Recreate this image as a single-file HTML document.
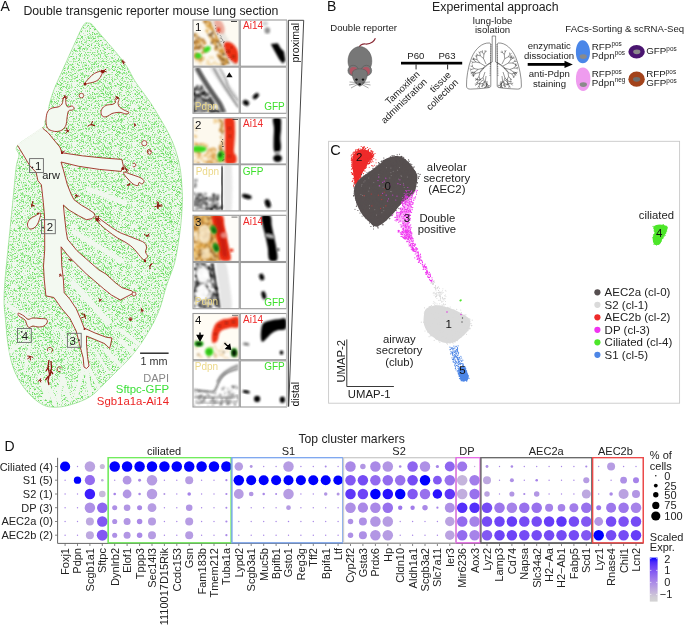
<!DOCTYPE html>
<html><head><meta charset="utf-8"><style>
html,body{margin:0;padding:0;background:#fff;}
body{width:685px;height:628px;overflow:hidden;position:relative;}
svg{position:absolute;left:0;top:0;font-family:"Liberation Sans",sans-serif;will-change:transform;}
</style></head><body>
<svg width="685" height="628" viewBox="0 0 685 628">
<text x="0.6" y="10.9" font-size="14" fill="#111" text-anchor="start" >A</text><text x="23.4" y="15.2" font-size="12.3" fill="#222" text-anchor="start" >Double transgenic reporter mouse lung section</text><defs><clipPath id="lungclip"><path d="M88.5,23.0 C89.9,22.9 90.7,23.4 92.0,24.5 C93.3,25.6 94.1,26.9 96.4,29.6 C98.7,32.3 102.7,37.0 105.9,40.7 C109.1,44.4 112.0,47.5 115.5,51.8 C119.0,56.0 123.4,61.4 126.6,66.2 C129.8,71.0 131.9,76.2 134.6,80.5 C137.2,84.8 139.8,88.0 142.5,91.7 C145.2,95.4 147.7,98.6 150.5,102.8 C153.3,107.0 156.1,111.6 159.3,117.1 C162.5,122.5 166.8,129.8 169.6,135.5 C172.4,141.2 174.3,146.1 176.0,151.4 C177.7,156.7 179.1,162.2 180.0,167.3 C180.9,172.4 181.2,176.4 181.6,181.7 C182.0,187.0 182.4,193.5 182.4,199.2 C182.4,204.9 182.0,210.5 181.6,215.9 C181.2,221.3 180.7,226.5 180.0,231.8 C179.3,237.1 178.5,242.5 177.6,247.8 C176.7,253.1 175.9,258.3 174.4,263.7 C172.9,269.1 170.2,275.2 168.5,280.0 C166.8,284.8 165.8,287.9 164.5,292.4 C163.2,296.9 162.1,302.1 160.4,306.9 C158.7,311.7 156.6,316.6 154.2,321.4 C151.8,326.2 148.7,331.4 145.9,335.9 C143.1,340.4 140.7,344.2 137.6,348.3 C134.5,352.4 130.8,356.9 127.3,360.7 C123.8,364.5 120.4,367.7 116.9,371.1 C113.5,374.6 110.0,377.9 106.6,381.4 C103.1,384.8 99.4,389.0 96.2,391.8 C93.0,394.6 91.1,396.2 87.6,398.1 C84.1,400.0 79.7,401.9 75.3,403.3 C70.9,404.8 65.7,406.2 61.3,406.8 C56.9,407.4 52.5,407.4 49.0,406.8 C45.5,406.2 43.5,405.3 40.3,403.3 C37.1,401.3 33.3,398.4 29.8,394.6 C26.3,390.8 22.2,385.6 19.3,380.6 C16.4,375.6 14.2,370.9 12.3,364.8 C10.4,358.7 9.1,351.7 7.9,343.8 C6.7,335.9 6.0,324.8 5.3,317.5 C4.6,310.2 4.0,307.0 4.0,300.0 C4.0,293.0 4.7,284.0 5.4,275.4 C6.1,266.8 7.2,257.3 8.1,248.3 C9.0,239.3 9.9,230.2 10.8,221.2 C11.7,212.2 12.6,203.1 13.5,194.1 C14.4,185.1 15.3,173.5 16.2,167.0 C17.1,160.5 18.8,158.6 19.0,155.0 C19.2,151.4 13.7,149.9 17.6,145.4 C21.5,140.9 37.8,132.1 42.4,128.0 C47.0,123.9 44.2,122.8 45.0,121.0 C45.8,119.2 46.5,120.0 47.2,117.3 C47.9,114.6 48.1,109.7 49.3,104.9 C50.5,100.1 52.2,94.2 54.5,88.3 C56.8,82.4 59.7,76.6 62.8,69.7 C65.9,62.8 69.6,54.3 73.1,46.9 C76.5,39.5 80.9,29.2 83.5,25.2 C86.1,21.2 87.1,23.1 88.5,23.0 Z"/></clipPath><pattern id="speck" x="0" y="0" width="60" height="60" patternUnits="userSpaceOnUse"><path d="M8 7h1M47 29h1M35 36h1M42 1h1M29 8h1M24 55h1M32 4h1M32 7h1M45 56h1M58 37h1M52 22h1M8 30h1M26 39h1M59 16h1M51 8h1M20 47h1M14 40h1M27 30h1M56 49h1M50 32h1M58 58h1M8 12h1M18 33h1M49 29h1M59 21h1M55 35h1M43 14h1M35 48h1M53 52h1M58 7h1M46 28h1M41 16h1M0 4h1M58 53h1M18 25h1M14 8h1M51 40h1M4 12h1M33 54h1M59 13h1M36 1h1M10 12h1M26 20h1M43 28h1M20 54h1M37 41h1M44 20h1M53 1h1M18 9h1M0 59h1M5 27h1M49 41h1M51 3h1M29 2h1M11 50h1M4 35h1M1 18h1M55 19h1M18 5h1M46 10h1M29 1h1M1 50h1M0 27h1M25 7h1M38 44h1M59 11h1M55 3h1M8 35h1M52 53h1M44 1h1M25 48h1M31 11h1M40 5h1M41 1h1M21 17h1M56 43h1M39 29h1M17 51h1M56 13h1M14 18h1M28 15h1M24 58h1M22 56h1M30 20h1M56 26h1M46 18h1M59 44h1M52 2h1M6 4h1M31 24h1M58 14h1M10 50h1M18 44h1M17 32h1M4 39h1M54 41h1M52 46h1M34 55h1M28 8h1M33 37h1M10 8h1M39 26h1M28 47h1M41 53h1M10 45h1M32 2h1M4 21h1M38 9h1M32 59h1M8 8h1M57 14h1M52 21h1M45 3h1M37 52h1M20 38h1M12 9h1M0 29h1M31 4h1M13 36h1M21 13h1M0 2h1M38 6h1M50 33h1M15 38h1M9 19h1M29 38h1M8 21h1M5 7h1M13 18h1M54 23h1M6 54h1M34 6h1M4 5h1M54 33h1M40 57h1M24 54h1M24 42h1M49 4h1M44 48h1M58 41h1M29 8h1M46 27h1M48 2h1M20 48h1M36 43h1M35 48h1M49 45h1M39 16h1M4 47h1M21 14h1M0 8h1M2 23h1M17 29h1M34 17h1M32 36h1M40 36h1M2 14h1M47 37h1M17 21h1M55 44h1M22 17h1M7 47h1M37 24h1M41 33h1M31 40h1M45 31h1M24 15h1M18 58h1M11 5h1M37 19h1M5 32h1M44 1h1M29 9h1M34 47h1M48 47h1M17 38h1M38 54h1M41 45h1M5 17h1M22 38h1M52 20h1M29 44h1M11 23h1M11 9h1M41 52h1M8 41h1M41 44h1M42 33h1M6 46h1M11 26h1M57 33h1M17 3h1M15 33h1M51 48h1M12 42h1M38 48h1M29 29h1M25 52h1M31 6h1M30 52h1M50 22h1M52 5h1M44 37h1M0 27h1M22 25h1M15 51h1M49 8h1M45 37h1M11 24h1M16 31h1M7 29h1M7 8h1M51 30h1M17 51h1M20 10h1M53 0h1M56 4h1M48 27h1M7 58h1M25 2h1M43 59h1M9 32h1M55 7h1M47 25h1M3 12h1M51 42h1M53 32h1M7 17h1M17 15h1M4 52h1M5 45h1M42 26h1M37 24h1M31 44h1M27 58h1M50 4h1M54 9h1M12 21h1M48 30h1M45 4h1M44 3h1M14 13h1M50 23h1M46 44h1M41 36h1M51 1h1M39 2h1M37 27h1M58 52h1M3 54h1M10 21h1M32 53h1M20 55h1M17 24h1M55 44h1M40 21h1M0 9h1M18 34h1M52 5h1M3 39h1M14 48h1M34 54h1M27 26h1M46 7h1M12 54h1M8 52h1M41 58h1M16 35h1M2 40h1M3 22h1M19 10h1M32 17h1M5 43h1M11 19h1M19 41h1M43 30h1M4 26h1M42 58h1M57 9h1M14 29h1M15 9h1M13 56h1M42 29h1M33 19h1M32 10h1M3 35h1M33 23h1M27 7h1M50 1h1M28 23h1M46 34h1M11 31h1M35 54h1M31 54h1M20 56h1M56 47h1M51 28h1M56 31h1M35 23h1M34 23h1M34 2h1M3 47h1M51 14h1M1 1h1M46 27h1M16 43h1M31 26h1M5 21h1M46 39h1M28 9h1M38 0h1M59 35h1M42 31h1M20 51h1M1 24h1M43 47h1M14 1h1M58 1h1M48 35h1M0 13h1M10 4h1M35 7h1M20 22h1M2 20h1M36 33h1M32 53h1M12 21h1M40 11h1M18 34h1M42 0h1M23 23h1M19 19h1M50 23h1M36 3h1M45 33h1M22 37h1M45 44h1M51 57h1M45 21h1M45 39h1M19 26h1M0 12h1M8 53h1M55 44h1M16 56h1M14 49h1M45 55h1M44 7h1M0 0h1M58 11h1M50 24h1M51 41h1M3 26h1M40 30h1M8 45h1M41 4h1M11 40h1M7 2h1M22 14h1M21 43h1M13 40h1M35 24h1M6 17h1M22 49h1M0 16h1M44 1h1M34 14h1M28 1h1M14 48h1M57 7h1M53 58h1M38 12h1M39 18h1M20 35h1M8 18h1M56 22h1M37 6h1M43 23h1M36 1h1M11 13h1M7 54h1M30 16h1M14 16h1M14 40h1M32 52h1M49 17h1M19 22h1M49 42h1M26 47h1M37 36h1M43 10h1M39 10h1M5 45h1M2 42h1M12 53h1M2 46h1M54 25h1M58 7h1M51 53h1M13 41h1M44 34h1M2 40h1M5 23h1M16 20h1M59 34h1M20 28h1M42 42h1M47 56h1M53 50h1M36 23h1M23 22h1M27 55h1M39 23h1M47 48h1M8 5h1M26 27h1M2 30h1M35 48h1M35 52h1M26 9h1M43 37h1M28 37h1M13 9h1M19 50h1M49 33h1M16 57h1M58 11h1M41 31h1M51 19h1M29 38h1M38 36h1M15 30h1M54 19h1M13 30h1M27 22h1M59 53h1M6 27h1M38 28h1M58 15h1M55 15h1M52 57h1M15 18h1M5 52h1M9 35h1M19 58h1M38 9h1M46 56h1M34 46h1M43 34h1M48 42h1M10 43h1M33 26h1M35 38h1M7 13h1M46 1h1M6 40h1M11 28h1M47 54h1M49 15h1M19 49h1M46 59h1M44 53h1M24 57h1M19 9h1M32 9h1M2 13h1M22 21h1M1 6h1M7 9h1M45 1h1M19 55h1M21 21h1M44 37h1M14 27h1M29 44h1M24 48h1M25 22h1M19 32h1M28 5h1M24 17h1M29 13h1M52 18h1M30 19h1M34 34h1M22 19h1M41 19h1M27 49h1M1 0h1M28 0h1M33 3h1M12 51h1M31 38h1M12 43h1M9 57h1M4 13h1M54 55h1M12 14h1M58 31h1M41 40h1M35 47h1M9 14h1M9 28h1M1 2h1M17 17h1M49 58h1M18 54h1M50 34h1M31 47h1M6 54h1M11 19h1M51 58h1M6 26h1M54 9h1M29 31h1M1 35h1M26 41h1M50 40h1M55 2h1M50 38h1M57 55h1M35 40h1M33 58h1M10 30h1M51 48h1M23 8h1M19 53h1M17 26h1M10 52h1M28 19h1M5 37h1M26 50h1M57 42h1M7 37h1M52 58h1M19 5h1M12 6h1M37 33h1M27 57h1M10 41h1M57 18h1M32 6h1M21 26h1M43 28h1M47 28h1M11 37h1M9 16h1M53 52h1M49 17h1M40 6h1M45 20h1M10 56h1M29 9h1M40 16h1M40 55h1M21 20h1M11 50h1M21 2h1M25 53h1M6 14h1M56 10h1M6 44h1M4 59h1M51 57h1M42 45h1M7 54h1M55 59h1M37 33h1M10 8h1M37 50h1M42 23h1M38 18h1M1 30h1M56 2h1M15 1h1M23 15h1M9 35h1M51 44h1M52 57h1M49 49h1M4 56h1M4 38h1M59 44h1M43 35h1M17 4h1M38 3h1M31 45h1M10 12h1M54 47h1M43 27h1M56 0h1M15 33h1M2 26h1M31 4h1M10 15h1M57 18h1M38 20h1M17 42h1M49 10h1M9 26h1M28 36h1M40 56h1M53 6h1M12 4h1M56 11h1M38 13h1M12 9h1M57 4h1M52 12h1M1 13h1M21 28h1M35 38h1M33 21h1M18 10h1M24 5h1M27 15h1M37 10h1M34 28h1M27 52h1M24 42h1M6 12h1M35 2h1M57 4h1M40 26h1M47 21h1M58 40h1M3 5h1M17 15h1M52 41h1M47 34h1M8 31h1M40 54h1M22 6h1M16 11h1M19 33h1M38 33h1M1 58h1M16 58h1M1 35h1M42 45h1M49 41h1M12 7h1M39 36h1M28 18h1M7 21h1M20 9h1M2 0h1M37 51h1M38 43h1M17 45h1M45 17h1M0 25h1M53 10h1M15 36h1M15 50h1M25 46h1M11 56h1M20 15h1M25 42h1M18 7h1M47 32h1M55 6h1M45 32h1M45 32h1M4 20h1M27 20h1M19 42h1M6 28h1M57 24h1M2 6h1M57 16h1M16 50h1M14 58h1M7 22h1M28 52h1M34 52h1M56 13h1M44 16h1M56 41h1M30 18h1M38 57h1M7 21h1M50 43h1M34 42h1M22 12h1M20 51h1M12 19h1M4 6h1M34 3h1M47 27h1M37 37h1M59 16h1M16 50h1M34 16h1M1 50h1M11 1h1M57 15h1M2 9h1M22 26h1M29 21h1M38 23h1M23 51h1M30 34h1M17 36h1M39 23h1M27 48h1M18 30h1M4 44h1M9 54h1M21 36h1M42 26h1M11 15h1M39 54h1M52 45h1M49 47h1M21 13h1M53 26h1M38 53h1M49 14h1M56 48h1M0 32h1M0 13h1M38 22h1M36 4h1M7 40h1M12 43h1M13 1h1M2 18h1M2 46h1M3 12h1M38 32h1M35 48h1M39 34h1M16 7h1M58 54h1M39 44h1M29 33h1M41 19h1M27 34h1M51 23h1M2 7h1M5 7h1M49 2h1M42 10h1M13 14h1M30 38h1M35 34h1M7 35h1M5 49h1M3 5h1M11 23h1M50 4h1M11 25h1M13 4h1M33 3h1M42 6h1M26 23h1M45 45h1M28 16h1M51 44h1M15 13h1M52 17h1M8 28h1M33 4h1M55 26h1M38 35h1M55 49h1M23 3h1M37 47h1M51 34h1M32 34h1M8 3h1M27 52h1M17 16h1M59 32h1M5 32h1M2 54h1M47 36h1M58 59h1M22 13h1M16 39h1" stroke="#90e68a" stroke-width="1" transform="translate(0,0.5)"/><path d="M14 34h1M29 30h1M47 37h1M32 33h1M23 20h1M49 38h1M22 5h1M48 28h1M47 27h1M39 12h1M10 34h1M44 40h1M41 7h1M45 17h1M33 3h1M8 35h1M57 4h1M11 13h1M42 26h1M47 27h1M54 1h1M34 56h1M44 13h1M10 36h1M6 13h1M31 35h1M53 21h1M14 19h1M34 28h1M1 35h1M45 35h1M31 41h1M30 16h1M8 5h1M23 15h1M40 19h1M33 36h1M44 24h1M21 18h1M40 5h1M38 35h1M13 6h1M20 31h1M15 41h1M37 37h1M23 9h1M29 21h1M48 56h1M1 5h1M27 40h1M7 26h1M27 36h1M47 23h1M5 7h1M40 33h1M56 0h1M56 51h1M46 47h1M8 22h1M8 32h1M25 31h1M47 58h1M51 2h1M27 17h1M37 24h1M26 47h1M46 43h1M16 25h1M26 0h1M33 38h1M0 24h1M13 7h1M57 37h1M56 26h1M3 18h1M3 16h1M39 31h1M36 14h1M19 23h1M11 56h1M45 28h1M37 15h1M42 31h1M3 55h1M44 51h1M57 40h1M51 53h1M18 45h1M24 40h1M55 25h1M59 8h1M53 43h1M1 38h1M51 58h1M6 19h1M35 52h1M17 13h1M48 56h1M2 59h1M39 2h1M27 19h1M25 59h1M45 58h1M49 40h1M43 8h1M8 0h1M43 14h1M25 56h1M58 48h1M1 25h1M57 45h1M3 54h1M15 17h1M5 52h1M31 16h1M10 19h1M24 2h1M3 9h1M40 33h1M59 1h1M1 32h1M5 10h1M55 44h1M31 7h1M37 12h1M54 16h1M1 34h1M19 48h1M23 45h1M42 44h1M36 40h1M45 32h1M39 20h1M48 10h1M1 51h1M49 24h1M33 39h1M7 4h1M31 21h1M24 6h1M11 21h1M54 43h1M59 20h1M32 40h1M30 7h1M39 23h1M37 24h1M41 30h1M7 13h1M30 41h1M13 52h1M17 48h1M57 1h1M59 29h1M23 20h1M59 34h1M22 4h1M31 43h1M51 25h1M22 56h1M11 1h1M24 25h1M1 29h1M26 49h1M1 45h1M2 10h1M54 18h1M38 44h1M25 25h1M25 15h1M29 55h1M14 50h1M25 21h1M48 32h1M37 55h1M59 12h1M37 54h1M5 53h1M16 43h1M12 41h1M39 41h1M5 32h1M18 34h1M57 11h1M34 33h1M9 40h1M38 29h1M46 40h1M14 27h1M11 48h1M37 43h1M31 5h1M7 46h1M36 17h1M36 4h1M22 7h1M28 19h1M50 31h1M58 19h1M51 12h1M41 46h1M56 22h1M45 52h1M25 14h1M34 41h1M7 21h1M35 50h1M19 38h1M44 40h1M10 5h1M9 45h1M31 21h1M1 44h1M26 50h1M29 7h1M48 0h1M23 45h1M27 58h1M34 54h1M50 26h1M51 50h1M17 1h1M46 3h1M55 34h1M37 31h1M58 49h1M40 14h1M34 27h1M43 59h1M12 18h1M59 24h1M52 36h1M14 59h1M48 10h1M35 41h1M35 24h1M19 24h1M45 15h1M51 27h1M10 34h1M11 23h1M8 30h1M5 38h1M51 51h1M9 33h1M26 22h1M28 57h1M17 10h1M47 2h1M28 54h1M29 15h1M18 9h1M48 23h1M20 20h1M43 21h1M43 51h1M51 17h1M43 7h1M16 12h1M35 56h1M42 25h1M14 21h1M57 46h1M19 56h1M22 30h1M25 48h1M57 15h1M30 21h1M8 34h1M52 14h1M0 16h1M24 11h1M49 15h1M30 50h1M48 47h1M58 6h1M39 20h1M28 43h1M7 51h1M14 33h1M32 43h1M47 14h1M21 46h1M50 49h1M43 24h1M47 14h1M45 1h1M42 37h1M31 37h1M36 0h1M40 31h1M1 56h1M2 1h1M10 8h1M15 3h1M36 26h1M42 23h1M44 52h1M21 3h1M44 12h1M6 56h1M56 1h1M58 15h1M50 23h1M54 0h1M38 17h1M59 36h1M47 36h1M1 36h1M23 39h1M10 36h1M49 2h1M24 39h1M9 35h1M6 13h1M6 25h1M40 14h1M53 52h1M41 16h1M50 9h1M9 47h1M43 45h1M24 51h1M17 40h1M23 25h1M29 28h1M38 33h1M51 35h1M59 56h1M55 15h1M51 46h1M40 1h1M37 11h1M12 56h1M32 15h1M34 30h1M16 54h1M49 39h1M50 29h1M52 42h1M38 58h1M1 56h1M25 10h1M4 8h1M15 17h1M42 8h1M9 45h1M13 50h1M31 8h1M18 4h1M32 19h1M17 41h1M18 46h1M12 27h1M16 38h1M52 55h1M51 52h1M35 7h1M38 42h1M34 46h1M26 54h1M56 25h1M43 9h1M33 28h1M40 22h1M6 23h1M52 48h1M52 39h1M29 40h1M47 39h1M5 8h1M26 3h1M21 23h1M43 50h1M30 38h1M42 47h1M25 37h1M9 47h1M40 59h1M54 42h1M1 51h1M34 58h1M18 44h1M8 48h1M26 4h1M31 2h1M28 55h1M18 14h1M36 18h1M10 8h1M12 38h1M16 1h1M56 47h1M12 17h1M6 44h1M37 54h1M1 41h1M9 25h1M48 37h1M59 51h1M26 42h1M56 15h1M58 0h1M29 52h1M33 37h1M30 3h1M12 33h1M24 35h1M43 17h1M12 53h1M36 14h1M33 8h1M43 18h1M59 20h1M50 53h1M8 39h1M20 7h1M31 23h1M23 6h1M21 42h1M19 51h1M22 5h1M49 29h1M9 14h1M52 17h1M25 44h1M39 58h1M49 16h1M53 32h1M13 18h1M23 3h1M2 36h1M49 9h1M7 41h1M41 44h1M54 8h1M30 35h1M33 12h1M17 45h1M56 17h1M30 41h1M44 38h1M52 34h1M0 13h1M51 50h1M16 21h1M19 46h1M2 28h1M32 26h1M33 42h1M46 20h1M43 45h1M51 26h1M6 44h1M36 41h1M43 56h1M58 24h1M1 20h1M3 59h1M45 30h1M41 25h1M50 42h1M45 15h1M7 57h1M47 45h1M7 38h1M37 17h1M39 48h1M44 55h1M28 47h1M39 54h1M56 5h1M55 44h1M23 51h1M54 28h1M24 4h1M16 32h1M50 14h1M46 1h1M0 56h1M0 49h1M38 38h1M49 44h1M50 40h1M59 27h1M25 7h1M57 17h1M53 30h1M15 34h1M6 18h1M34 7h1M4 20h1M46 11h1M57 55h1M5 13h1M30 23h1M21 32h1M37 15h1M29 29h1M14 33h1M39 2h1M47 56h1M42 32h1M48 8h1M23 58h1M46 10h1M14 43h1M34 28h1M8 15h1M33 22h1M49 28h1M52 22h1M51 14h1M25 24h1M45 26h1M17 41h1M14 11h1M41 2h1M22 50h1M53 4h1M53 37h1M33 32h1M2 58h1M37 11h1M57 53h1M34 7h1M11 10h1M53 39h1M18 9h1M25 35h1M28 40h1M32 7h1M48 47h1M42 25h1M2 58h1M59 0h1M13 4h1M35 37h1M45 15h1M11 24h1M46 54h1M40 20h1M35 3h1M59 8h1M23 33h1M29 46h1M19 45h1M30 28h1M23 14h1M27 7h1M1 13h1M51 12h1M5 54h1M8 24h1M52 7h1M26 38h1M49 27h1M7 1h1M49 58h1M12 56h1M37 15h1M20 49h1M8 27h1M26 40h1M56 39h1M53 43h1M20 26h1M11 8h1M23 48h1M31 26h1M45 26h1M19 45h1M25 41h1M3 59h1M23 23h1M53 38h1M25 5h1M36 6h1M34 15h1M44 16h1M58 26h1M20 13h1M29 56h1M7 25h1M28 22h1M5 54h1M54 47h1M47 46h1M3 54h1M53 44h1M27 18h1M54 57h1M9 1h1M6 53h1M31 25h1M18 20h1M58 28h1M6 23h1M3 51h1M32 48h1M44 44h1M1 13h1M53 26h1M24 4h1M10 44h1M3 2h1M28 23h1M50 9h1M59 51h1M22 55h1M30 17h1M33 52h1M13 10h1M52 42h1M22 15h1M12 26h1M53 36h1M31 21h1M28 11h1M50 35h1M25 47h1M34 59h1M2 19h1M34 15h1M36 4h1M11 12h1M30 1h1M10 14h1M51 43h1M28 6h1M56 38h1M43 17h1M17 13h1M41 29h1M53 26h1M58 26h1M37 7h1M6 33h1M39 54h1M48 0h1M6 4h1M29 35h1M12 19h1M27 15h1M13 59h1M13 18h1M6 55h1M38 37h1M21 1h1M5 15h1M25 4h1M10 32h1M45 54h1M36 3h1M38 1h1M14 1h1M9 16h1M39 9h1M36 58h1M20 46h1M37 56h1M19 34h1M19 49h1M2 42h1M2 17h1M43 39h1M24 17h1M29 27h1M13 49h1M23 13h1M14 10h1M53 51h1M11 27h1M34 10h1M0 19h1M52 16h1M42 53h1M11 28h1M25 55h1M35 28h1M19 56h1M7 54h1M36 34h1M31 47h1M11 17h1M14 6h1M1 36h1M37 3h1M37 28h1M30 37h1M34 46h1M57 53h1M20 12h1M16 51h1M21 29h1M6 37h1M26 27h1M40 50h1M32 17h1M19 0h1M56 49h1M9 39h1M34 42h1M7 7h1M41 12h1M32 37h1M57 44h1M54 39h1M39 35h1M46 39h1M49 8h1M3 27h1M48 19h1M42 44h1M46 31h1M53 43h1M34 41h1M34 54h1M38 51h1M51 3h1M17 40h1M39 22h1M49 6h1M23 28h1M8 50h1M2 47h1M54 6h1M26 12h1M50 41h1M18 58h1M11 4h1M24 5h1M34 41h1M52 36h1M2 48h1M30 11h1M38 29h1M22 48h1M37 22h1M49 23h1M55 1h1M26 47h1M32 26h1M30 22h1M51 39h1M57 51h1M58 51h1M27 20h1M15 36h1M23 23h1M42 50h1M47 47h1M48 39h1M6 49h1M48 30h1M19 34h1M48 9h1M16 42h1M39 17h1M47 33h1M20 0h1M51 23h1M30 36h1M54 37h1M41 33h1M35 15h1M32 39h1M20 39h1M40 35h1M45 22h1M22 9h1M42 33h1M30 3h1M35 54h1M3 21h1M27 16h1M9 27h1M59 6h1M10 53h1M53 58h1M5 49h1M37 34h1M50 56h1M49 19h1M38 27h1M28 10h1M27 25h1M1 55h1M26 39h1M6 32h1M38 32h1M30 38h1M50 36h1M0 27h1M25 30h1M42 6h1M48 26h1M31 40h1M29 13h1M25 16h1M7 48h1M34 8h1M16 11h1M30 49h1M38 7h1M43 18h1M44 54h1M30 24h1M59 49h1M45 45h1M34 1h1M35 13h1M56 54h1M52 19h1M51 24h1M32 56h1M31 6h1M44 58h1M15 38h1M32 37h1M47 0h1M53 37h1M19 49h1M37 23h1M50 4h1M25 7h1M46 4h1M9 24h1M53 49h1M55 3h1M49 24h1M42 24h1M51 23h1M17 31h1M1 32h1M33 12h1M8 47h1M50 31h1M8 21h1M54 57h1M10 42h1M55 9h1M41 58h1M6 34h1M17 20h1M18 14h1M9 4h1M35 14h1M37 17h1M26 20h1M8 59h1M38 35h1M18 11h1M3 22h1M47 25h1M5 4h1M41 28h1M19 30h1M1 54h1M25 25h1M5 41h1M38 40h1M20 10h1M44 34h1M29 26h1M54 9h1M39 1h1M15 59h1M9 5h1M25 53h1M37 21h1M44 4h1M59 57h1M5 39h1M38 24h1M31 50h1M38 42h1M7 24h1M46 43h1M15 44h1M49 10h1M57 42h1M37 54h1M11 41h1M36 47h1M15 59h1M53 47h1M25 28h1M46 33h1M25 46h1M27 37h1M5 4h1M12 3h1M12 16h1M38 49h1M17 13h1M23 19h1M1 49h1M44 7h1M52 16h1M12 15h1M3 2h1M22 44h1M56 19h1M3 24h1M19 19h1M1 3h1M13 50h1M2 8h1M47 17h1M2 43h1M11 20h1M5 30h1M45 19h1M42 33h1M21 19h1M36 27h1M43 0h1M23 0h1M19 30h1M38 49h1M12 59h1M26 48h1M6 31h1M58 38h1M22 40h1M50 43h1M30 59h1M54 20h1M29 26h1M6 46h1M9 12h1M41 5h1M43 53h1M38 0h1M39 53h1M55 54h1M1 9h1M35 45h1M33 17h1M11 16h1M49 59h1M49 53h1M34 45h1M52 26h1M43 59h1M0 34h1M3 58h1M26 43h1M55 2h1M34 47h1M52 50h1M58 52h1M29 37h1M13 2h1M5 52h1M59 25h1M12 11h1M58 12h1M20 12h1M43 48h1M48 4h1M59 55h1M35 1h1M42 43h1M3 13h1M10 30h1M17 10h1M13 53h1M55 9h1M58 28h1M10 36h1M10 27h1M20 12h1M16 17h1M11 56h1M48 7h1M10 1h1M39 54h1M50 53h1M34 41h1M24 28h1M4 57h1M49 24h1M13 0h1M11 26h1M49 31h1M49 32h1M15 53h1M22 4h1M40 51h1M37 31h1M22 43h1M7 24h1M32 17h1M44 20h1M15 16h1M41 27h1M45 35h1M8 49h1" stroke="#bcf1b5" stroke-width="1" transform="translate(0,0.5)"/><path d="M54 10h1M23 27h1M7 31h1M45 49h1M16 42h1M49 37h1M29 40h1M44 26h1M9 48h1M40 50h1M43 33h1M47 7h1M55 25h1M8 15h1M45 11h1M30 17h1M24 49h1M52 20h1M44 25h1M49 22h1M8 11h1M32 34h1M0 25h1M59 56h1M50 37h1M13 58h1M5 51h1M34 29h1M57 0h1M43 12h1M55 7h1M23 44h1M26 8h1M18 38h1M30 19h1M30 28h1M31 45h1M2 17h1M4 10h1M44 17h1M5 56h1M34 33h1M24 17h1M4 8h1M36 4h1M17 20h1M46 36h1M15 27h1M18 48h1M58 59h1M10 34h1M29 20h1M5 47h1M47 5h1M38 45h1M45 52h1M29 46h1M26 5h1M52 34h1M19 48h1M58 24h1M14 50h1M52 9h1M21 31h1M42 33h1M0 47h1M7 24h1M26 15h1M47 42h1M8 6h1M41 22h1M0 28h1M19 47h1M28 25h1M41 33h1M40 40h1M45 40h1M46 57h1M51 27h1M15 34h1M43 1h1M39 11h1M32 14h1M41 12h1M27 31h1M58 11h1M48 34h1M44 49h1M34 4h1M55 14h1M35 29h1M19 2h1M25 8h1M17 34h1M49 23h1M26 54h1M57 34h1M28 45h1M36 20h1M0 22h1M58 51h1M41 36h1M20 54h1M56 15h1M53 6h1M38 40h1M52 7h1M17 4h1M1 23h1M54 41h1M39 21h1M35 45h1M51 27h1M16 17h1M32 32h1M57 36h1M31 8h1M4 35h1M53 10h1M38 58h1M50 31h1M59 12h1M23 2h1M33 12h1M19 19h1M48 34h1M4 39h1M55 42h1M50 26h1M21 37h1M59 33h1M29 17h1M15 13h1M57 23h1M51 41h1M59 8h1M28 38h1M54 1h1M26 11h1M46 40h1M23 48h1M39 46h1M35 41h1M46 15h1M19 59h1M22 36h1M3 54h1M11 56h1M48 14h1M27 58h1M12 4h1M33 38h1M20 15h1M25 5h1M8 34h1M57 12h1M1 47h1M1 27h1M24 16h1M18 0h1M21 41h1M59 38h1M33 48h1M33 22h1M31 54h1M36 1h1M36 55h1M27 45h1M43 6h1M1 59h1M47 5h1M7 45h1M40 14h1M50 41h1M52 50h1M13 7h1M43 19h1M48 53h1M21 28h1M21 9h1M38 5h1M3 7h1M52 6h1M10 21h1M6 46h1M45 27h1M1 5h1M23 21h1M43 29h1M3 26h1M34 38h1M2 40h1M8 44h1M45 32h1M46 1h1M21 46h1M53 46h1M57 43h1M32 26h1M21 53h1" stroke="#6cdc64" stroke-width="1" transform="translate(0,0.5)"/></pattern></defs><filter id="pblur" x="0" y="0" width="1" height="1"><feGaussianBlur stdDeviation="0.4"/></filter><path d="M88.5,23.0 C89.9,22.9 90.7,23.4 92.0,24.5 C93.3,25.6 94.1,26.9 96.4,29.6 C98.7,32.3 102.7,37.0 105.9,40.7 C109.1,44.4 112.0,47.5 115.5,51.8 C119.0,56.0 123.4,61.4 126.6,66.2 C129.8,71.0 131.9,76.2 134.6,80.5 C137.2,84.8 139.8,88.0 142.5,91.7 C145.2,95.4 147.7,98.6 150.5,102.8 C153.3,107.0 156.1,111.6 159.3,117.1 C162.5,122.5 166.8,129.8 169.6,135.5 C172.4,141.2 174.3,146.1 176.0,151.4 C177.7,156.7 179.1,162.2 180.0,167.3 C180.9,172.4 181.2,176.4 181.6,181.7 C182.0,187.0 182.4,193.5 182.4,199.2 C182.4,204.9 182.0,210.5 181.6,215.9 C181.2,221.3 180.7,226.5 180.0,231.8 C179.3,237.1 178.5,242.5 177.6,247.8 C176.7,253.1 175.9,258.3 174.4,263.7 C172.9,269.1 170.2,275.2 168.5,280.0 C166.8,284.8 165.8,287.9 164.5,292.4 C163.2,296.9 162.1,302.1 160.4,306.9 C158.7,311.7 156.6,316.6 154.2,321.4 C151.8,326.2 148.7,331.4 145.9,335.9 C143.1,340.4 140.7,344.2 137.6,348.3 C134.5,352.4 130.8,356.9 127.3,360.7 C123.8,364.5 120.4,367.7 116.9,371.1 C113.5,374.6 110.0,377.9 106.6,381.4 C103.1,384.8 99.4,389.0 96.2,391.8 C93.0,394.6 91.1,396.2 87.6,398.1 C84.1,400.0 79.7,401.9 75.3,403.3 C70.9,404.8 65.7,406.2 61.3,406.8 C56.9,407.4 52.5,407.4 49.0,406.8 C45.5,406.2 43.5,405.3 40.3,403.3 C37.1,401.3 33.3,398.4 29.8,394.6 C26.3,390.8 22.2,385.6 19.3,380.6 C16.4,375.6 14.2,370.9 12.3,364.8 C10.4,358.7 9.1,351.7 7.9,343.8 C6.7,335.9 6.0,324.8 5.3,317.5 C4.6,310.2 4.0,307.0 4.0,300.0 C4.0,293.0 4.7,284.0 5.4,275.4 C6.1,266.8 7.2,257.3 8.1,248.3 C9.0,239.3 9.9,230.2 10.8,221.2 C11.7,212.2 12.6,203.1 13.5,194.1 C14.4,185.1 15.3,173.5 16.2,167.0 C17.1,160.5 18.8,158.6 19.0,155.0 C19.2,151.4 13.7,149.9 17.6,145.4 C21.5,140.9 37.8,132.1 42.4,128.0 C47.0,123.9 44.2,122.8 45.0,121.0 C45.8,119.2 46.5,120.0 47.2,117.3 C47.9,114.6 48.1,109.7 49.3,104.9 C50.5,100.1 52.2,94.2 54.5,88.3 C56.8,82.4 59.7,76.6 62.8,69.7 C65.9,62.8 69.6,54.3 73.1,46.9 C76.5,39.5 80.9,29.2 83.5,25.2 C86.1,21.2 87.1,23.1 88.5,23.0 Z" fill="#f0f8ee"/><path d="M88.5,23.0 C89.9,22.9 90.7,23.4 92.0,24.5 C93.3,25.6 94.1,26.9 96.4,29.6 C98.7,32.3 102.7,37.0 105.9,40.7 C109.1,44.4 112.0,47.5 115.5,51.8 C119.0,56.0 123.4,61.4 126.6,66.2 C129.8,71.0 131.9,76.2 134.6,80.5 C137.2,84.8 139.8,88.0 142.5,91.7 C145.2,95.4 147.7,98.6 150.5,102.8 C153.3,107.0 156.1,111.6 159.3,117.1 C162.5,122.5 166.8,129.8 169.6,135.5 C172.4,141.2 174.3,146.1 176.0,151.4 C177.7,156.7 179.1,162.2 180.0,167.3 C180.9,172.4 181.2,176.4 181.6,181.7 C182.0,187.0 182.4,193.5 182.4,199.2 C182.4,204.9 182.0,210.5 181.6,215.9 C181.2,221.3 180.7,226.5 180.0,231.8 C179.3,237.1 178.5,242.5 177.6,247.8 C176.7,253.1 175.9,258.3 174.4,263.7 C172.9,269.1 170.2,275.2 168.5,280.0 C166.8,284.8 165.8,287.9 164.5,292.4 C163.2,296.9 162.1,302.1 160.4,306.9 C158.7,311.7 156.6,316.6 154.2,321.4 C151.8,326.2 148.7,331.4 145.9,335.9 C143.1,340.4 140.7,344.2 137.6,348.3 C134.5,352.4 130.8,356.9 127.3,360.7 C123.8,364.5 120.4,367.7 116.9,371.1 C113.5,374.6 110.0,377.9 106.6,381.4 C103.1,384.8 99.4,389.0 96.2,391.8 C93.0,394.6 91.1,396.2 87.6,398.1 C84.1,400.0 79.7,401.9 75.3,403.3 C70.9,404.8 65.7,406.2 61.3,406.8 C56.9,407.4 52.5,407.4 49.0,406.8 C45.5,406.2 43.5,405.3 40.3,403.3 C37.1,401.3 33.3,398.4 29.8,394.6 C26.3,390.8 22.2,385.6 19.3,380.6 C16.4,375.6 14.2,370.9 12.3,364.8 C10.4,358.7 9.1,351.7 7.9,343.8 C6.7,335.9 6.0,324.8 5.3,317.5 C4.6,310.2 4.0,307.0 4.0,300.0 C4.0,293.0 4.7,284.0 5.4,275.4 C6.1,266.8 7.2,257.3 8.1,248.3 C9.0,239.3 9.9,230.2 10.8,221.2 C11.7,212.2 12.6,203.1 13.5,194.1 C14.4,185.1 15.3,173.5 16.2,167.0 C17.1,160.5 18.8,158.6 19.0,155.0 C19.2,151.4 13.7,149.9 17.6,145.4 C21.5,140.9 37.8,132.1 42.4,128.0 C47.0,123.9 44.2,122.8 45.0,121.0 C45.8,119.2 46.5,120.0 47.2,117.3 C47.9,114.6 48.1,109.7 49.3,104.9 C50.5,100.1 52.2,94.2 54.5,88.3 C56.8,82.4 59.7,76.6 62.8,69.7 C65.9,62.8 69.6,54.3 73.1,46.9 C76.5,39.5 80.9,29.2 83.5,25.2 C86.1,21.2 87.1,23.1 88.5,23.0 Z" fill="url(#speck)" filter="url(#pblur)"/><path d="M88.5,23.0 C89.9,22.9 90.7,23.4 92.0,24.5 C93.3,25.6 94.1,26.9 96.4,29.6 C98.7,32.3 102.7,37.0 105.9,40.7 C109.1,44.4 112.0,47.5 115.5,51.8 C119.0,56.0 123.4,61.4 126.6,66.2 C129.8,71.0 131.9,76.2 134.6,80.5 C137.2,84.8 139.8,88.0 142.5,91.7 C145.2,95.4 147.7,98.6 150.5,102.8 C153.3,107.0 156.1,111.6 159.3,117.1 C162.5,122.5 166.8,129.8 169.6,135.5 C172.4,141.2 174.3,146.1 176.0,151.4 C177.7,156.7 179.1,162.2 180.0,167.3 C180.9,172.4 181.2,176.4 181.6,181.7 C182.0,187.0 182.4,193.5 182.4,199.2 C182.4,204.9 182.0,210.5 181.6,215.9 C181.2,221.3 180.7,226.5 180.0,231.8 C179.3,237.1 178.5,242.5 177.6,247.8 C176.7,253.1 175.9,258.3 174.4,263.7 C172.9,269.1 170.2,275.2 168.5,280.0 C166.8,284.8 165.8,287.9 164.5,292.4 C163.2,296.9 162.1,302.1 160.4,306.9 C158.7,311.7 156.6,316.6 154.2,321.4 C151.8,326.2 148.7,331.4 145.9,335.9 C143.1,340.4 140.7,344.2 137.6,348.3 C134.5,352.4 130.8,356.9 127.3,360.7 C123.8,364.5 120.4,367.7 116.9,371.1 C113.5,374.6 110.0,377.9 106.6,381.4 C103.1,384.8 99.4,389.0 96.2,391.8 C93.0,394.6 91.1,396.2 87.6,398.1 C84.1,400.0 79.7,401.9 75.3,403.3 C70.9,404.8 65.7,406.2 61.3,406.8 C56.9,407.4 52.5,407.4 49.0,406.8 C45.5,406.2 43.5,405.3 40.3,403.3 C37.1,401.3 33.3,398.4 29.8,394.6 C26.3,390.8 22.2,385.6 19.3,380.6 C16.4,375.6 14.2,370.9 12.3,364.8 C10.4,358.7 9.1,351.7 7.9,343.8 C6.7,335.9 6.0,324.8 5.3,317.5 C4.6,310.2 4.0,307.0 4.0,300.0 C4.0,293.0 4.7,284.0 5.4,275.4 C6.1,266.8 7.2,257.3 8.1,248.3 C9.0,239.3 9.9,230.2 10.8,221.2 C11.7,212.2 12.6,203.1 13.5,194.1 C14.4,185.1 15.3,173.5 16.2,167.0 C17.1,160.5 18.8,158.6 19.0,155.0 C19.2,151.4 13.7,149.9 17.6,145.4 C21.5,140.9 37.8,132.1 42.4,128.0 C47.0,123.9 44.2,122.8 45.0,121.0 C45.8,119.2 46.5,120.0 47.2,117.3 C47.9,114.6 48.1,109.7 49.3,104.9 C50.5,100.1 52.2,94.2 54.5,88.3 C56.8,82.4 59.7,76.6 62.8,69.7 C65.9,62.8 69.6,54.3 73.1,46.9 C76.5,39.5 80.9,29.2 83.5,25.2 C86.1,21.2 87.1,23.1 88.5,23.0 Z" fill="none" stroke="#7ad872" stroke-width="0.8" opacity="0.7"/><line x1="74" y1="232" x2="122" y2="261" stroke="#f1f8ef" stroke-width="5" stroke-linecap="round" clip-path="url(#lungclip)"/><line x1="88" y1="189" x2="125" y2="203" stroke="#f1f8ef" stroke-width="5" stroke-linecap="round" clip-path="url(#lungclip)"/><line x1="73" y1="283" x2="108" y2="322" stroke="#f1f8ef" stroke-width="6" stroke-linecap="round" clip-path="url(#lungclip)"/><line x1="8" y1="305" x2="20" y2="315" stroke="#f1f8ef" stroke-width="4" stroke-linecap="round" clip-path="url(#lungclip)"/><line x1="100" y1="192" x2="110" y2="198" stroke="#f1f8ef" stroke-width="3" stroke-linecap="round" clip-path="url(#lungclip)"/><line x1="40" y1="378" x2="48" y2="398" stroke="#f1f8ef" stroke-width="5" stroke-linecap="round" clip-path="url(#lungclip)"/><line x1="62" y1="378" x2="58" y2="400" stroke="#f1f8ef" stroke-width="4" stroke-linecap="round" clip-path="url(#lungclip)"/><line x1="84" y1="366" x2="76" y2="396" stroke="#f1f8ef" stroke-width="4" stroke-linecap="round" clip-path="url(#lungclip)"/><line x1="48" y1="385" x2="55" y2="404" stroke="#f1f8ef" stroke-width="4" stroke-linecap="round" clip-path="url(#lungclip)"/><line x1="62" y1="376" x2="70" y2="400" stroke="#f1f8ef" stroke-width="4" stroke-linecap="round" clip-path="url(#lungclip)"/><line x1="120" y1="340" x2="136" y2="356" stroke="#f1f8ef" stroke-width="4" stroke-linecap="round" clip-path="url(#lungclip)"/><line x1="30" y1="345" x2="25" y2="370" stroke="#f1f8ef" stroke-width="3" stroke-linecap="round" clip-path="url(#lungclip)"/><line x1="96" y1="352" x2="108" y2="372" stroke="#f1f8ef" stroke-width="3" stroke-linecap="round" clip-path="url(#lungclip)"/><line x1="86" y1="366" x2="90" y2="394" stroke="#f1f8ef" stroke-width="4" stroke-linecap="round" clip-path="url(#lungclip)"/><line x1="88" y1="366" x2="100" y2="390" stroke="#f1f8ef" stroke-width="3.5" stroke-linecap="round" clip-path="url(#lungclip)"/><line x1="105" y1="350" x2="125" y2="370" stroke="#f1f8ef" stroke-width="4" stroke-linecap="round" clip-path="url(#lungclip)"/><line x1="50" y1="372" x2="44" y2="398" stroke="#f1f8ef" stroke-width="3.5" stroke-linecap="round" clip-path="url(#lungclip)"/><line x1="8" y1="305" x2="30" y2="318" stroke="#f1f8ef" stroke-width="3" stroke-linecap="round" clip-path="url(#lungclip)"/><line x1="28" y1="340" x2="10" y2="352" stroke="#f1f8ef" stroke-width="3" stroke-linecap="round" clip-path="url(#lungclip)"/><line x1="60" y1="330" x2="70" y2="350" stroke="#f1f8ef" stroke-width="3" stroke-linecap="round" clip-path="url(#lungclip)"/><line x1="120" y1="330" x2="140" y2="345" stroke="#f1f8ef" stroke-width="4" stroke-linecap="round" clip-path="url(#lungclip)"/><path d="M42.4,128.0 L48.4,133.0 L54.0,140.0 L59.8,147.0 L62.1,152.8 L82.8,155.9 L103.5,158.0 L121.8,159.4 L123.4,166.0 L121.1,171.4 L99.4,169.4 L78.7,166.3 L61.0,162.0 L63.4,170.0 L67.2,184.3 L71.0,193.9 L73.9,199.6 L81.5,205.3 L88.2,209.2 L93.9,213.0 L94.9,215.5 L92.0,218.7 L86.3,219.7 L78.7,215.8 L69.1,210.1 L63.4,205.0 L64.3,215.0 L66.2,231.6 L67.5,239.2 L77.0,250.7 L88.5,260.9 L98.7,269.8 L105.9,274.0 L115.5,282.8 L121.8,287.6 L131.4,290.8 L133.8,293.0 L120.3,300.0 L111.4,295.0 L103.8,288.9 L94.9,281.2 L86.0,273.6 L77.0,264.7 L68.1,255.8 L61.1,246.8 L61.8,266.0 L63.4,280.0 L64.2,292.7 L69.8,299.1 L76.2,308.7 L81.0,319.8 L84.1,328.0 L95.0,333.0 L106.4,337.3 L112.0,338.0 L110.5,345.0 L109.6,348.5 L104.8,343.7 L86.5,336.0 L86.5,343.7 L87.5,356.4 L89.0,366.0 L86.5,368.5 L84.0,367.0 L83.2,358.0 L79.4,343.7 L76.2,331.0 L69.8,318.2 L61.8,308.7 L53.9,297.5 L45.9,295.9 L44.3,280.0 L43.5,266.0 L44.7,250.0 L44.7,229.3 L44.5,216.0 L43.3,202.3 L41.4,184.9 L37.9,180.6 L36.2,172.5 L29.8,165.7 L17.6,145.4 Z" fill="#f3f9f1" stroke="#9a1f14" stroke-width="0.85" stroke-linejoin="round"/><path d="M96.3,216.3 C97.4,216.6 100.5,219.5 104.0,222.0 C107.5,224.5 113.6,229.0 117.3,231.2 C121.0,233.4 122.8,233.7 126.0,235.0 C129.2,236.3 133.4,237.9 136.4,239.2 C139.4,240.4 142.3,241.2 144.0,242.5 C145.7,243.8 146.2,245.4 146.5,247.0 C146.8,248.6 145.3,250.4 145.5,252.0 C145.7,253.6 147.8,255.2 147.5,256.5 C147.2,257.8 145.2,259.8 144.0,259.8 C142.8,259.8 142.2,258.4 140.3,256.4 C138.4,254.3 135.2,249.9 132.6,247.5 C130.0,245.1 127.5,243.6 125.0,242.0 C122.5,240.4 120.1,239.6 117.3,237.8 C114.5,236.0 110.5,233.0 108.0,231.0 C105.5,229.0 103.8,227.8 102.0,226.0 C100.2,224.2 98.2,222.1 97.3,220.5 C96.3,218.9 95.2,216.1 96.3,216.3 Z" fill="#f3f9f1" stroke="#9a1f14" stroke-width="0.85"/><path d="M47.5,112.0 C48.5,110.0 50.2,108.8 52.0,108.0 C53.8,107.2 56.3,107.7 58.0,107.0 C59.7,106.3 61.1,105.5 62.0,104.0 C62.9,102.5 62.9,99.2 63.5,98.0 C64.1,96.8 65.1,96.0 65.5,97.0 C65.9,98.0 65.6,102.3 66.0,104.0 C66.4,105.7 67.0,106.7 68.0,107.0 C69.0,107.3 71.0,105.8 72.0,106.0 C73.0,106.2 73.9,107.3 74.0,108.0 C74.1,108.7 73.4,109.5 72.5,110.0 C71.6,110.5 69.4,109.7 68.5,111.0 C67.6,112.3 67.4,115.7 67.0,118.0 C66.6,120.3 66.8,123.0 66.0,125.0 C65.2,127.0 63.7,128.9 62.0,130.0 C60.3,131.1 58.0,131.5 56.0,131.5 C54.0,131.5 51.5,130.8 50.0,130.0 C48.5,129.2 47.7,128.7 47.0,127.0 C46.3,125.3 45.9,122.5 46.0,120.0 C46.1,117.5 46.5,114.0 47.5,112.0 Z" fill="#f3f9f1" stroke="#9a1f14" stroke-width="0.85"/><path d="M84.6,84.2 C84.5,83.7 86.2,81.6 87.0,80.5 C87.8,79.4 88.4,78.8 89.6,77.6 C90.8,76.4 92.6,74.5 94.3,73.5 C96.0,72.5 98.2,71.8 99.5,71.4 C100.8,71.1 101.9,70.8 102.2,71.4 C102.5,72.0 102.2,73.4 101.6,74.8 C101.0,76.2 99.7,78.4 98.4,79.6 C97.1,80.8 95.5,81.5 93.7,82.1 C91.9,82.7 89.3,83.1 87.8,83.4 C86.3,83.8 84.7,84.7 84.6,84.2 Z" fill="#f3f9f1" stroke="#9a1f14" stroke-width="0.85"/><path d="M101.0,113.0 C100.9,111.6 101.5,109.3 102.5,108.0 C103.5,106.7 105.4,105.6 107.0,105.0 C108.6,104.4 110.6,104.9 112.0,104.5 C113.4,104.1 115.0,103.3 115.5,102.5 C116.0,101.7 114.8,100.4 115.0,99.5 C115.2,98.6 116.3,97.0 117.0,97.0 C117.7,97.0 118.8,98.5 119.0,99.5 C119.2,100.5 117.9,101.8 118.0,103.0 C118.1,104.2 118.5,105.8 119.5,107.0 C120.5,108.2 122.4,109.1 124.0,110.0 C125.6,110.9 128.7,111.8 129.0,112.5 C129.3,113.2 127.3,114.0 126.0,114.0 C124.7,114.0 122.5,112.8 121.0,112.5 C119.5,112.2 118.5,112.3 117.0,112.5 C115.5,112.7 113.7,112.8 112.0,113.5 C110.3,114.2 108.5,116.0 107.0,116.5 C105.5,117.0 104.0,117.1 103.0,116.5 C102.0,115.9 101.1,114.4 101.0,113.0 Z" fill="#f3f9f1" stroke="#9a1f14" stroke-width="0.85"/><path d="M27.5,224.0 C27.7,222.4 28.8,220.3 30.0,219.0 C31.2,217.7 33.2,217.0 35.0,216.0 C36.8,215.0 39.9,212.5 40.6,213.0 C41.4,213.5 40.1,217.0 39.5,219.0 C38.9,221.0 38.1,223.4 37.0,225.0 C35.9,226.6 34.3,227.9 33.0,228.5 C31.7,229.1 29.9,229.2 29.0,228.5 C28.1,227.8 27.3,225.6 27.5,224.0 Z" fill="#f3f9f1" stroke="#9a1f14" stroke-width="0.85"/><path d="M18.4,313.1 C19.2,313.1 22.4,315.0 24.0,316.0 C25.6,317.0 26.5,319.0 28.0,319.3 C29.5,319.6 31.0,318.1 33.0,318.0 C35.0,317.9 37.8,318.3 40.0,318.5 C42.2,318.7 44.8,318.4 46.0,319.0 C47.2,319.6 47.6,320.8 47.3,322.0 C47.0,323.2 45.5,325.2 44.0,326.0 C42.5,326.8 39.8,327.0 38.0,327.0 C36.2,327.0 34.5,325.9 33.0,326.0 C31.5,326.1 30.0,327.7 29.0,327.5 C28.0,327.3 27.7,326.2 27.0,325.0 C26.3,323.8 26.3,321.5 25.0,320.0 C23.7,318.5 20.1,317.1 19.0,316.0 C17.9,314.9 17.6,313.1 18.4,313.1 Z" fill="#f3f9f1" stroke="#9a1f14" stroke-width="0.85"/><path d="M124.0,172.0 C124.9,171.8 128.0,173.3 130.0,174.0 C132.0,174.7 134.2,175.3 136.0,176.0 C137.8,176.7 139.7,177.2 141.0,178.0 C142.3,178.8 143.9,180.0 144.1,181.0 C144.3,182.0 142.8,183.8 142.0,184.0 C141.2,184.2 139.7,182.2 139.0,182.5 C138.3,182.8 138.8,185.3 137.8,185.6 C136.8,185.8 134.6,185.1 133.0,184.0 C131.4,182.9 129.4,180.5 128.0,179.0 C126.6,177.5 125.2,176.2 124.5,175.0 C123.8,173.8 123.1,172.2 124.0,172.0 Z" fill="#f3f9f1" stroke="#9a1f14" stroke-width="0.85"/><circle cx="81.4" cy="95.6" r="2.3" fill="#f3f9f1" stroke="#9a1f14" stroke-width="0.75"/><circle cx="144.3" cy="143.2" r="2.6" fill="#f3f9f1" stroke="#9a1f14" stroke-width="0.75"/><circle cx="149.5" cy="152.5" r="1.8" fill="#f3f9f1" stroke="#9a1f14" stroke-width="0.75"/><circle cx="134" cy="294" r="2" fill="#f3f9f1" stroke="#9a1f14" stroke-width="0.75"/><circle cx="130.5" cy="319" r="1.5" fill="#f3f9f1" stroke="#9a1f14" stroke-width="0.75"/><line x1="17.6" y1="145.4" x2="42.4" y2="128" stroke="#f3f9f1" stroke-width="2"/><circle cx="123" cy="168.5" r="1.6" fill="#8e1a10"/><circle cx="97" cy="219.5" r="1.6" fill="#8e1a10"/><circle cx="85" cy="84" r="1.5" fill="#8e1a10"/><circle cx="103" cy="72" r="1.4" fill="#8e1a10"/><circle cx="101.5" cy="71.6" r="1.1" fill="#8e1a10"/><circle cx="145" cy="261" r="1.2" fill="#8e1a10"/><circle cx="130.5" cy="319.5" r="1.2" fill="#8e1a10"/><circle cx="62" cy="153" r="1" fill="#8e1a10"/><circle cx="84.5" cy="329" r="1" fill="#8e1a10"/><circle cx="38" cy="213.5" r="1" fill="#8e1a10"/><path d="M91.3,124.6 Q91.8,123.2 92.4,121.4 M91.3,124.6 Q92.3,124.7 93.7,125.5 M91.3,124.6 Q93.2,124.7 94.9,125.7 M91.3,124.6 Q89.7,124.6 87.9,126.1 " stroke="#8e1a10" stroke-width="1.0" fill="none" stroke-linecap="round"/><path d="M67.9,131.3 Q66.6,132.0 65.7,133.1 M67.9,131.3 Q66.8,130.7 65.7,130.5 M67.9,131.3 Q66.5,129.6 66.4,128.1 M67.9,131.3 Q68.0,130.6 69.2,129.9 " stroke="#8e1a10" stroke-width="1.0" fill="none" stroke-linecap="round"/><path d="M129.2,184.8 Q127.9,184.6 127.4,184.8 M129.2,184.8 Q129.6,183.6 129.8,183.3 M129.2,184.8 Q127.3,185.3 127.1,185.5 M129.2,184.8 Q129.5,183.1 129.8,183.0 " stroke="#8e1a10" stroke-width="1.0" fill="none" stroke-linecap="round"/><path d="M76.8,196.0 Q78.4,195.6 79.2,196.2 M76.8,196.0 Q75.8,196.6 75.2,197.8 M76.8,196.0 Q77.0,196.0 75.3,195.5 M76.8,196.0 Q76.2,195.1 76.1,194.3 " stroke="#8e1a10" stroke-width="1.0" fill="none" stroke-linecap="round"/><path d="M64.5,97.0 Q65.6,97.8 66.6,98.6 M64.5,97.0 Q64.7,96.2 65.1,95.2 M64.5,97.0 Q63.9,97.4 62.5,98.8 M64.5,97.0 Q66.2,96.8 67.2,96.9 " stroke="#8e1a10" stroke-width="1.0" fill="none" stroke-linecap="round"/><path d="M159.0,206.0 Q158.7,203.6 158.1,202.1 M159.0,206.0 Q156.4,206.1 154.8,206.6 M159.0,206.0 Q160.5,206.5 162.1,206.0 M159.0,206.0 Q159.6,205.2 161.6,204.7 " stroke="#8e1a10" stroke-width="1.0" fill="none" stroke-linecap="round"/><path d="M150.0,266.0 Q150.3,264.8 151.0,264.1 M150.0,266.0 Q151.1,264.5 152.2,263.3 M150.0,266.0 Q150.1,266.8 149.9,268.8 M150.0,266.0 Q150.4,265.5 151.6,264.2 " stroke="#8e1a10" stroke-width="1.0" fill="none" stroke-linecap="round"/><path d="M147.0,236.0 Q147.9,235.6 149.2,236.0 M147.0,236.0 Q147.9,235.3 149.1,234.2 M147.0,236.0 Q147.9,234.9 148.6,234.1 M147.0,236.0 Q145.6,235.3 144.3,234.2 " stroke="#8e1a10" stroke-width="1.0" fill="none" stroke-linecap="round"/><path d="M85.0,316.0 Q84.9,315.1 84.3,313.9 M85.0,316.0 Q85.5,318.0 85.6,318.6 M85.0,316.0 Q83.6,314.4 81.7,313.6 M85.0,316.0 Q83.7,317.5 81.8,317.8 " stroke="#8e1a10" stroke-width="1.0" fill="none" stroke-linecap="round"/><path d="M30.0,356.5 Q29.6,358.1 27.7,358.8 M30.0,356.5 Q30.2,357.5 30.4,360.0 M30.0,356.5 Q29.4,355.9 27.6,356.0 M30.0,356.5 Q31.2,356.5 32.8,357.3 " stroke="#8e1a10" stroke-width="1.0" fill="none" stroke-linecap="round"/><path d="M123.0,62.0 Q124.2,61.8 124.9,62.2 M123.0,62.0 Q122.6,60.8 122.8,60.1 M123.0,62.0 Q122.8,61.1 121.8,61.0 M123.0,62.0 Q122.5,62.9 123.9,64.3 " stroke="#8e1a10" stroke-width="1.0" fill="none" stroke-linecap="round"/><path d="M135.0,125.0 Q134.8,125.6 134.6,126.3 M135.0,125.0 Q136.4,124.9 136.2,125.1 M135.0,125.0 Q134.9,124.1 134.6,123.9 M135.0,125.0 Q134.9,124.8 134.4,123.7 " stroke="#8e1a10" stroke-width="1.0" fill="none" stroke-linecap="round"/><path d="M60.0,275.0 Q60.1,275.8 59.8,276.4 M60.0,275.0 Q59.4,274.0 59.9,273.8 M60.0,275.0 Q59.9,275.3 61.5,276.0 M60.0,275.0 Q60.1,275.3 61.0,275.0 " stroke="#8e1a10" stroke-width="1.0" fill="none" stroke-linecap="round"/><path d="M118.0,98.0 Q116.9,98.0 116.0,96.5 M118.0,98.0 Q117.2,97.7 116.2,96.5 M118.0,98.0 Q116.8,98.7 116.2,99.4 M118.0,98.0 Q117.2,98.5 116.6,97.9 " stroke="#8e1a10" stroke-width="1.0" fill="none" stroke-linecap="round"/><path d="M104.0,71.0 Q103.2,70.3 101.4,71.3 M104.0,71.0 Q104.0,69.6 105.9,69.2 M104.0,71.0 Q104.7,71.3 106.2,71.9 M104.0,71.0 Q102.9,70.5 101.4,70.3 " stroke="#8e1a10" stroke-width="1.0" fill="none" stroke-linecap="round"/><path d="M62.0,153.0 Q63.3,152.7 63.5,152.1 M62.0,153.0 Q61.7,152.0 62.5,151.5 M62.0,153.0 Q61.2,151.5 61.2,151.2 M62.0,153.0 Q63.0,151.9 64.4,151.1 " stroke="#8e1a10" stroke-width="1.0" fill="none" stroke-linecap="round"/><path d="M126.0,169.0 Q126.9,170.6 127.1,171.4 M126.0,169.0 Q126.3,170.1 126.9,171.3 M126.0,169.0 Q125.5,167.9 124.6,165.9 M126.0,169.0 Q127.6,169.5 128.3,170.1 " stroke="#8e1a10" stroke-width="1.0" fill="none" stroke-linecap="round"/><path d="M98.0,219.0 Q97.3,218.8 95.2,217.9 M98.0,219.0 Q98.0,220.2 97.9,221.5 M98.0,219.0 Q98.8,217.6 98.6,216.3 M98.0,219.0 Q98.0,220.2 99.9,221.1 " stroke="#8e1a10" stroke-width="1.0" fill="none" stroke-linecap="round"/><path d="M40.0,380.0 Q39.1,380.3 38.2,381.3 M40.0,380.0 Q40.0,380.6 40.7,382.0 M40.0,380.0 Q40.4,379.5 41.3,380.3 M40.0,380.0 Q40.9,379.3 40.8,378.7 " stroke="#8e1a10" stroke-width="1.0" fill="none" stroke-linecap="round"/><path d="M70.0,260.0 Q70.6,260.5 70.9,260.4 M70.0,260.0 Q71.7,260.0 71.8,260.2 M70.0,260.0 Q69.0,259.5 69.0,259.4 M70.0,260.0 Q69.5,258.6 68.7,259.4 " stroke="#8e1a10" stroke-width="1.0" fill="none" stroke-linecap="round"/><path d="M100.0,300.0 Q101.2,300.2 101.5,299.9 M100.0,300.0 Q99.9,299.4 99.3,298.8 M100.0,300.0 Q99.5,300.4 99.5,301.3 M100.0,300.0 Q100.1,300.9 100.5,301.1 " stroke="#8e1a10" stroke-width="1.0" fill="none" stroke-linecap="round"/><path d="M142.0,310.0 Q142.8,311.1 142.1,312.1 M142.0,310.0 Q142.0,311.2 141.0,311.7 M142.0,310.0 Q141.5,308.5 141.3,308.2 M142.0,310.0 Q142.0,310.4 143.3,310.7 " stroke="#8e1a10" stroke-width="1.0" fill="none" stroke-linecap="round"/><path d="M31.8,205.0 Q31.4,205.8 31.7,207.0 M31.8,205.0 Q33.0,205.1 34.1,205.6 M31.8,205.0 Q32.4,203.0 32.8,201.4 M31.8,205.0 Q32.9,205.5 34.1,206.0 " stroke="#8e1a10" stroke-width="1.0" fill="none" stroke-linecap="round"/><path d="M157.5,205.0 Q157.4,203.5 157.1,201.8 M157.5,205.0 Q157.7,206.8 157.8,208.6 M157.5,205.0 Q157.6,206.7 158.2,208.0 M157.5,205.0 Q159.0,205.0 159.7,205.3 " stroke="#8e1a10" stroke-width="1.0" fill="none" stroke-linecap="round"/><path d="M151.1,152.0 A2.0,2.0 0 1 0 148.8,153.4" stroke="#9a1f14" stroke-width="0.8" fill="none"/><path d="M50.9,352.4 A2.6,2.6 0 1 0 47.7,351.2" stroke="#9a1f14" stroke-width="0.8" fill="none"/><path d="M61.7,368.3 A2.4,2.4 0 1 0 60.6,371.3" stroke="#9a1f14" stroke-width="0.8" fill="none"/><path d="M132.6,166.1 A1.8,1.8 0 1 0 132.8,163.7" stroke="#9a1f14" stroke-width="0.8" fill="none"/><path d="M49,360 L48,367 L49.5,374 L48,381 L49,385 M51,361 L51.5,368 L50,376 M49,366 L46,371 M50,370 L53,374 M48.5,376 L45.5,380" stroke="#8e1a10" stroke-width="1.3" fill="none"/><rect x="29.6" y="158.6" width="13.8" height="14" fill="none" stroke="#6a6a6a" stroke-width="0.9"/><text x="34.9" y="169.79999999999998" font-size="11.5" fill="#222" text-anchor="start" >1</text><circle cx="32.4" cy="167.4" r="0.9" fill="#333"/><rect x="41.5" y="219.7" width="13.8" height="14" fill="none" stroke="#6a6a6a" stroke-width="0.9"/><text x="46.8" y="230.89999999999998" font-size="11.5" fill="#222" text-anchor="start" >2</text><circle cx="43" cy="227.5" r="0.9" fill="#333"/><rect x="67.4" y="333.3" width="13.8" height="14" fill="none" stroke="#6a6a6a" stroke-width="0.9"/><text x="69.60000000000001" y="344.5" font-size="11.5" fill="#222" text-anchor="start" >3</text><circle cx="79" cy="340.2" r="0.9" fill="#333"/><rect x="17.5" y="328.4" width="13.8" height="14" fill="none" stroke="#6a6a6a" stroke-width="0.9"/><text x="21.7" y="339.59999999999997" font-size="11.5" fill="#222" text-anchor="start" >4</text><circle cx="21.7" cy="331.8" r="0.9" fill="#333"/><text x="42.2" y="178.7" font-size="11" fill="#222" text-anchor="start" >arw</text><rect x="140.1" y="352.5" width="28.5" height="1.4" fill="#222"/><text x="140.5" y="365" font-size="10.8" fill="#333" text-anchor="start" >1 mm</text><text x="169" y="381.8" font-size="11" fill="#888" text-anchor="end" >DAPI</text><text x="169" y="393.3" font-size="11.4" fill="#3ee03a" text-anchor="end" >Sftpc-GFP</text><text x="169" y="404.6" font-size="11.4" fill="#ec2424" text-anchor="end" >Sgb1a1a-Ai14</text><defs><filter id="b1" x="-20%" y="-20%" width="140%" height="140%"><feGaussianBlur stdDeviation="1.1"/></filter><filter id="b2" x="-20%" y="-20%" width="140%" height="140%"><feGaussianBlur stdDeviation="0.8"/></filter><filter id="b3" x="-20%" y="-20%" width="140%" height="140%"><feGaussianBlur stdDeviation="0.85"/></filter></defs><clipPath id="ic00"><rect x="193.5" y="20.5" width="45.2" height="45.2"/></clipPath><clipPath id="ic01"><rect x="240.8" y="20.5" width="45.2" height="45.2"/></clipPath><clipPath id="ic10"><rect x="193.5" y="67.6" width="45.2" height="45.2"/></clipPath><clipPath id="ic11"><rect x="240.8" y="67.6" width="45.2" height="45.2"/></clipPath><clipPath id="ic20"><rect x="193.5" y="118.3" width="45.2" height="45.2"/></clipPath><clipPath id="ic21"><rect x="240.8" y="118.3" width="45.2" height="45.2"/></clipPath><clipPath id="ic30"><rect x="193.5" y="165.2" width="45.2" height="45.2"/></clipPath><clipPath id="ic31"><rect x="240.8" y="165.2" width="45.2" height="45.2"/></clipPath><clipPath id="ic40"><rect x="193.5" y="215.8" width="45.2" height="45.2"/></clipPath><clipPath id="ic41"><rect x="240.8" y="215.8" width="45.2" height="45.2"/></clipPath><clipPath id="ic50"><rect x="193.5" y="263.0" width="45.2" height="45.2"/></clipPath><clipPath id="ic51"><rect x="240.8" y="263.0" width="45.2" height="45.2"/></clipPath><clipPath id="ic60"><rect x="193.5" y="314.0" width="45.2" height="45.2"/></clipPath><clipPath id="ic61"><rect x="240.8" y="314.0" width="45.2" height="45.2"/></clipPath><clipPath id="ic70"><rect x="193.5" y="361.3" width="45.2" height="45.2"/></clipPath><clipPath id="ic71"><rect x="240.8" y="361.3" width="45.2" height="45.2"/></clipPath><rect x="193.5" y="20.5" width="45.2" height="45.2" fill="#fdfaf2"/><g clip-path="url(#ic00)"><g transform="translate(193.5,20.5)"><path d="M0.0,0.0 C2.3,-2.0 12.7,-1.7 14.0,0.0 C15.3,1.7 10.3,8.0 8.0,10.0 C5.7,12.0 1.3,13.7 0.0,12.0 C-1.3,10.3 -2.3,2.0 0.0,0.0 Z" fill="#fffdf6" filter="url(#b1)" opacity="1"/><g filter="url(#b3)" opacity="0.9"><circle cx="7.3" cy="24.5" r="0.9" fill="#8a5a20"/><circle cx="1.1" cy="23.6" r="0.9" fill="#d9a04a"/><circle cx="7.6" cy="23.6" r="1.1" fill="#d9a04a"/><circle cx="1.3" cy="16.7" r="0.9" fill="#e6b25a"/><circle cx="11.5" cy="30.3" r="1.6" fill="#b07028"/><circle cx="8.1" cy="37.1" r="1.6" fill="#b07028"/><circle cx="2.4" cy="32.5" r="1.1" fill="#c88a30"/><circle cx="8.1" cy="19.0" r="1.6" fill="#8a5a20"/><circle cx="2.5" cy="40.0" r="0.9" fill="#e6b25a"/><circle cx="10.2" cy="27.6" r="1.7" fill="#b07028"/><circle cx="8.4" cy="32.3" r="1.1" fill="#e6b25a"/><circle cx="2.7" cy="21.3" r="1.7" fill="#8a5a20"/><circle cx="2.2" cy="35.8" r="1.5" fill="#c88a30"/><circle cx="11.4" cy="28.9" r="1.4" fill="#e6b25a"/><circle cx="4.1" cy="35.6" r="1.5" fill="#8a5a20"/><circle cx="5.3" cy="20.4" r="1.7" fill="#c88a30"/><circle cx="7.9" cy="19.0" r="1.2" fill="#c88a30"/><circle cx="5.3" cy="17.4" r="1.3" fill="#8a5a20"/><circle cx="0.0" cy="29.9" r="1.1" fill="#c88a30"/><circle cx="3.1" cy="14.4" r="1.5" fill="#e6b25a"/><circle cx="5.7" cy="22.4" r="1.3" fill="#e6b25a"/><circle cx="9.1" cy="31.9" r="1.5" fill="#c88a30"/><circle cx="7.3" cy="20.3" r="1.4" fill="#c88a30"/><circle cx="5.2" cy="19.8" r="1.4" fill="#e6b25a"/><circle cx="2.3" cy="19.0" r="1.1" fill="#b07028"/><circle cx="9.4" cy="26.2" r="0.9" fill="#d9a04a"/><circle cx="2.2" cy="34.7" r="1.0" fill="#c88a30"/><circle cx="8.7" cy="19.9" r="1.4" fill="#8a5a20"/><circle cx="6.0" cy="28.0" r="1.8" fill="#d9a04a"/><circle cx="4.6" cy="27.0" r="1.7" fill="#c88a30"/><circle cx="2.4" cy="20.1" r="1.2" fill="#c88a30"/><circle cx="2.0" cy="37.2" r="1.2" fill="#c88a30"/><circle cx="7.7" cy="39.2" r="1.4" fill="#8a5a20"/><circle cx="3.3" cy="34.4" r="1.2" fill="#b07028"/><circle cx="0.2" cy="21.8" r="1.6" fill="#8a5a20"/><circle cx="2.3" cy="27.0" r="1.8" fill="#8a5a20"/><circle cx="11.1" cy="21.6" r="1.1" fill="#b07028"/><circle cx="4.8" cy="38.2" r="1.3" fill="#c88a30"/><circle cx="9.8" cy="19.8" r="1.5" fill="#b07028"/><circle cx="3.2" cy="16.4" r="1.0" fill="#b07028"/><circle cx="7.6" cy="37.2" r="1.4" fill="#e6b25a"/><circle cx="0.1" cy="35.8" r="1.4" fill="#e6b25a"/><circle cx="0.9" cy="34.4" r="1.4" fill="#d9a04a"/><circle cx="7.1" cy="39.1" r="1.5" fill="#b07028"/><circle cx="3.8" cy="20.7" r="1.6" fill="#b07028"/><circle cx="11.0" cy="22.7" r="1.8" fill="#c88a30"/><circle cx="0.1" cy="15.0" r="1.2" fill="#8a5a20"/><circle cx="1.2" cy="13.9" r="1.3" fill="#8a5a20"/><circle cx="4.1" cy="33.7" r="1.5" fill="#c88a30"/><circle cx="6.8" cy="26.0" r="1.4" fill="#8a5a20"/><circle cx="7.9" cy="20.1" r="1.1" fill="#e6b25a"/><circle cx="0.5" cy="27.6" r="1.3" fill="#b07028"/><circle cx="2.1" cy="28.6" r="0.9" fill="#b07028"/><circle cx="4.6" cy="22.4" r="1.5" fill="#c88a30"/><circle cx="7.5" cy="19.9" r="0.9" fill="#d9a04a"/><circle cx="6.9" cy="40.1" r="1.7" fill="#d9a04a"/><circle cx="3.4" cy="26.0" r="1.6" fill="#c88a30"/><circle cx="2.2" cy="23.9" r="1.3" fill="#c88a30"/><circle cx="5.1" cy="27.5" r="1.4" fill="#8a5a20"/><circle cx="3.1" cy="28.3" r="1.2" fill="#b07028"/></g><g filter="url(#b3)" opacity="0.95"><circle cx="30.3" cy="27.3" r="1.0" fill="#c07f28"/><circle cx="19.6" cy="8.1" r="1.6" fill="#c07f28"/><circle cx="23.7" cy="19.8" r="0.9" fill="#c07f28"/><circle cx="33.5" cy="34.5" r="1.1" fill="#8a5a20"/><circle cx="33.3" cy="38.3" r="1.0" fill="#8a5a20"/><circle cx="17.8" cy="14.0" r="0.9" fill="#c07f28"/><circle cx="35.2" cy="42.5" r="1.1" fill="#5a3a1a"/><circle cx="28.5" cy="31.5" r="0.8" fill="#8a5a20"/><circle cx="22.5" cy="20.9" r="0.8" fill="#e0a848"/><circle cx="22.8" cy="30.3" r="0.8" fill="#d39436"/><circle cx="19.1" cy="21.1" r="1.5" fill="#eab860"/><circle cx="26.4" cy="24.9" r="1.2" fill="#8a5a20"/><circle cx="27.2" cy="37.9" r="1.5" fill="#5a3a1a"/><circle cx="26.7" cy="22.4" r="1.1" fill="#e0a848"/><circle cx="33.0" cy="33.1" r="1.3" fill="#e0a848"/><circle cx="20.7" cy="10.9" r="1.2" fill="#c07f28"/><circle cx="13.1" cy="0.0" r="1.5" fill="#d39436"/><circle cx="22.7" cy="11.7" r="0.9" fill="#eab860"/><circle cx="29.7" cy="33.1" r="1.4" fill="#c07f28"/><circle cx="18.1" cy="7.4" r="1.6" fill="#d39436"/><circle cx="17.6" cy="4.3" r="1.6" fill="#c07f28"/><circle cx="16.7" cy="6.8" r="1.4" fill="#eab860"/><circle cx="22.9" cy="27.8" r="1.0" fill="#5a3a1a"/><circle cx="22.1" cy="16.4" r="0.9" fill="#eab860"/><circle cx="24.5" cy="28.2" r="0.7" fill="#eab860"/><circle cx="19.6" cy="21.8" r="0.7" fill="#e0a848"/><circle cx="26.8" cy="37.2" r="1.3" fill="#d39436"/><circle cx="24.2" cy="34.3" r="1.0" fill="#c07f28"/><circle cx="23.6" cy="16.6" r="1.5" fill="#d39436"/><circle cx="20.3" cy="9.2" r="0.9" fill="#5a3a1a"/><circle cx="13.5" cy="10.0" r="1.6" fill="#e0a848"/><circle cx="24.1" cy="19.7" r="1.2" fill="#d39436"/><circle cx="17.0" cy="14.7" r="1.6" fill="#c07f28"/><circle cx="28.5" cy="24.2" r="1.1" fill="#8a5a20"/><circle cx="25.8" cy="24.4" r="0.9" fill="#5a3a1a"/><circle cx="18.6" cy="9.8" r="0.9" fill="#eab860"/><circle cx="11.0" cy="0.9" r="1.6" fill="#c07f28"/><circle cx="18.1" cy="2.5" r="1.0" fill="#8a5a20"/><circle cx="17.6" cy="15.1" r="1.2" fill="#5a3a1a"/><circle cx="16.1" cy="15.6" r="0.9" fill="#8a5a20"/><circle cx="25.5" cy="36.4" r="1.4" fill="#e0a848"/><circle cx="18.8" cy="18.6" r="1.2" fill="#c07f28"/><circle cx="32.1" cy="40.2" r="1.1" fill="#d39436"/><circle cx="15.9" cy="1.9" r="1.5" fill="#d39436"/><circle cx="15.2" cy="14.0" r="1.1" fill="#5a3a1a"/><circle cx="31.2" cy="39.3" r="1.4" fill="#d39436"/><circle cx="17.1" cy="3.0" r="1.1" fill="#d39436"/><circle cx="31.2" cy="41.6" r="0.7" fill="#eab860"/><circle cx="27.1" cy="35.7" r="1.4" fill="#c07f28"/><circle cx="34.0" cy="38.2" r="1.3" fill="#5a3a1a"/><circle cx="25.4" cy="28.3" r="1.0" fill="#d39436"/><circle cx="27.8" cy="28.6" r="1.1" fill="#eab860"/><circle cx="23.3" cy="14.3" r="0.8" fill="#eab860"/><circle cx="30.4" cy="44.6" r="1.2" fill="#5a3a1a"/><circle cx="12.2" cy="2.4" r="1.0" fill="#5a3a1a"/><circle cx="23.0" cy="14.3" r="1.3" fill="#8a5a20"/><circle cx="27.0" cy="40.2" r="0.8" fill="#e0a848"/><circle cx="18.6" cy="12.2" r="1.2" fill="#5a3a1a"/><circle cx="16.5" cy="5.8" r="0.9" fill="#5a3a1a"/><circle cx="29.1" cy="39.3" r="1.5" fill="#8a5a20"/><circle cx="17.0" cy="15.0" r="1.1" fill="#5a3a1a"/><circle cx="26.2" cy="37.0" r="0.9" fill="#5a3a1a"/><circle cx="22.7" cy="14.8" r="1.1" fill="#eab860"/><circle cx="21.0" cy="23.1" r="1.3" fill="#c07f28"/><circle cx="30.3" cy="27.0" r="1.5" fill="#eab860"/><circle cx="31.4" cy="42.4" r="1.4" fill="#d39436"/><circle cx="33.9" cy="40.9" r="0.9" fill="#c07f28"/><circle cx="22.5" cy="24.6" r="1.2" fill="#d39436"/><circle cx="24.7" cy="21.3" r="0.7" fill="#eab860"/><circle cx="30.3" cy="38.0" r="1.1" fill="#5a3a1a"/><circle cx="15.6" cy="4.2" r="1.6" fill="#eab860"/><circle cx="16.1" cy="0.4" r="0.7" fill="#5a3a1a"/><circle cx="28.7" cy="30.1" r="1.2" fill="#eab860"/><circle cx="18.0" cy="19.4" r="1.2" fill="#eab860"/><circle cx="20.1" cy="6.2" r="1.4" fill="#eab860"/><circle cx="34.4" cy="39.9" r="0.9" fill="#c07f28"/><circle cx="12.3" cy="4.0" r="0.9" fill="#e0a848"/><circle cx="28.7" cy="41.3" r="1.1" fill="#c07f28"/><circle cx="28.8" cy="37.5" r="1.1" fill="#d39436"/><circle cx="25.9" cy="18.9" r="1.5" fill="#c07f28"/><circle cx="25.6" cy="30.5" r="1.0" fill="#d39436"/><circle cx="16.1" cy="4.3" r="1.3" fill="#d39436"/><circle cx="34.4" cy="41.8" r="0.7" fill="#8a5a20"/><circle cx="30.1" cy="33.7" r="1.6" fill="#5a3a1a"/><circle cx="22.1" cy="13.8" r="1.2" fill="#c07f28"/><circle cx="13.5" cy="5.7" r="1.2" fill="#eab860"/><circle cx="30.4" cy="43.9" r="1.2" fill="#c07f28"/><circle cx="30.6" cy="36.8" r="0.8" fill="#eab860"/><circle cx="17.6" cy="7.9" r="1.2" fill="#e0a848"/><circle cx="18.9" cy="5.9" r="1.5" fill="#eab860"/><circle cx="22.8" cy="22.6" r="0.9" fill="#d39436"/><circle cx="20.1" cy="8.2" r="1.3" fill="#c07f28"/><circle cx="29.5" cy="31.1" r="1.5" fill="#d39436"/><circle cx="28.4" cy="31.4" r="1.2" fill="#d39436"/><circle cx="23.8" cy="19.7" r="1.5" fill="#d39436"/><circle cx="19.9" cy="21.2" r="1.2" fill="#e0a848"/><circle cx="31.3" cy="40.4" r="0.9" fill="#5a3a1a"/><circle cx="32.7" cy="43.0" r="1.1" fill="#8a5a20"/><circle cx="32.6" cy="42.9" r="1.3" fill="#d39436"/><circle cx="27.8" cy="25.2" r="1.3" fill="#8a5a20"/><circle cx="16.4" cy="16.9" r="1.1" fill="#eab860"/><circle cx="28.0" cy="33.8" r="0.8" fill="#d39436"/><circle cx="29.8" cy="38.5" r="1.5" fill="#8a5a20"/><circle cx="19.1" cy="17.1" r="1.1" fill="#c07f28"/><circle cx="20.9" cy="20.3" r="0.8" fill="#5a3a1a"/><circle cx="31.4" cy="37.4" r="1.0" fill="#e0a848"/><circle cx="28.3" cy="29.7" r="1.3" fill="#5a3a1a"/><circle cx="18.4" cy="7.5" r="1.2" fill="#d39436"/><circle cx="14.4" cy="5.7" r="1.5" fill="#e0a848"/><circle cx="19.0" cy="17.7" r="0.8" fill="#8a5a20"/><circle cx="18.8" cy="20.9" r="1.0" fill="#e0a848"/><circle cx="30.6" cy="27.7" r="1.2" fill="#e0a848"/><circle cx="22.2" cy="10.5" r="0.9" fill="#d39436"/><circle cx="22.5" cy="21.0" r="1.0" fill="#eab860"/><circle cx="12.7" cy="1.5" r="1.4" fill="#c07f28"/><circle cx="24.5" cy="18.6" r="0.8" fill="#e0a848"/><circle cx="21.9" cy="27.8" r="1.2" fill="#e0a848"/><circle cx="21.4" cy="23.8" r="1.2" fill="#e0a848"/><circle cx="33.9" cy="40.7" r="1.2" fill="#8a5a20"/><circle cx="21.5" cy="27.9" r="1.0" fill="#eab860"/><circle cx="21.3" cy="19.6" r="1.5" fill="#c07f28"/><circle cx="29.1" cy="44.0" r="1.1" fill="#c07f28"/><circle cx="27.6" cy="28.7" r="0.8" fill="#d39436"/><circle cx="12.0" cy="1.0" r="1.5" fill="#8a5a20"/><circle cx="28.8" cy="43.7" r="1.2" fill="#5a3a1a"/><circle cx="12.6" cy="1.3" r="1.3" fill="#d39436"/><circle cx="23.7" cy="20.9" r="0.9" fill="#d39436"/><circle cx="18.4" cy="22.2" r="1.2" fill="#5a3a1a"/><circle cx="23.0" cy="26.4" r="1.4" fill="#5a3a1a"/><circle cx="17.2" cy="8.2" r="1.6" fill="#e0a848"/><circle cx="28.1" cy="41.1" r="0.9" fill="#d39436"/><circle cx="33.3" cy="35.1" r="0.8" fill="#d39436"/><circle cx="29.0" cy="29.2" r="1.5" fill="#d39436"/><circle cx="20.4" cy="19.7" r="1.6" fill="#c07f28"/><circle cx="25.1" cy="35.4" r="0.8" fill="#8a5a20"/><circle cx="26.0" cy="35.4" r="0.8" fill="#5a3a1a"/><circle cx="28.7" cy="35.0" r="0.8" fill="#eab860"/><circle cx="31.5" cy="30.1" r="1.1" fill="#c07f28"/><circle cx="22.4" cy="28.4" r="1.4" fill="#c07f28"/><circle cx="26.8" cy="31.3" r="1.6" fill="#c07f28"/><circle cx="33.2" cy="39.6" r="1.5" fill="#e0a848"/><circle cx="27.4" cy="31.0" r="1.5" fill="#d39436"/><circle cx="23.7" cy="21.2" r="1.2" fill="#5a3a1a"/><circle cx="19.5" cy="13.1" r="0.9" fill="#8a5a20"/><circle cx="32.0" cy="30.3" r="1.4" fill="#e0a848"/><circle cx="25.0" cy="35.1" r="1.4" fill="#c07f28"/><circle cx="22.8" cy="16.9" r="1.3" fill="#d39436"/><circle cx="26.3" cy="21.8" r="1.1" fill="#5a3a1a"/><circle cx="13.9" cy="11.9" r="1.1" fill="#eab860"/><circle cx="26.2" cy="25.3" r="1.0" fill="#e0a848"/></g><g filter="url(#b3)" opacity="0.6"><circle cx="18.3" cy="44.3" r="1.3" fill="#e8c070"/><circle cx="23.9" cy="43.6" r="1.3" fill="#e8c070"/><circle cx="5.2" cy="40.6" r="1.0" fill="#e8c070"/><circle cx="18.9" cy="37.0" r="1.4" fill="#f0d090"/><circle cx="24.8" cy="44.1" r="1.5" fill="#f0d090"/><circle cx="20.2" cy="42.4" r="1.2" fill="#e8c070"/><circle cx="19.9" cy="38.1" r="0.9" fill="#f0d090"/><circle cx="9.4" cy="37.8" r="1.1" fill="#e8c070"/><circle cx="10.7" cy="36.9" r="1.2" fill="#f0d090"/><circle cx="7.9" cy="43.9" r="1.0" fill="#e8c070"/><circle cx="22.5" cy="43.7" r="1.4" fill="#f0d090"/><circle cx="18.0" cy="44.2" r="0.9" fill="#e8c070"/><circle cx="12.1" cy="43.7" r="1.1" fill="#f0d090"/><circle cx="9.2" cy="39.4" r="1.2" fill="#e8c070"/><circle cx="4.2" cy="38.1" r="1.5" fill="#e8c070"/><circle cx="16.4" cy="37.1" r="1.4" fill="#f0d090"/><circle cx="21.8" cy="40.9" r="0.9" fill="#e8c070"/><circle cx="10.8" cy="38.6" r="0.9" fill="#e8c070"/><circle cx="6.2" cy="43.0" r="1.1" fill="#f0d090"/><circle cx="17.2" cy="44.5" r="1.5" fill="#f0d090"/><circle cx="14.5" cy="40.9" r="1.6" fill="#e8c070"/><circle cx="27.5" cy="44.6" r="1.4" fill="#e8c070"/><circle cx="13.6" cy="40.3" r="1.2" fill="#f0d090"/><circle cx="15.2" cy="43.6" r="1.4" fill="#e8c070"/><circle cx="15.2" cy="43.9" r="1.2" fill="#e8c070"/></g><path d="M18.0,0.0 C18.5,-1.3 21.0,-1.8 23.0,0.0 C25.0,1.8 27.7,7.2 30.0,11.0 C32.3,14.8 34.7,18.8 37.0,23.0 C39.3,27.2 42.8,32.3 44.0,36.0 C45.2,39.7 44.8,43.5 44.0,45.0 C43.2,46.5 40.8,46.8 39.0,45.0 C37.2,43.2 35.2,38.2 33.0,34.0 C30.8,29.8 28.2,24.3 26.0,20.0 C23.8,15.7 21.3,11.3 20.0,8.0 C18.7,4.7 17.5,1.3 18.0,0.0 Z" fill="#e8e5de" filter="url(#b1)" opacity="0.95"/><g><circle cx="23.5" cy="7.2" r="0.45" fill="#3a3a3a"/><circle cx="32.8" cy="25.2" r="0.45" fill="#3a3a3a"/><circle cx="29.4" cy="20.3" r="0.45" fill="#3a3a3a"/><circle cx="29.9" cy="21.5" r="0.45" fill="#3a3a3a"/><circle cx="37.1" cy="36.8" r="0.45" fill="#3a3a3a"/><circle cx="38.3" cy="38.7" r="0.45" fill="#3a3a3a"/><circle cx="26.7" cy="17.5" r="0.45" fill="#3a3a3a"/><circle cx="34.4" cy="31.6" r="0.45" fill="#3a3a3a"/><circle cx="33.0" cy="31.3" r="0.45" fill="#3a3a3a"/><circle cx="29.9" cy="21.8" r="0.45" fill="#3a3a3a"/><circle cx="27.6" cy="20.9" r="0.45" fill="#3a3a3a"/><circle cx="22.1" cy="4.7" r="0.45" fill="#3a3a3a"/><circle cx="24.4" cy="13.5" r="0.45" fill="#3a3a3a"/><circle cx="38.0" cy="36.8" r="0.45" fill="#3a3a3a"/><circle cx="35.4" cy="34.7" r="0.45" fill="#3a3a3a"/><circle cx="31.0" cy="20.9" r="0.45" fill="#3a3a3a"/><circle cx="28.0" cy="16.4" r="0.45" fill="#3a3a3a"/><circle cx="37.1" cy="36.3" r="0.45" fill="#3a3a3a"/><circle cx="36.3" cy="32.1" r="0.45" fill="#3a3a3a"/><circle cx="35.6" cy="31.7" r="0.45" fill="#3a3a3a"/><circle cx="30.4" cy="22.3" r="0.45" fill="#3a3a3a"/><circle cx="33.0" cy="28.8" r="0.45" fill="#3a3a3a"/><circle cx="29.2" cy="18.7" r="0.45" fill="#3a3a3a"/><circle cx="23.4" cy="10.6" r="0.45" fill="#3a3a3a"/><circle cx="22.3" cy="8.0" r="0.45" fill="#3a3a3a"/><circle cx="35.5" cy="36.8" r="0.45" fill="#3a3a3a"/><circle cx="30.9" cy="25.5" r="0.45" fill="#3a3a3a"/><circle cx="26.7" cy="15.2" r="0.45" fill="#3a3a3a"/><circle cx="25.4" cy="9.6" r="0.45" fill="#3a3a3a"/><circle cx="39.0" cy="38.4" r="0.45" fill="#3a3a3a"/><circle cx="22.3" cy="5.0" r="0.45" fill="#3a3a3a"/><circle cx="27.9" cy="18.2" r="0.45" fill="#3a3a3a"/><circle cx="26.1" cy="11.7" r="0.45" fill="#3a3a3a"/><circle cx="33.1" cy="31.6" r="0.45" fill="#3a3a3a"/></g><path d="M21.0,0.0 C21.8,-1.0 25.3,-1.2 27.0,0.0 C28.7,1.2 30.5,4.8 31.0,7.0 C31.5,9.2 31.0,12.2 30.0,13.0 C29.0,13.8 26.3,13.2 25.0,12.0 C23.7,10.8 22.7,8.0 22.0,6.0 C21.3,4.0 20.2,1.0 21.0,0.0 Z" fill="#eba090" filter="url(#b1)" opacity="0.85"/><ellipse cx="25" cy="9.5" rx="1.8" ry="2.4" fill="#ec2a10" transform="rotate(0 25 9.5)" filter="url(#b1)" opacity="0.9"/><path d="M30.6,23.0 C31.1,21.4 33.4,21.3 35.0,21.5 C36.6,21.7 38.5,22.6 40.0,24.0 C41.5,25.4 43.2,27.7 44.0,30.0 C44.8,32.3 45.2,35.8 45.0,38.0 C44.8,40.2 44.0,42.5 43.0,43.0 C42.0,43.5 40.3,42.0 39.0,41.0 C37.7,40.0 36.2,38.7 35.0,37.0 C33.8,35.3 32.7,33.3 32.0,31.0 C31.3,28.7 30.1,24.6 30.6,23.0 Z" fill="#ec2a10" filter="url(#b1)" opacity="0.97"/><ellipse cx="35" cy="31" rx="1.3" ry="1.3" fill="#6a1a10" transform="rotate(0 35 31)" filter="url(#b1)" opacity="0.75"/><ellipse cx="40" cy="36" rx="1.3" ry="1.3" fill="#6a1a10" transform="rotate(0 40 36)" filter="url(#b1)" opacity="0.75"/><ellipse cx="38" cy="27" rx="1" ry="1" fill="#6a1a10" transform="rotate(0 38 27)" filter="url(#b1)" opacity="0.6"/><ellipse cx="4.8" cy="35.2" rx="3.2" ry="2.8" fill="#3ad81e" transform="rotate(0 4.8 35.2)" filter="url(#b1)" opacity="1"/><ellipse cx="13.5" cy="28.8" rx="4" ry="2.6" fill="#3ad81e" transform="rotate(-35 13.5 28.8)" filter="url(#b1)" opacity="1"/><rect x="37.5" y="0.4" width="6" height="1" fill="#333"/></g></g><rect x="193.0" y="20.0" width="46.2" height="46.2" fill="none" stroke="#9a9a9a" stroke-width="1.1"/><rect x="240.8" y="20.5" width="45.2" height="45.2" fill="#fff"/><g clip-path="url(#ic01)"><g transform="translate(240.8,20.5)"><ellipse cx="26.5" cy="10" rx="2.8" ry="3.2" fill="#777" transform="rotate(0 26.5 10)" filter="url(#b1)" opacity="0.8"/><ellipse cx="24.3" cy="3" rx="3" ry="2.5" fill="#c8c8c8" transform="rotate(0 24.3 3)" filter="url(#b1)" opacity="0.8"/><path d="M30,23.5 L37,22.8 L40,28 L43.2,31 L44.6,40 L42,43 L38.5,39 L33.5,30 Z" fill="#000" filter="url(#b2)"/></g></g><rect x="240.3" y="20.0" width="46.2" height="46.2" fill="none" stroke="#9a9a9a" stroke-width="1.1"/><rect x="193.5" y="67.6" width="45.2" height="45.2" fill="#fff"/><g clip-path="url(#ic10)"><g transform="translate(193.5,67.6)"><path d="M3,0 C8,10 16,22 26,36 L30,45" stroke="#444" stroke-width="4.5" fill="none" filter="url(#b1)" opacity="0.85"/><path d="M5,0 C10,10 18,22 28,36 L32,45" stroke="#222" stroke-width="1" fill="none" filter="url(#b2)" opacity="0.7"/><path d="M16.0,0.0 C15.7,-2.7 21.0,-2.3 24.0,0.0 C27.0,2.3 30.5,9.0 34.0,14.0 C37.5,19.0 43.2,25.7 45.0,30.0 C46.8,34.3 46.5,40.0 45.0,40.0 C43.5,40.0 39.2,34.0 36.0,30.0 C32.8,26.0 29.3,21.0 26.0,16.0 C22.7,11.0 16.3,2.7 16.0,0.0 Z" fill="#e4e4e4" filter="url(#b1)" opacity="0.9"/><path d="M20,0 C26,12 34,24 45,40" stroke="#555" stroke-width="1.3" fill="none" filter="url(#b2)" opacity="0.8"/><path d="M26,0 C31,8 33,12 34,18 C37,24 41,29 45,33" stroke="#333" stroke-width="1" fill="none" filter="url(#b2)" opacity="0.8"/><g filter="url(#b3)" opacity="0.95"><circle cx="11.8" cy="40.4" r="1.8" fill="#555"/><circle cx="14.2" cy="42.5" r="0.9" fill="#111"/><circle cx="9.2" cy="36.8" r="1.0" fill="#000"/><circle cx="17.7" cy="41.7" r="1.1" fill="#333"/><circle cx="9.6" cy="34.2" r="1.1" fill="#000"/><circle cx="13.4" cy="38.7" r="1.9" fill="#333"/><circle cx="12.8" cy="39.5" r="1.0" fill="#333"/><circle cx="8.2" cy="43.6" r="1.3" fill="#555"/><circle cx="8.2" cy="41.6" r="1.8" fill="#000"/><circle cx="11.1" cy="34.2" r="1.3" fill="#555"/><circle cx="6.5" cy="37.8" r="1.6" fill="#555"/><circle cx="5.4" cy="37.9" r="0.9" fill="#111"/><circle cx="8.2" cy="25.3" r="1.2" fill="#333"/><circle cx="4.8" cy="27.3" r="0.9" fill="#555"/><circle cx="17.6" cy="31.1" r="1.0" fill="#111"/><circle cx="16.8" cy="41.6" r="1.4" fill="#111"/><circle cx="9.2" cy="36.2" r="1.4" fill="#000"/><circle cx="11.9" cy="28.2" r="1.4" fill="#000"/><circle cx="2.2" cy="35.7" r="1.1" fill="#555"/><circle cx="20.0" cy="39.9" r="0.8" fill="#333"/><circle cx="13.9" cy="35.0" r="1.4" fill="#555"/><circle cx="2.1" cy="21.5" r="0.9" fill="#000"/><circle cx="6.2" cy="32.9" r="1.6" fill="#333"/><circle cx="24.7" cy="44.2" r="1.8" fill="#555"/><circle cx="0.7" cy="31.3" r="0.9" fill="#000"/><circle cx="2.5" cy="21.3" r="1.8" fill="#111"/><circle cx="14.7" cy="26.4" r="1.2" fill="#111"/><circle cx="17.7" cy="36.2" r="1.4" fill="#111"/><circle cx="11.9" cy="28.4" r="0.8" fill="#111"/><circle cx="17.7" cy="42.6" r="2.0" fill="#555"/><circle cx="3.1" cy="20.8" r="1.5" fill="#111"/><circle cx="5.3" cy="41.0" r="1.0" fill="#555"/><circle cx="1.6" cy="41.9" r="1.2" fill="#000"/><circle cx="25.3" cy="44.4" r="1.4" fill="#000"/><circle cx="8.9" cy="42.7" r="2.0" fill="#000"/><circle cx="6.4" cy="35.0" r="1.7" fill="#333"/><circle cx="17.6" cy="44.3" r="2.0" fill="#333"/><circle cx="18.8" cy="44.3" r="1.5" fill="#333"/><circle cx="1.8" cy="44.2" r="0.9" fill="#555"/><circle cx="4.2" cy="41.9" r="1.2" fill="#111"/><circle cx="1.6" cy="28.1" r="1.9" fill="#333"/><circle cx="4.4" cy="27.2" r="1.0" fill="#000"/><circle cx="17.0" cy="31.6" r="1.8" fill="#000"/><circle cx="7.3" cy="37.0" r="1.9" fill="#000"/><circle cx="13.4" cy="32.6" r="1.6" fill="#111"/><circle cx="2.8" cy="21.4" r="1.3" fill="#000"/><circle cx="10.1" cy="33.1" r="1.6" fill="#000"/><circle cx="5.7" cy="22.5" r="1.6" fill="#555"/><circle cx="19.2" cy="37.1" r="2.0" fill="#555"/><circle cx="15.7" cy="43.2" r="1.0" fill="#333"/><circle cx="18.2" cy="35.9" r="1.2" fill="#555"/><circle cx="10.4" cy="22.0" r="1.0" fill="#555"/><circle cx="1.0" cy="33.3" r="1.9" fill="#111"/><circle cx="9.5" cy="39.4" r="1.5" fill="#000"/><circle cx="15.6" cy="29.3" r="0.9" fill="#111"/><circle cx="7.8" cy="20.7" r="1.7" fill="#111"/><circle cx="2.3" cy="38.8" r="0.9" fill="#111"/><circle cx="0.4" cy="44.2" r="1.8" fill="#333"/><circle cx="5.5" cy="38.3" r="0.9" fill="#111"/><circle cx="5.9" cy="35.9" r="2.0" fill="#000"/><circle cx="0.1" cy="41.1" r="1.1" fill="#000"/><circle cx="0.4" cy="25.9" r="1.9" fill="#000"/><circle cx="0.8" cy="27.8" r="1.1" fill="#333"/><circle cx="11.5" cy="25.9" r="1.6" fill="#000"/><circle cx="18.7" cy="34.7" r="2.0" fill="#111"/><circle cx="17.9" cy="32.6" r="1.0" fill="#555"/><circle cx="0.7" cy="22.4" r="1.7" fill="#111"/><circle cx="8.8" cy="40.6" r="1.4" fill="#333"/><circle cx="16.3" cy="42.7" r="1.5" fill="#111"/><circle cx="10.4" cy="32.0" r="1.7" fill="#333"/><circle cx="7.3" cy="24.8" r="1.0" fill="#555"/><circle cx="5.6" cy="33.5" r="1.3" fill="#555"/><circle cx="1.9" cy="21.5" r="2.0" fill="#555"/><circle cx="5.4" cy="26.6" r="1.1" fill="#000"/><circle cx="6.4" cy="35.6" r="1.9" fill="#555"/><circle cx="15.3" cy="41.5" r="1.7" fill="#555"/><circle cx="18.1" cy="43.1" r="0.9" fill="#555"/><circle cx="12.2" cy="26.6" r="1.5" fill="#333"/><circle cx="6.6" cy="34.6" r="1.3" fill="#111"/><circle cx="4.6" cy="29.1" r="1.2" fill="#000"/><circle cx="11.1" cy="42.7" r="1.7" fill="#000"/><circle cx="3.5" cy="31.8" r="1.9" fill="#111"/><circle cx="17.9" cy="36.6" r="1.9" fill="#555"/><circle cx="6.3" cy="28.8" r="1.6" fill="#333"/><circle cx="13.5" cy="27.4" r="1.6" fill="#555"/><circle cx="7.3" cy="44.5" r="1.1" fill="#555"/><circle cx="4.7" cy="40.5" r="1.2" fill="#555"/><circle cx="1.6" cy="35.3" r="0.9" fill="#555"/><circle cx="3.4" cy="37.5" r="0.8" fill="#555"/><circle cx="3.5" cy="27.7" r="1.5" fill="#333"/><circle cx="22.4" cy="43.0" r="1.4" fill="#000"/><circle cx="8.6" cy="26.5" r="1.6" fill="#000"/><circle cx="8.1" cy="44.2" r="0.9" fill="#333"/><circle cx="22.4" cy="43.3" r="1.1" fill="#000"/><circle cx="6.9" cy="33.9" r="1.9" fill="#555"/><circle cx="1.5" cy="38.5" r="1.8" fill="#111"/><circle cx="8.1" cy="19.1" r="1.7" fill="#555"/><circle cx="14.1" cy="38.3" r="0.8" fill="#111"/><circle cx="18.2" cy="33.6" r="1.8" fill="#555"/><circle cx="8.7" cy="36.7" r="1.9" fill="#555"/><circle cx="0.5" cy="37.7" r="0.9" fill="#000"/><circle cx="5.5" cy="37.8" r="1.1" fill="#000"/><circle cx="2.4" cy="31.7" r="1.7" fill="#555"/><circle cx="7.8" cy="31.1" r="1.0" fill="#111"/><circle cx="8.9" cy="30.7" r="0.9" fill="#000"/><circle cx="4.6" cy="38.2" r="1.0" fill="#555"/><circle cx="1.6" cy="42.1" r="1.4" fill="#000"/><circle cx="20.7" cy="43.7" r="1.8" fill="#111"/><circle cx="9.1" cy="35.1" r="1.8" fill="#111"/><circle cx="2.2" cy="30.9" r="1.3" fill="#000"/><circle cx="1.9" cy="43.2" r="0.9" fill="#000"/><circle cx="1.4" cy="37.5" r="1.5" fill="#555"/><circle cx="10.8" cy="24.9" r="1.8" fill="#111"/><circle cx="23.9" cy="41.8" r="0.9" fill="#555"/><circle cx="0.2" cy="42.4" r="1.4" fill="#555"/><circle cx="4.8" cy="44.0" r="1.2" fill="#111"/><circle cx="12.5" cy="43.4" r="0.9" fill="#111"/><circle cx="1.1" cy="31.7" r="1.1" fill="#111"/><circle cx="1.9" cy="39.6" r="1.8" fill="#555"/><circle cx="9.2" cy="36.3" r="1.9" fill="#000"/><circle cx="0.0" cy="21.1" r="1.0" fill="#333"/><circle cx="11.8" cy="38.8" r="0.9" fill="#333"/><circle cx="18.5" cy="35.4" r="1.5" fill="#333"/><circle cx="16.9" cy="42.0" r="1.9" fill="#555"/><circle cx="4.0" cy="18.7" r="1.2" fill="#333"/><circle cx="16.4" cy="33.9" r="1.2" fill="#000"/><circle cx="8.6" cy="23.8" r="0.8" fill="#333"/><circle cx="5.5" cy="40.9" r="1.6" fill="#000"/><circle cx="8.5" cy="41.4" r="1.9" fill="#111"/><circle cx="8.0" cy="38.0" r="1.9" fill="#555"/></g><path d="M2.0,30.0 C2.7,28.0 6.0,30.7 8.0,32.0 C10.0,33.3 13.3,36.0 14.0,38.0 C14.7,40.0 13.7,43.0 12.0,44.0 C10.3,45.0 5.7,46.3 4.0,44.0 C2.3,41.7 1.3,32.0 2.0,30.0 Z" fill="#ddd" filter="url(#b1)" opacity="0.5"/><path d="M32.8,9.6 L35.8,4.7 L39.1,9.6 Z" fill="#111"/></g></g><rect x="193.0" y="67.1" width="46.2" height="46.2" fill="none" stroke="#9a9a9a" stroke-width="1.1"/><rect x="240.8" y="67.6" width="45.2" height="45.2" fill="#fff"/><g clip-path="url(#ic11)"><g transform="translate(240.8,67.6)"><ellipse cx="5.2" cy="35.2" rx="3.3" ry="2.6" fill="#000" transform="rotate(35 5.2 35.2)" filter="url(#b2)" opacity="1"/><ellipse cx="15" cy="28.5" rx="3.6" ry="2.3" fill="#000" transform="rotate(-45 15 28.5)" filter="url(#b2)" opacity="1"/></g></g><rect x="240.3" y="67.1" width="46.2" height="46.2" fill="none" stroke="#9a9a9a" stroke-width="1.1"/><rect x="193.5" y="118.3" width="45.2" height="45.2" fill="#fdf9ee"/><g clip-path="url(#ic20)"><g transform="translate(193.5,118.3)"><g filter="url(#b3)" opacity="0.95"><circle cx="29.7" cy="42.2" r="1.1" fill="#c98a30"/><circle cx="28.9" cy="21.4" r="0.7" fill="#d79a3c"/><circle cx="29.7" cy="23.5" r="0.7" fill="#c98a30"/><circle cx="29.5" cy="26.2" r="1.1" fill="#d79a3c"/><circle cx="26.7" cy="41.3" r="0.9" fill="#8a5a20"/><circle cx="26.3" cy="30.6" r="1.1" fill="#8a5a20"/><circle cx="27.1" cy="12.8" r="0.9" fill="#b5782a"/><circle cx="26.2" cy="28.2" r="1.0" fill="#b5782a"/><circle cx="27.9" cy="7.5" r="0.9" fill="#8a5a20"/><circle cx="29.5" cy="41.4" r="1.3" fill="#8a5a20"/><circle cx="28.8" cy="14.6" r="1.1" fill="#b5782a"/><circle cx="29.2" cy="36.2" r="1.1" fill="#8a5a20"/><circle cx="28.9" cy="13.2" r="0.8" fill="#8a5a20"/><circle cx="27.4" cy="28.2" r="1.2" fill="#d79a3c"/><circle cx="28.5" cy="37.3" r="0.6" fill="#b5782a"/><circle cx="29.9" cy="33.5" r="0.7" fill="#d79a3c"/><circle cx="27.8" cy="31.1" r="1.3" fill="#d79a3c"/><circle cx="26.5" cy="2.3" r="1.3" fill="#c98a30"/><circle cx="27.6" cy="34.6" r="0.6" fill="#d79a3c"/><circle cx="27.3" cy="33.1" r="1.0" fill="#8a5a20"/><circle cx="27.5" cy="3.0" r="1.2" fill="#c98a30"/><circle cx="27.9" cy="35.2" r="0.7" fill="#8a5a20"/><circle cx="29.6" cy="6.1" r="0.7" fill="#b5782a"/><circle cx="27.5" cy="18.6" r="0.9" fill="#c98a30"/><circle cx="29.6" cy="0.7" r="0.7" fill="#c98a30"/><circle cx="28.6" cy="42.8" r="0.8" fill="#c98a30"/><circle cx="28.2" cy="7.5" r="1.2" fill="#d79a3c"/><circle cx="28.2" cy="41.2" r="0.9" fill="#d79a3c"/><circle cx="27.0" cy="27.5" r="1.0" fill="#8a5a20"/><circle cx="30.2" cy="33.8" r="1.4" fill="#b5782a"/><circle cx="26.9" cy="12.2" r="1.4" fill="#c98a30"/><circle cx="27.9" cy="11.8" r="1.0" fill="#b5782a"/><circle cx="28.6" cy="4.1" r="1.1" fill="#c98a30"/><circle cx="27.1" cy="40.5" r="1.1" fill="#c98a30"/><circle cx="30.2" cy="12.5" r="1.3" fill="#d79a3c"/><circle cx="26.0" cy="43.8" r="1.0" fill="#c98a30"/><circle cx="27.8" cy="2.4" r="0.7" fill="#b5782a"/><circle cx="29.2" cy="16.6" r="0.7" fill="#c98a30"/><circle cx="27.0" cy="30.9" r="1.3" fill="#b5782a"/><circle cx="27.7" cy="19.7" r="0.7" fill="#c98a30"/><circle cx="28.3" cy="8.9" r="0.8" fill="#d79a3c"/><circle cx="28.2" cy="23.9" r="1.2" fill="#d79a3c"/><circle cx="26.0" cy="41.9" r="1.0" fill="#d79a3c"/><circle cx="29.0" cy="36.9" r="1.1" fill="#d79a3c"/><circle cx="29.0" cy="14.6" r="0.8" fill="#8a5a20"/><circle cx="28.0" cy="6.3" r="1.2" fill="#b5782a"/><circle cx="28.9" cy="7.0" r="0.8" fill="#b5782a"/><circle cx="28.6" cy="26.4" r="0.7" fill="#8a5a20"/><circle cx="29.0" cy="9.1" r="1.2" fill="#c98a30"/><circle cx="26.9" cy="28.2" r="1.2" fill="#c98a30"/><circle cx="27.2" cy="10.1" r="1.1" fill="#b5782a"/><circle cx="28.5" cy="30.3" r="0.8" fill="#8a5a20"/><circle cx="29.8" cy="43.8" r="0.8" fill="#b5782a"/><circle cx="29.0" cy="39.1" r="0.9" fill="#d79a3c"/><circle cx="27.0" cy="11.0" r="0.8" fill="#c98a30"/><circle cx="25.6" cy="0.8" r="0.8" fill="#8a5a20"/><circle cx="27.7" cy="32.5" r="1.3" fill="#8a5a20"/><circle cx="28.2" cy="3.1" r="0.7" fill="#8a5a20"/><circle cx="29.8" cy="26.1" r="0.7" fill="#b5782a"/><circle cx="29.2" cy="4.7" r="0.9" fill="#c98a30"/></g><g filter="url(#b3)" opacity="0.85"><circle cx="18.5" cy="42.3" r="1.3" fill="#efc67c"/><circle cx="21.1" cy="35.2" r="0.9" fill="#e6b25a"/><circle cx="5.9" cy="35.0" r="1.6" fill="#efc67c"/><circle cx="16.5" cy="33.6" r="1.6" fill="#e6b25a"/><circle cx="22.4" cy="37.1" r="1.3" fill="#e6b25a"/><circle cx="10.3" cy="26.3" r="1.5" fill="#d79a3c"/><circle cx="0.2" cy="43.7" r="1.3" fill="#e6b25a"/><circle cx="5.4" cy="33.4" r="1.5" fill="#d79a3c"/><circle cx="19.3" cy="35.8" r="1.3" fill="#c98a30"/><circle cx="21.1" cy="36.7" r="1.4" fill="#c98a30"/><circle cx="22.4" cy="33.0" r="1.1" fill="#efc67c"/><circle cx="2.2" cy="35.6" r="1.1" fill="#f5d9a0"/><circle cx="20.9" cy="36.6" r="1.7" fill="#d79a3c"/><circle cx="7.9" cy="40.6" r="1.3" fill="#e6b25a"/><circle cx="4.3" cy="27.5" r="1.1" fill="#efc67c"/><circle cx="23.1" cy="38.5" r="1.4" fill="#f5d9a0"/><circle cx="20.2" cy="44.4" r="1.2" fill="#efc67c"/><circle cx="0.6" cy="33.4" r="0.9" fill="#f5d9a0"/><circle cx="17.8" cy="32.5" r="1.7" fill="#e6b25a"/><circle cx="8.3" cy="26.4" r="1.4" fill="#d79a3c"/><circle cx="4.5" cy="36.4" r="1.2" fill="#efc67c"/><circle cx="18.0" cy="37.9" r="1.1" fill="#c98a30"/><circle cx="13.3" cy="26.7" r="1.1" fill="#efc67c"/><circle cx="22.7" cy="41.2" r="1.3" fill="#e6b25a"/><circle cx="1.0" cy="32.9" r="1.2" fill="#e6b25a"/><circle cx="17.2" cy="31.4" r="1.8" fill="#d79a3c"/><circle cx="4.1" cy="33.2" r="1.6" fill="#c98a30"/><circle cx="10.3" cy="43.2" r="0.9" fill="#e6b25a"/><circle cx="15.4" cy="32.8" r="0.9" fill="#d79a3c"/><circle cx="6.9" cy="25.8" r="1.2" fill="#c98a30"/><circle cx="14.3" cy="34.9" r="1.5" fill="#e6b25a"/><circle cx="16.1" cy="37.9" r="1.0" fill="#d79a3c"/><circle cx="13.0" cy="27.6" r="1.6" fill="#c98a30"/><circle cx="18.5" cy="41.9" r="1.5" fill="#d79a3c"/><circle cx="12.0" cy="37.2" r="1.4" fill="#e6b25a"/><circle cx="3.1" cy="42.3" r="1.1" fill="#f5d9a0"/><circle cx="21.1" cy="40.1" r="1.7" fill="#efc67c"/><circle cx="5.8" cy="28.2" r="1.1" fill="#efc67c"/><circle cx="19.6" cy="30.0" r="1.1" fill="#d79a3c"/><circle cx="8.7" cy="38.5" r="0.8" fill="#f5d9a0"/><circle cx="12.2" cy="44.5" r="1.4" fill="#f5d9a0"/><circle cx="20.8" cy="34.8" r="1.0" fill="#d79a3c"/><circle cx="5.6" cy="37.4" r="1.6" fill="#c98a30"/><circle cx="22.2" cy="32.3" r="0.9" fill="#e6b25a"/><circle cx="12.8" cy="26.8" r="1.7" fill="#f5d9a0"/><circle cx="15.3" cy="39.2" r="1.6" fill="#efc67c"/><circle cx="18.4" cy="41.7" r="1.3" fill="#efc67c"/><circle cx="14.8" cy="33.8" r="0.9" fill="#f5d9a0"/><circle cx="14.4" cy="39.2" r="1.0" fill="#e6b25a"/><circle cx="23.5" cy="42.8" r="1.0" fill="#d79a3c"/><circle cx="16.7" cy="43.4" r="1.3" fill="#c98a30"/><circle cx="15.5" cy="31.5" r="1.3" fill="#e6b25a"/><circle cx="2.9" cy="25.7" r="1.0" fill="#d79a3c"/><circle cx="10.4" cy="43.2" r="1.6" fill="#efc67c"/><circle cx="24.0" cy="42.9" r="1.2" fill="#c98a30"/><circle cx="17.3" cy="35.6" r="1.1" fill="#f5d9a0"/><circle cx="14.9" cy="32.6" r="1.6" fill="#c98a30"/><circle cx="18.6" cy="39.9" r="0.9" fill="#d79a3c"/><circle cx="8.8" cy="39.0" r="1.2" fill="#f5d9a0"/><circle cx="18.5" cy="40.3" r="0.9" fill="#d79a3c"/><circle cx="4.7" cy="44.8" r="1.7" fill="#c98a30"/><circle cx="10.3" cy="27.5" r="0.9" fill="#e6b25a"/><circle cx="15.5" cy="33.6" r="1.6" fill="#f5d9a0"/><circle cx="22.0" cy="44.8" r="1.2" fill="#d79a3c"/><circle cx="7.1" cy="36.4" r="1.1" fill="#e6b25a"/><circle cx="3.8" cy="35.9" r="1.3" fill="#f5d9a0"/><circle cx="1.5" cy="37.5" r="1.1" fill="#f5d9a0"/><circle cx="13.9" cy="43.9" r="1.7" fill="#c98a30"/><circle cx="11.9" cy="28.7" r="1.4" fill="#e6b25a"/><circle cx="5.0" cy="31.4" r="0.9" fill="#f5d9a0"/><circle cx="22.2" cy="41.2" r="1.6" fill="#e6b25a"/><circle cx="11.6" cy="42.1" r="1.1" fill="#f5d9a0"/><circle cx="20.1" cy="39.0" r="1.6" fill="#d79a3c"/><circle cx="21.4" cy="31.0" r="1.4" fill="#d79a3c"/><circle cx="9.7" cy="26.7" r="1.8" fill="#efc67c"/><circle cx="18.7" cy="37.2" r="1.4" fill="#d79a3c"/><circle cx="10.9" cy="37.1" r="1.1" fill="#e6b25a"/><circle cx="4.8" cy="39.4" r="1.6" fill="#efc67c"/><circle cx="2.8" cy="26.0" r="1.7" fill="#d79a3c"/><circle cx="0.5" cy="42.5" r="1.5" fill="#f5d9a0"/><circle cx="4.0" cy="36.2" r="0.9" fill="#f5d9a0"/><circle cx="18.1" cy="44.9" r="1.6" fill="#c98a30"/><circle cx="5.3" cy="33.6" r="1.7" fill="#efc67c"/><circle cx="0.2" cy="26.0" r="1.1" fill="#e6b25a"/><circle cx="3.7" cy="26.1" r="1.4" fill="#d79a3c"/><circle cx="5.3" cy="34.3" r="1.7" fill="#c98a30"/><circle cx="14.0" cy="34.5" r="1.0" fill="#d79a3c"/><circle cx="8.2" cy="40.0" r="1.0" fill="#f5d9a0"/><circle cx="19.9" cy="34.2" r="1.6" fill="#efc67c"/><circle cx="15.5" cy="42.8" r="1.2" fill="#d79a3c"/></g><g filter="url(#b3)" opacity="0.7"><circle cx="0.6" cy="17.0" r="1.1" fill="#efc67c"/><circle cx="1.4" cy="8.3" r="1.0" fill="#e6b25a"/><circle cx="1.7" cy="18.5" r="1.2" fill="#efc67c"/><circle cx="2.7" cy="18.3" r="1.1" fill="#efc67c"/><circle cx="0.8" cy="23.3" r="0.9" fill="#e6b25a"/><circle cx="2.2" cy="18.3" r="1.3" fill="#e6b25a"/><circle cx="2.1" cy="18.0" r="0.8" fill="#e6b25a"/><circle cx="2.4" cy="11.6" r="1.0" fill="#e6b25a"/></g><g filter="url(#b3)" opacity="0.7"><circle cx="23.2" cy="2.4" r="1.2" fill="#e6b25a"/><circle cx="25.3" cy="3.7" r="1.1" fill="#efc67c"/><circle cx="21.2" cy="0.6" r="1.2" fill="#efc67c"/><circle cx="21.5" cy="2.3" r="1.3" fill="#efc67c"/><circle cx="21.4" cy="4.0" r="1.3" fill="#e6b25a"/><circle cx="21.2" cy="3.8" r="1.2" fill="#efc67c"/></g><path d="M31.4,0.0 C32.8,-2.3 38.3,-2.0 40.0,0.0 C41.7,2.0 41.3,8.0 41.5,12.0 C41.7,16.0 41.2,20.3 41.0,24.0 C40.8,27.7 40.2,31.7 40.5,34.0 C40.8,36.3 42.5,36.2 42.8,38.0 C43.0,39.8 43.8,43.5 42.0,44.6 C40.2,45.7 33.8,47.0 32.0,44.6 C30.2,42.2 31.6,35.1 31.5,30.0 C31.4,24.9 31.6,19.0 31.6,14.0 C31.6,9.0 30.0,2.3 31.4,0.0 Z" fill="#ec2a10" filter="url(#b1)" opacity="0.97"/><ellipse cx="36" cy="10" rx="1.3" ry="1.3" fill="#8a1a10" transform="rotate(0 36 10)" filter="url(#b1)" opacity="0.6"/><ellipse cx="36.5" cy="18" rx="1.3" ry="1.3" fill="#8a1a10" transform="rotate(0 36.5 18)" filter="url(#b1)" opacity="0.6"/><ellipse cx="36" cy="38" rx="1.3" ry="1.3" fill="#8a1a10" transform="rotate(0 36 38)" filter="url(#b1)" opacity="0.6"/><g><circle cx="29.7" cy="28.1" r="0.5" fill="#333"/><circle cx="30.3" cy="40.9" r="0.5" fill="#333"/><circle cx="29.3" cy="35.6" r="0.5" fill="#333"/><circle cx="28.2" cy="23.1" r="0.5" fill="#333"/><circle cx="29.2" cy="41.9" r="0.5" fill="#333"/><circle cx="29.5" cy="41.7" r="0.5" fill="#333"/><circle cx="29.8" cy="38.7" r="0.5" fill="#333"/><circle cx="29.0" cy="25.7" r="0.5" fill="#333"/><circle cx="29.2" cy="21.3" r="0.5" fill="#333"/><circle cx="28.9" cy="28.3" r="0.5" fill="#333"/><circle cx="28.9" cy="24.4" r="0.5" fill="#333"/><circle cx="30.2" cy="36.1" r="0.5" fill="#333"/></g><path d="M0.0,28.5 C0.8,27.6 3.2,27.8 5.0,27.8 C6.8,27.8 9.7,28.0 11.0,28.5 C12.3,29.0 13.2,30.2 13.0,31.0 C12.8,31.8 11.5,33.0 10.0,33.5 C8.5,34.0 5.7,33.9 4.0,33.8 C2.3,33.7 0.7,33.9 0.0,33.0 C-0.7,32.1 -0.8,29.4 0.0,28.5 Z" fill="#3ad81e" filter="url(#b1)" opacity="1"/><ellipse cx="27.5" cy="38" rx="3.5" ry="5.5" fill="#3ad81e" transform="rotate(10 27.5 38)" filter="url(#b1)" opacity="1"/><ellipse cx="26.5" cy="36.5" rx="1.8" ry="2.5" fill="#0a2a0a" transform="rotate(10 26.5 36.5)" filter="url(#b1)" opacity="0.8"/><rect x="39" y="0.5" width="5.5" height="1" fill="#333"/></g></g><rect x="193.0" y="117.8" width="46.2" height="46.2" fill="none" stroke="#9a9a9a" stroke-width="1.1"/><rect x="240.8" y="118.3" width="45.2" height="45.2" fill="#fff"/><g clip-path="url(#ic21)"><g transform="translate(240.8,118.3)"><path d="M32.4,0.0 C33.5,-1.7 38.3,-1.7 39.6,0.0 C40.9,1.7 40.3,6.7 40.3,10.0 C40.3,13.3 39.5,17.0 39.5,20.0 C39.5,23.0 40.3,25.8 40.2,28.0 C40.1,30.2 40.1,32.2 39.0,33.0 C37.9,33.8 34.5,34.8 33.5,33.0 C32.5,31.2 32.8,25.8 32.8,22.0 C32.8,18.2 33.3,13.7 33.2,10.0 C33.1,6.3 31.3,1.7 32.4,0.0 Z" fill="#000" filter="url(#b2)" opacity="1"/><ellipse cx="36.5" cy="34.8" rx="2.8" ry="1.8" fill="#9a9a9a" transform="rotate(0 36.5 34.8)" filter="url(#b2)" opacity="1"/><ellipse cx="36.8" cy="40" rx="4.3" ry="3.6" fill="#000" transform="rotate(0 36.8 40)" filter="url(#b2)" opacity="1"/></g></g><rect x="240.3" y="117.8" width="46.2" height="46.2" fill="none" stroke="#9a9a9a" stroke-width="1.1"/><rect x="193.5" y="165.2" width="45.2" height="45.2" fill="#fff"/><g clip-path="url(#ic30)"><g transform="translate(193.5,165.2)"><path d="M30.6,0.0 C31.8,-7.5 36.8,-7.5 38.0,0.0 C39.2,7.5 39.2,37.5 38.0,45.0 C36.8,52.5 31.8,52.5 30.6,45.0 C29.4,37.5 29.4,7.5 30.6,0.0 Z" fill="#e6e6e6" filter="url(#b1)" opacity="0.9"/><path d="M28.6,1 C29.8,8 27.4,14 28.8,20 C29.8,27 27.2,33 28.8,38 L28.6,45" stroke="#000" stroke-width="2.0" fill="none" filter="url(#b2)"/><g filter="url(#b3)" opacity="0.9"><circle cx="24.6" cy="37.9" r="0.9" fill="#777"/><circle cx="25.1" cy="33.0" r="0.8" fill="#000"/><circle cx="9.2" cy="34.8" r="1.3" fill="#777"/><circle cx="18.0" cy="44.8" r="1.4" fill="#000"/><circle cx="2.6" cy="36.7" r="1.7" fill="#222"/><circle cx="4.0" cy="28.6" r="0.9" fill="#999"/><circle cx="27.6" cy="43.1" r="1.0" fill="#222"/><circle cx="6.5" cy="35.1" r="1.4" fill="#222"/><circle cx="12.2" cy="33.0" r="1.2" fill="#444"/><circle cx="5.0" cy="28.4" r="1.1" fill="#999"/><circle cx="22.8" cy="43.5" r="1.7" fill="#999"/><circle cx="9.0" cy="44.9" r="0.8" fill="#444"/><circle cx="8.0" cy="42.0" r="1.7" fill="#777"/><circle cx="8.6" cy="39.4" r="0.6" fill="#444"/><circle cx="3.8" cy="40.4" r="1.2" fill="#222"/><circle cx="2.6" cy="34.1" r="1.2" fill="#444"/><circle cx="16.9" cy="33.1" r="1.7" fill="#777"/><circle cx="12.1" cy="43.6" r="0.7" fill="#777"/><circle cx="16.5" cy="35.4" r="1.0" fill="#000"/><circle cx="9.5" cy="34.9" r="1.4" fill="#777"/><circle cx="1.2" cy="37.6" r="1.3" fill="#777"/><circle cx="9.7" cy="43.7" r="1.0" fill="#999"/><circle cx="3.8" cy="39.7" r="1.7" fill="#000"/><circle cx="15.4" cy="44.2" r="0.7" fill="#444"/><circle cx="20.3" cy="33.1" r="1.4" fill="#222"/><circle cx="19.2" cy="39.6" r="1.4" fill="#000"/><circle cx="2.9" cy="39.1" r="1.1" fill="#999"/><circle cx="9.2" cy="33.8" r="1.1" fill="#777"/><circle cx="13.8" cy="37.4" r="0.6" fill="#000"/><circle cx="15.9" cy="35.3" r="0.7" fill="#222"/><circle cx="20.4" cy="34.6" r="1.0" fill="#444"/><circle cx="6.1" cy="42.7" r="0.7" fill="#999"/><circle cx="3.5" cy="40.6" r="0.8" fill="#777"/><circle cx="6.1" cy="29.5" r="1.1" fill="#222"/><circle cx="23.2" cy="43.8" r="1.2" fill="#000"/><circle cx="2.9" cy="30.9" r="1.0" fill="#999"/><circle cx="23.6" cy="40.8" r="1.3" fill="#000"/><circle cx="5.3" cy="43.0" r="1.5" fill="#999"/><circle cx="3.0" cy="44.1" r="1.4" fill="#777"/><circle cx="6.6" cy="34.3" r="1.5" fill="#444"/><circle cx="12.0" cy="28.9" r="1.3" fill="#777"/><circle cx="5.7" cy="29.8" r="1.2" fill="#444"/><circle cx="10.7" cy="34.5" r="1.6" fill="#444"/><circle cx="7.6" cy="29.2" r="1.5" fill="#000"/><circle cx="13.0" cy="33.2" r="1.7" fill="#000"/><circle cx="13.9" cy="37.3" r="0.7" fill="#222"/><circle cx="28.0" cy="41.2" r="1.1" fill="#222"/><circle cx="13.0" cy="43.9" r="1.7" fill="#444"/><circle cx="8.9" cy="38.6" r="1.2" fill="#777"/><circle cx="6.7" cy="41.6" r="1.0" fill="#222"/><circle cx="2.4" cy="39.4" r="0.7" fill="#222"/><circle cx="19.2" cy="34.6" r="0.9" fill="#222"/><circle cx="7.2" cy="39.0" r="1.4" fill="#444"/><circle cx="13.0" cy="44.3" r="1.3" fill="#444"/><circle cx="13.2" cy="39.7" r="1.6" fill="#444"/><circle cx="5.5" cy="29.6" r="1.7" fill="#999"/><circle cx="18.5" cy="38.9" r="1.7" fill="#999"/><circle cx="8.5" cy="29.7" r="1.0" fill="#999"/><circle cx="19.9" cy="35.9" r="1.8" fill="#222"/><circle cx="11.7" cy="38.1" r="0.7" fill="#000"/><circle cx="0.8" cy="39.9" r="1.2" fill="#000"/><circle cx="14.5" cy="44.0" r="0.8" fill="#999"/><circle cx="10.5" cy="36.6" r="1.8" fill="#999"/><circle cx="20.3" cy="30.0" r="1.7" fill="#222"/><circle cx="23.5" cy="38.0" r="1.3" fill="#444"/><circle cx="8.6" cy="35.7" r="0.9" fill="#222"/><circle cx="20.0" cy="42.1" r="1.7" fill="#000"/><circle cx="18.6" cy="42.2" r="0.7" fill="#444"/><circle cx="22.8" cy="43.1" r="0.8" fill="#000"/><circle cx="14.2" cy="43.1" r="1.6" fill="#444"/><circle cx="26.8" cy="42.8" r="1.3" fill="#000"/><circle cx="23.8" cy="30.5" r="1.1" fill="#777"/><circle cx="5.9" cy="30.1" r="1.7" fill="#444"/><circle cx="9.2" cy="31.4" r="1.7" fill="#777"/><circle cx="0.3" cy="37.2" r="1.3" fill="#999"/><circle cx="21.4" cy="41.2" r="1.7" fill="#444"/><circle cx="23.7" cy="32.0" r="1.6" fill="#777"/><circle cx="0.7" cy="36.4" r="1.3" fill="#777"/><circle cx="17.7" cy="42.9" r="1.6" fill="#000"/><circle cx="11.0" cy="28.1" r="0.7" fill="#999"/><circle cx="2.4" cy="30.2" r="1.3" fill="#999"/><circle cx="5.5" cy="36.3" r="1.3" fill="#222"/><circle cx="12.3" cy="37.7" r="0.8" fill="#222"/><circle cx="20.7" cy="35.3" r="1.6" fill="#777"/><circle cx="2.4" cy="33.0" r="1.1" fill="#222"/><circle cx="12.9" cy="38.5" r="1.6" fill="#444"/><circle cx="10.5" cy="37.9" r="1.4" fill="#444"/><circle cx="15.0" cy="43.1" r="0.8" fill="#222"/><circle cx="20.4" cy="29.4" r="1.1" fill="#222"/><circle cx="4.9" cy="29.4" r="0.8" fill="#000"/><circle cx="16.2" cy="39.8" r="1.3" fill="#999"/><circle cx="15.9" cy="43.4" r="0.9" fill="#000"/><circle cx="23.7" cy="34.3" r="1.4" fill="#000"/><circle cx="25.4" cy="43.5" r="1.3" fill="#444"/><circle cx="24.5" cy="30.8" r="1.7" fill="#777"/><circle cx="11.6" cy="42.6" r="0.8" fill="#000"/><circle cx="4.2" cy="32.5" r="1.3" fill="#444"/><circle cx="9.9" cy="33.1" r="1.4" fill="#444"/><circle cx="20.0" cy="32.9" r="0.7" fill="#000"/><circle cx="4.8" cy="33.4" r="0.7" fill="#222"/><circle cx="0.5" cy="28.3" r="1.4" fill="#777"/><circle cx="10.7" cy="33.5" r="0.8" fill="#999"/><circle cx="24.1" cy="38.8" r="1.4" fill="#999"/><circle cx="0.5" cy="27.3" r="0.9" fill="#999"/><circle cx="11.5" cy="35.7" r="1.6" fill="#777"/><circle cx="4.6" cy="33.0" r="1.0" fill="#000"/><circle cx="0.0" cy="44.5" r="0.6" fill="#000"/><circle cx="18.3" cy="40.0" r="1.4" fill="#999"/><circle cx="23.9" cy="32.3" r="1.0" fill="#444"/><circle cx="21.2" cy="40.4" r="1.6" fill="#000"/></g><g filter="url(#b3)" opacity="0.8"><circle cx="0.8" cy="15.1" r="1.1" fill="#666"/><circle cx="0.4" cy="21.8" r="1.1" fill="#666"/><circle cx="2.1" cy="19.8" r="1.3" fill="#666"/><circle cx="2.1" cy="21.6" r="0.9" fill="#666"/><circle cx="3.0" cy="15.0" r="1.2" fill="#666"/><circle cx="1.9" cy="14.8" r="0.8" fill="#888"/><circle cx="1.4" cy="20.2" r="1.3" fill="#666"/><circle cx="1.6" cy="18.1" r="1.3" fill="#888"/></g></g></g><rect x="193.0" y="164.7" width="46.2" height="46.2" fill="none" stroke="#9a9a9a" stroke-width="1.1"/><rect x="240.8" y="165.2" width="45.2" height="45.2" fill="#fff"/><g clip-path="url(#ic31)"><g transform="translate(240.8,165.2)"><ellipse cx="6" cy="31.3" rx="5" ry="2.4" fill="#000" transform="rotate(15 6 31.3)" filter="url(#b2)" opacity="1"/><ellipse cx="27" cy="38.3" rx="2.8" ry="4.6" fill="#000" transform="rotate(-20 27 38.3)" filter="url(#b2)" opacity="1"/></g></g><rect x="240.3" y="164.7" width="46.2" height="46.2" fill="none" stroke="#9a9a9a" stroke-width="1.1"/><rect x="193.5" y="215.8" width="45.2" height="45.2" fill="#fefcf8"/><g clip-path="url(#ic40)"><g transform="translate(193.5,215.8)"><path d="M0.0,0.0 C3.3,-7.5 16.0,-3.3 20.0,0.0 C24.0,3.3 23.0,12.5 24.0,20.0 C25.0,27.5 30.0,40.8 26.0,45.0 C22.0,49.2 4.3,52.5 0.0,45.0 C-4.3,37.5 -3.3,7.5 0.0,0.0 Z" fill="#efc880" filter="url(#b1)" opacity="0.7"/><g filter="url(#b3)" opacity="0.95"><circle cx="23.0" cy="31.3" r="1.0" fill="#d9a040"/><circle cx="5.4" cy="10.3" r="0.9" fill="#d9a040"/><circle cx="16.7" cy="27.5" r="1.4" fill="#b07020"/><circle cx="0.8" cy="40.4" r="1.0" fill="#8a5a20"/><circle cx="4.5" cy="42.7" r="0.9" fill="#c88a30"/><circle cx="25.0" cy="39.8" r="0.9" fill="#b07020"/><circle cx="5.3" cy="35.1" r="0.9" fill="#f0c878"/><circle cx="9.9" cy="16.8" r="1.4" fill="#f0c878"/><circle cx="14.4" cy="39.5" r="1.2" fill="#b07020"/><circle cx="15.8" cy="43.4" r="1.2" fill="#f0c878"/><circle cx="19.8" cy="15.3" r="1.7" fill="#f0c878"/><circle cx="14.5" cy="2.3" r="1.4" fill="#8a5a20"/><circle cx="6.3" cy="19.2" r="0.9" fill="#e8b050"/><circle cx="15.0" cy="23.9" r="1.6" fill="#b07020"/><circle cx="5.7" cy="26.8" r="0.8" fill="#c88a30"/><circle cx="11.1" cy="37.7" r="1.1" fill="#e8b050"/><circle cx="0.4" cy="6.4" r="0.7" fill="#e8b050"/><circle cx="0.0" cy="22.5" r="1.4" fill="#c88a30"/><circle cx="22.5" cy="18.4" r="1.4" fill="#8a5a20"/><circle cx="8.2" cy="43.4" r="0.9" fill="#d9a040"/><circle cx="11.5" cy="7.6" r="1.2" fill="#c88a30"/><circle cx="17.2" cy="44.0" r="1.5" fill="#8a5a20"/><circle cx="20.6" cy="26.9" r="1.5" fill="#c88a30"/><circle cx="13.2" cy="19.1" r="1.5" fill="#e8b050"/><circle cx="17.6" cy="42.8" r="0.8" fill="#b07020"/><circle cx="4.5" cy="5.2" r="1.0" fill="#f0c878"/><circle cx="10.1" cy="27.8" r="1.6" fill="#8a5a20"/><circle cx="17.7" cy="18.6" r="1.6" fill="#b07020"/><circle cx="23.6" cy="31.1" r="1.4" fill="#b07020"/><circle cx="17.6" cy="5.9" r="0.9" fill="#c88a30"/><circle cx="14.7" cy="39.5" r="1.2" fill="#d9a040"/><circle cx="23.6" cy="12.2" r="0.8" fill="#f0c878"/><circle cx="9.8" cy="21.7" r="1.0" fill="#b07020"/><circle cx="6.5" cy="26.5" r="1.3" fill="#e8b050"/><circle cx="1.6" cy="6.1" r="1.5" fill="#e8b050"/><circle cx="1.5" cy="25.7" r="1.0" fill="#d9a040"/><circle cx="15.5" cy="24.5" r="1.6" fill="#c88a30"/><circle cx="11.3" cy="14.4" r="1.3" fill="#c88a30"/><circle cx="25.8" cy="44.1" r="1.2" fill="#b07020"/><circle cx="6.4" cy="27.1" r="0.8" fill="#8a5a20"/><circle cx="5.6" cy="32.6" r="0.9" fill="#e8b050"/><circle cx="26.7" cy="38.0" r="1.1" fill="#e8b050"/><circle cx="22.1" cy="7.6" r="1.4" fill="#8a5a20"/><circle cx="23.1" cy="25.9" r="0.9" fill="#f0c878"/><circle cx="4.7" cy="20.5" r="1.5" fill="#8a5a20"/><circle cx="21.2" cy="31.7" r="1.0" fill="#b07020"/><circle cx="25.0" cy="30.6" r="1.2" fill="#d9a040"/><circle cx="12.1" cy="27.9" r="1.3" fill="#8a5a20"/><circle cx="6.4" cy="36.9" r="1.4" fill="#b07020"/><circle cx="1.4" cy="3.8" r="1.5" fill="#e8b050"/><circle cx="26.3" cy="23.9" r="1.4" fill="#8a5a20"/><circle cx="7.0" cy="9.1" r="1.4" fill="#b07020"/><circle cx="5.0" cy="8.6" r="1.6" fill="#b07020"/><circle cx="3.7" cy="14.0" r="0.7" fill="#e8b050"/><circle cx="22.1" cy="0.5" r="1.5" fill="#b07020"/><circle cx="14.8" cy="43.5" r="1.0" fill="#f0c878"/><circle cx="2.8" cy="11.8" r="1.6" fill="#b07020"/><circle cx="18.3" cy="20.8" r="1.3" fill="#e8b050"/><circle cx="20.5" cy="30.0" r="1.2" fill="#b07020"/><circle cx="10.0" cy="36.3" r="1.4" fill="#c88a30"/><circle cx="13.6" cy="18.3" r="1.6" fill="#b07020"/><circle cx="3.7" cy="17.2" r="1.2" fill="#e8b050"/><circle cx="12.2" cy="3.9" r="1.5" fill="#f0c878"/><circle cx="10.8" cy="19.3" r="1.3" fill="#d9a040"/><circle cx="7.0" cy="37.0" r="0.9" fill="#8a5a20"/><circle cx="15.3" cy="26.4" r="1.6" fill="#d9a040"/><circle cx="19.2" cy="15.0" r="1.2" fill="#8a5a20"/><circle cx="14.5" cy="35.8" r="1.5" fill="#f0c878"/><circle cx="5.5" cy="36.8" r="0.9" fill="#f0c878"/><circle cx="11.2" cy="17.3" r="1.5" fill="#d9a040"/><circle cx="20.8" cy="9.1" r="1.5" fill="#f0c878"/><circle cx="4.0" cy="23.5" r="1.1" fill="#b07020"/><circle cx="1.0" cy="25.8" r="1.5" fill="#8a5a20"/><circle cx="26.6" cy="34.7" r="1.7" fill="#e8b050"/><circle cx="5.3" cy="32.8" r="0.8" fill="#c88a30"/><circle cx="5.1" cy="35.4" r="1.4" fill="#c88a30"/><circle cx="6.1" cy="16.9" r="1.3" fill="#b07020"/><circle cx="15.5" cy="37.7" r="1.6" fill="#e8b050"/><circle cx="1.8" cy="3.4" r="1.7" fill="#d9a040"/><circle cx="1.7" cy="23.1" r="1.3" fill="#8a5a20"/><circle cx="11.6" cy="41.7" r="1.2" fill="#b07020"/><circle cx="21.7" cy="40.5" r="1.7" fill="#8a5a20"/><circle cx="19.7" cy="20.6" r="0.8" fill="#8a5a20"/><circle cx="6.4" cy="12.3" r="0.9" fill="#d9a040"/><circle cx="1.8" cy="35.9" r="0.8" fill="#f0c878"/><circle cx="17.2" cy="41.3" r="1.1" fill="#d9a040"/><circle cx="4.2" cy="4.0" r="1.5" fill="#8a5a20"/><circle cx="16.4" cy="14.9" r="0.8" fill="#8a5a20"/><circle cx="11.0" cy="22.7" r="1.7" fill="#8a5a20"/><circle cx="17.9" cy="27.2" r="1.0" fill="#b07020"/><circle cx="12.0" cy="38.9" r="1.1" fill="#d9a040"/><circle cx="18.6" cy="31.8" r="1.7" fill="#e8b050"/><circle cx="1.9" cy="33.4" r="1.3" fill="#f0c878"/><circle cx="1.9" cy="33.7" r="1.1" fill="#f0c878"/><circle cx="2.1" cy="37.4" r="1.3" fill="#e8b050"/><circle cx="12.4" cy="13.4" r="0.9" fill="#b07020"/><circle cx="12.1" cy="4.5" r="1.8" fill="#f0c878"/><circle cx="26.0" cy="33.1" r="1.1" fill="#b07020"/><circle cx="15.0" cy="18.8" r="1.0" fill="#c88a30"/><circle cx="23.3" cy="7.7" r="1.2" fill="#e8b050"/><circle cx="17.4" cy="13.1" r="1.8" fill="#c88a30"/><circle cx="18.0" cy="16.8" r="0.8" fill="#d9a040"/><circle cx="11.6" cy="40.1" r="1.6" fill="#d9a040"/><circle cx="25.0" cy="41.4" r="1.7" fill="#d9a040"/><circle cx="12.2" cy="29.5" r="1.6" fill="#8a5a20"/><circle cx="13.9" cy="12.7" r="1.7" fill="#d9a040"/><circle cx="24.5" cy="29.1" r="1.0" fill="#b07020"/><circle cx="14.2" cy="21.0" r="1.0" fill="#d9a040"/><circle cx="18.8" cy="0.7" r="0.8" fill="#8a5a20"/><circle cx="15.6" cy="38.8" r="1.2" fill="#e8b050"/><circle cx="15.2" cy="7.5" r="0.8" fill="#c88a30"/><circle cx="11.3" cy="30.3" r="0.9" fill="#c88a30"/><circle cx="25.4" cy="40.9" r="1.0" fill="#d9a040"/><circle cx="0.7" cy="1.9" r="1.7" fill="#d9a040"/><circle cx="17.4" cy="27.7" r="1.1" fill="#d9a040"/><circle cx="15.1" cy="29.9" r="1.4" fill="#b07020"/><circle cx="4.3" cy="38.5" r="1.0" fill="#8a5a20"/><circle cx="6.5" cy="24.6" r="1.6" fill="#b07020"/><circle cx="25.8" cy="37.6" r="1.6" fill="#8a5a20"/><circle cx="2.7" cy="6.5" r="1.4" fill="#8a5a20"/><circle cx="17.9" cy="0.9" r="1.7" fill="#f0c878"/><circle cx="12.2" cy="21.0" r="1.3" fill="#f0c878"/><circle cx="2.6" cy="35.0" r="0.9" fill="#e8b050"/><circle cx="24.7" cy="19.9" r="0.9" fill="#c88a30"/><circle cx="5.1" cy="13.2" r="1.7" fill="#8a5a20"/><circle cx="1.8" cy="14.1" r="1.7" fill="#b07020"/><circle cx="22.6" cy="33.1" r="1.0" fill="#8a5a20"/><circle cx="11.7" cy="41.4" r="1.0" fill="#c88a30"/><circle cx="24.1" cy="18.5" r="1.4" fill="#d9a040"/><circle cx="16.9" cy="40.6" r="1.2" fill="#e8b050"/><circle cx="10.1" cy="9.2" r="1.3" fill="#8a5a20"/><circle cx="4.5" cy="20.6" r="0.8" fill="#d9a040"/><circle cx="10.7" cy="13.4" r="0.9" fill="#8a5a20"/><circle cx="16.0" cy="7.9" r="1.7" fill="#e8b050"/><circle cx="7.8" cy="3.8" r="0.8" fill="#f0c878"/><circle cx="8.5" cy="14.2" r="1.5" fill="#8a5a20"/><circle cx="18.6" cy="11.0" r="1.5" fill="#8a5a20"/><circle cx="7.6" cy="37.0" r="1.5" fill="#f0c878"/><circle cx="16.5" cy="33.1" r="0.8" fill="#8a5a20"/><circle cx="9.7" cy="10.2" r="0.8" fill="#d9a040"/><circle cx="18.3" cy="23.1" r="1.8" fill="#8a5a20"/><circle cx="2.6" cy="43.1" r="1.4" fill="#8a5a20"/><circle cx="25.6" cy="19.9" r="1.1" fill="#e8b050"/><circle cx="0.8" cy="34.6" r="1.2" fill="#b07020"/><circle cx="8.5" cy="31.2" r="1.6" fill="#b07020"/><circle cx="3.1" cy="12.8" r="1.3" fill="#d9a040"/><circle cx="8.7" cy="21.9" r="0.8" fill="#e8b050"/><circle cx="18.4" cy="34.0" r="1.3" fill="#d9a040"/><circle cx="11.9" cy="32.2" r="1.8" fill="#c88a30"/><circle cx="9.1" cy="3.7" r="1.4" fill="#c88a30"/><circle cx="7.0" cy="30.6" r="1.7" fill="#e8b050"/><circle cx="9.8" cy="27.4" r="1.6" fill="#e8b050"/><circle cx="10.0" cy="36.3" r="1.2" fill="#8a5a20"/><circle cx="23.2" cy="33.3" r="1.1" fill="#f0c878"/><circle cx="26.4" cy="28.5" r="1.2" fill="#b07020"/><circle cx="0.4" cy="8.4" r="0.8" fill="#e8b050"/><circle cx="6.1" cy="1.3" r="0.9" fill="#d9a040"/><circle cx="2.7" cy="22.5" r="1.2" fill="#f0c878"/><circle cx="4.3" cy="42.9" r="1.3" fill="#c88a30"/><circle cx="11.6" cy="7.8" r="1.7" fill="#b07020"/><circle cx="15.5" cy="14.5" r="1.5" fill="#b07020"/><circle cx="17.8" cy="40.1" r="1.0" fill="#d9a040"/><circle cx="8.2" cy="14.9" r="1.1" fill="#d9a040"/><circle cx="20.8" cy="22.3" r="1.2" fill="#8a5a20"/><circle cx="1.5" cy="4.8" r="1.1" fill="#e8b050"/><circle cx="25.1" cy="40.0" r="1.6" fill="#e8b050"/><circle cx="12.9" cy="0.3" r="1.3" fill="#c88a30"/><circle cx="9.4" cy="27.3" r="1.4" fill="#8a5a20"/><circle cx="24.1" cy="43.1" r="1.1" fill="#e8b050"/><circle cx="24.2" cy="40.9" r="1.2" fill="#c88a30"/><circle cx="10.1" cy="4.6" r="1.1" fill="#d9a040"/><circle cx="15.7" cy="24.0" r="0.9" fill="#f0c878"/><circle cx="0.2" cy="33.4" r="1.2" fill="#b07020"/><circle cx="4.2" cy="14.9" r="1.2" fill="#e8b050"/><circle cx="20.8" cy="19.2" r="1.4" fill="#d9a040"/><circle cx="24.0" cy="39.6" r="1.3" fill="#f0c878"/><circle cx="9.7" cy="6.8" r="1.3" fill="#f0c878"/><circle cx="19.3" cy="10.8" r="1.8" fill="#b07020"/><circle cx="11.1" cy="34.7" r="1.7" fill="#f0c878"/><circle cx="3.3" cy="0.4" r="1.7" fill="#8a5a20"/><circle cx="3.1" cy="3.4" r="1.7" fill="#d9a040"/><circle cx="3.1" cy="0.0" r="1.4" fill="#8a5a20"/><circle cx="16.1" cy="9.3" r="1.3" fill="#f0c878"/><circle cx="10.7" cy="24.4" r="1.7" fill="#d9a040"/><circle cx="25.4" cy="40.6" r="1.6" fill="#f0c878"/><circle cx="9.8" cy="9.0" r="1.7" fill="#8a5a20"/><circle cx="23.5" cy="20.9" r="1.3" fill="#f0c878"/><circle cx="26.6" cy="42.5" r="0.9" fill="#8a5a20"/><circle cx="23.1" cy="29.6" r="1.7" fill="#c88a30"/><circle cx="24.9" cy="22.8" r="0.9" fill="#b07020"/><circle cx="4.2" cy="25.6" r="1.7" fill="#b07020"/><circle cx="23.7" cy="36.9" r="1.4" fill="#f0c878"/><circle cx="7.5" cy="7.6" r="1.7" fill="#f0c878"/><circle cx="23.3" cy="31.0" r="1.8" fill="#8a5a20"/><circle cx="11.4" cy="41.2" r="1.6" fill="#b07020"/><circle cx="11.9" cy="16.7" r="1.1" fill="#e8b050"/><circle cx="10.2" cy="40.3" r="0.8" fill="#8a5a20"/><circle cx="15.1" cy="21.2" r="0.8" fill="#b07020"/><circle cx="25.3" cy="23.0" r="0.9" fill="#b07020"/><circle cx="9.0" cy="8.9" r="1.5" fill="#e8b050"/><circle cx="11.2" cy="38.4" r="1.3" fill="#b07020"/><circle cx="20.8" cy="13.8" r="1.3" fill="#e8b050"/><circle cx="11.7" cy="13.3" r="1.2" fill="#b07020"/><circle cx="20.0" cy="12.6" r="1.4" fill="#e8b050"/><circle cx="5.7" cy="13.2" r="1.0" fill="#b07020"/><circle cx="9.0" cy="31.4" r="1.8" fill="#f0c878"/><circle cx="24.3" cy="43.2" r="1.5" fill="#e8b050"/><circle cx="17.7" cy="25.0" r="1.4" fill="#8a5a20"/><circle cx="1.0" cy="11.2" r="1.5" fill="#8a5a20"/><circle cx="1.4" cy="11.0" r="0.7" fill="#8a5a20"/><circle cx="21.9" cy="44.5" r="1.3" fill="#b07020"/><circle cx="21.1" cy="25.5" r="1.6" fill="#e8b050"/><circle cx="23.0" cy="39.3" r="1.5" fill="#c88a30"/><circle cx="0.0" cy="10.4" r="1.1" fill="#b07020"/><circle cx="4.3" cy="30.8" r="1.7" fill="#d9a040"/><circle cx="8.2" cy="19.1" r="0.9" fill="#e8b050"/><circle cx="8.8" cy="20.4" r="1.0" fill="#d9a040"/><circle cx="10.0" cy="37.4" r="0.8" fill="#e8b050"/><circle cx="23.0" cy="15.5" r="1.8" fill="#b07020"/><circle cx="3.2" cy="30.6" r="1.4" fill="#e8b050"/><circle cx="7.9" cy="5.6" r="1.2" fill="#8a5a20"/><circle cx="0.4" cy="1.6" r="1.4" fill="#8a5a20"/><circle cx="13.3" cy="42.3" r="1.1" fill="#b07020"/><circle cx="4.3" cy="7.8" r="1.4" fill="#c88a30"/><circle cx="20.3" cy="20.9" r="1.4" fill="#e8b050"/><circle cx="1.3" cy="41.3" r="1.0" fill="#f0c878"/><circle cx="22.4" cy="12.6" r="0.9" fill="#c88a30"/><circle cx="8.9" cy="6.6" r="1.3" fill="#b07020"/><circle cx="4.4" cy="18.0" r="1.5" fill="#d9a040"/><circle cx="16.8" cy="9.3" r="1.3" fill="#e8b050"/><circle cx="22.1" cy="34.9" r="1.0" fill="#e8b050"/><circle cx="8.3" cy="19.9" r="1.1" fill="#c88a30"/><circle cx="20.5" cy="16.9" r="1.6" fill="#f0c878"/><circle cx="18.7" cy="34.3" r="1.8" fill="#c88a30"/><circle cx="12.4" cy="24.0" r="1.7" fill="#f0c878"/><circle cx="21.9" cy="28.2" r="0.8" fill="#8a5a20"/><circle cx="12.6" cy="21.1" r="1.2" fill="#b07020"/><circle cx="16.7" cy="10.6" r="1.7" fill="#f0c878"/><circle cx="23.5" cy="21.9" r="1.6" fill="#e8b050"/><circle cx="7.7" cy="14.7" r="1.7" fill="#d9a040"/><circle cx="10.2" cy="0.8" r="1.5" fill="#d9a040"/><circle cx="15.9" cy="42.1" r="1.1" fill="#b07020"/><circle cx="17.9" cy="1.9" r="1.7" fill="#e8b050"/><circle cx="9.1" cy="27.8" r="1.5" fill="#c88a30"/><circle cx="14.6" cy="36.1" r="1.1" fill="#c88a30"/><circle cx="9.5" cy="26.9" r="1.3" fill="#c88a30"/><circle cx="21.7" cy="20.6" r="1.4" fill="#c88a30"/><circle cx="8.5" cy="44.7" r="1.6" fill="#b07020"/><circle cx="5.7" cy="39.9" r="1.3" fill="#8a5a20"/><circle cx="23.0" cy="12.6" r="0.8" fill="#b07020"/><circle cx="9.8" cy="37.3" r="1.7" fill="#8a5a20"/><circle cx="3.9" cy="36.8" r="1.0" fill="#d9a040"/><circle cx="19.1" cy="9.6" r="1.6" fill="#c88a30"/><circle cx="19.3" cy="1.2" r="1.3" fill="#8a5a20"/><circle cx="13.6" cy="42.2" r="1.2" fill="#b07020"/><circle cx="19.1" cy="35.1" r="0.8" fill="#c88a30"/><circle cx="10.8" cy="30.3" r="1.7" fill="#b07020"/><circle cx="17.1" cy="1.8" r="0.9" fill="#8a5a20"/><circle cx="14.8" cy="44.5" r="0.8" fill="#f0c878"/><circle cx="10.5" cy="22.7" r="0.8" fill="#c88a30"/><circle cx="6.8" cy="19.1" r="1.0" fill="#e8b050"/><circle cx="9.1" cy="35.1" r="1.0" fill="#c88a30"/><circle cx="3.3" cy="20.8" r="0.9" fill="#e8b050"/><circle cx="21.4" cy="35.5" r="0.8" fill="#8a5a20"/><circle cx="23.1" cy="32.5" r="1.6" fill="#b07020"/><circle cx="21.2" cy="38.2" r="1.2" fill="#c88a30"/><circle cx="9.3" cy="2.2" r="1.8" fill="#d9a040"/><circle cx="11.7" cy="26.8" r="1.3" fill="#d9a040"/><circle cx="14.3" cy="8.4" r="1.2" fill="#f0c878"/><circle cx="11.7" cy="4.6" r="1.2" fill="#e8b050"/><circle cx="3.2" cy="27.8" r="0.8" fill="#e8b050"/><circle cx="0.8" cy="12.2" r="1.1" fill="#b07020"/><circle cx="15.2" cy="30.6" r="1.4" fill="#c88a30"/><circle cx="11.4" cy="36.0" r="0.8" fill="#8a5a20"/><circle cx="23.1" cy="31.8" r="0.9" fill="#f0c878"/><circle cx="10.8" cy="33.7" r="1.7" fill="#c88a30"/><circle cx="16.9" cy="35.7" r="1.7" fill="#8a5a20"/><circle cx="2.9" cy="38.6" r="0.9" fill="#e8b050"/><circle cx="14.6" cy="38.9" r="1.7" fill="#d9a040"/><circle cx="15.9" cy="41.2" r="0.9" fill="#e8b050"/><circle cx="24.1" cy="17.3" r="0.9" fill="#d9a040"/><circle cx="15.7" cy="2.2" r="1.0" fill="#b07020"/><circle cx="22.1" cy="32.5" r="1.2" fill="#f0c878"/><circle cx="6.8" cy="19.9" r="1.1" fill="#e8b050"/><circle cx="20.9" cy="7.2" r="0.9" fill="#c88a30"/><circle cx="12.8" cy="39.1" r="1.1" fill="#e8b050"/><circle cx="16.3" cy="29.7" r="1.4" fill="#d9a040"/><circle cx="3.5" cy="31.1" r="1.5" fill="#e8b050"/><circle cx="18.3" cy="43.7" r="1.5" fill="#b07020"/><circle cx="5.7" cy="25.3" r="1.8" fill="#f0c878"/><circle cx="1.6" cy="24.5" r="1.1" fill="#c88a30"/><circle cx="12.7" cy="25.3" r="1.7" fill="#c88a30"/><circle cx="24.6" cy="20.0" r="1.3" fill="#d9a040"/><circle cx="20.0" cy="13.2" r="1.0" fill="#f0c878"/><circle cx="24.6" cy="40.8" r="1.2" fill="#8a5a20"/><circle cx="24.4" cy="21.6" r="0.9" fill="#f0c878"/><circle cx="8.2" cy="26.5" r="0.9" fill="#b07020"/><circle cx="7.2" cy="34.8" r="1.4" fill="#8a5a20"/><circle cx="8.0" cy="29.9" r="1.4" fill="#c88a30"/><circle cx="11.3" cy="29.4" r="1.0" fill="#d9a040"/><circle cx="13.9" cy="31.4" r="1.3" fill="#f0c878"/><circle cx="4.0" cy="8.9" r="1.7" fill="#f0c878"/><circle cx="6.3" cy="29.0" r="1.3" fill="#d9a040"/><circle cx="5.8" cy="16.8" r="1.6" fill="#8a5a20"/><circle cx="8.9" cy="10.9" r="1.7" fill="#c88a30"/><circle cx="9.7" cy="12.4" r="0.9" fill="#e8b050"/><circle cx="15.1" cy="4.4" r="1.1" fill="#8a5a20"/><circle cx="1.7" cy="15.7" r="1.0" fill="#c88a30"/><circle cx="12.2" cy="16.8" r="1.8" fill="#c88a30"/><circle cx="15.4" cy="12.5" r="1.2" fill="#d9a040"/><circle cx="1.0" cy="21.6" r="1.3" fill="#8a5a20"/><circle cx="12.0" cy="19.8" r="1.7" fill="#b07020"/><circle cx="20.1" cy="44.8" r="1.2" fill="#b07020"/><circle cx="12.6" cy="11.6" r="1.0" fill="#8a5a20"/><circle cx="18.8" cy="25.0" r="0.7" fill="#e8b050"/><circle cx="6.9" cy="38.3" r="1.4" fill="#8a5a20"/><circle cx="16.1" cy="7.4" r="1.4" fill="#b07020"/><circle cx="25.2" cy="22.6" r="1.2" fill="#e8b050"/><circle cx="5.8" cy="3.2" r="1.6" fill="#8a5a20"/><circle cx="11.1" cy="21.8" r="0.7" fill="#8a5a20"/><circle cx="21.9" cy="30.7" r="1.0" fill="#b07020"/><circle cx="13.6" cy="9.3" r="1.2" fill="#8a5a20"/><circle cx="9.8" cy="29.7" r="1.5" fill="#e8b050"/><circle cx="6.5" cy="41.5" r="1.5" fill="#c88a30"/><circle cx="23.7" cy="18.4" r="1.4" fill="#e8b050"/><circle cx="11.9" cy="15.3" r="1.2" fill="#e8b050"/><circle cx="10.7" cy="5.3" r="0.8" fill="#e8b050"/><circle cx="21.1" cy="23.5" r="1.0" fill="#f0c878"/><circle cx="19.8" cy="37.6" r="1.3" fill="#8a5a20"/><circle cx="25.7" cy="29.1" r="1.7" fill="#c88a30"/><circle cx="17.0" cy="6.2" r="1.5" fill="#e8b050"/><circle cx="1.4" cy="37.4" r="1.7" fill="#f0c878"/><circle cx="12.5" cy="35.0" r="1.3" fill="#f0c878"/><circle cx="14.2" cy="8.3" r="1.4" fill="#b07020"/><circle cx="24.8" cy="19.3" r="1.3" fill="#d9a040"/><circle cx="17.8" cy="21.2" r="1.5" fill="#b07020"/><circle cx="4.8" cy="3.1" r="1.3" fill="#c88a30"/><circle cx="8.9" cy="1.8" r="0.7" fill="#8a5a20"/><circle cx="11.4" cy="12.9" r="1.3" fill="#8a5a20"/><circle cx="0.6" cy="22.1" r="1.3" fill="#c88a30"/><circle cx="15.0" cy="43.7" r="0.8" fill="#b07020"/><circle cx="8.9" cy="9.1" r="1.0" fill="#b07020"/><circle cx="2.1" cy="39.8" r="1.2" fill="#f0c878"/><circle cx="14.0" cy="45.0" r="1.0" fill="#8a5a20"/><circle cx="26.1" cy="37.9" r="0.9" fill="#e8b050"/><circle cx="15.9" cy="31.7" r="1.0" fill="#8a5a20"/><circle cx="26.5" cy="36.5" r="1.6" fill="#e8b050"/><circle cx="15.8" cy="14.5" r="1.6" fill="#f0c878"/><circle cx="7.2" cy="38.0" r="1.3" fill="#b07020"/><circle cx="5.7" cy="31.3" r="1.7" fill="#d9a040"/><circle cx="22.5" cy="9.0" r="1.4" fill="#b07020"/><circle cx="15.9" cy="42.3" r="0.7" fill="#c88a30"/><circle cx="14.3" cy="17.6" r="0.8" fill="#8a5a20"/><circle cx="11.0" cy="9.3" r="1.2" fill="#e8b050"/><circle cx="12.9" cy="42.8" r="1.7" fill="#c88a30"/><circle cx="11.4" cy="14.3" r="1.6" fill="#c88a30"/><circle cx="17.4" cy="12.8" r="1.0" fill="#8a5a20"/><circle cx="10.6" cy="40.3" r="1.0" fill="#e8b050"/><circle cx="12.9" cy="5.6" r="1.7" fill="#f0c878"/><circle cx="7.1" cy="38.6" r="1.3" fill="#8a5a20"/></g><path d="M6.0,11.0 C7.2,9.2 10.3,8.7 12.0,9.0 C13.7,9.3 15.2,11.0 16.0,13.0 C16.8,15.0 16.8,18.7 16.5,21.0 C16.2,23.3 15.4,26.0 14.0,27.0 C12.6,28.0 9.5,28.2 8.0,27.0 C6.5,25.8 5.3,22.7 5.0,20.0 C4.7,17.3 4.8,12.8 6.0,11.0 Z" fill="#fdf3dc" filter="url(#b1)" opacity="0.75"/><path d="M1.0,16.0 C1.5,14.5 3.3,14.7 4.0,16.0 C4.7,17.3 5.5,22.5 5.0,24.0 C4.5,25.5 1.7,26.3 1.0,25.0 C0.3,23.7 0.5,17.5 1.0,16.0 Z" fill="#fdf3dc" filter="url(#b1)" opacity="0.7"/><path d="M8.0,34.0 C8.8,32.3 13.5,31.8 15.0,33.0 C16.5,34.2 17.8,39.3 17.0,41.0 C16.2,42.7 11.5,44.2 10.0,43.0 C8.5,41.8 7.2,35.7 8.0,34.0 Z" fill="#fbeccc" filter="url(#b1)" opacity="0.75"/><path d="M18.5,0.0 C20.0,-1.7 26.9,-1.7 29.0,0.0 C31.1,1.7 30.3,6.7 31.0,10.0 C31.7,13.3 32.2,16.3 33.0,20.0 C33.8,23.7 34.8,28.0 35.5,32.0 C36.2,36.0 38.4,42.0 37.0,44.0 C35.6,46.0 29.0,46.0 27.0,44.0 C25.0,42.0 25.8,36.0 25.0,32.0 C24.2,28.0 23.3,23.7 22.5,20.0 C21.7,16.3 20.7,13.3 20.0,10.0 C19.3,6.7 17.0,1.7 18.5,0.0 Z" fill="#ec2a10" filter="url(#b1)" opacity="0.97"/><path d="M21.5,2.0 C22.0,0.0 25.7,0.3 27.0,2.0 C28.3,3.7 28.7,8.3 29.5,12.0 C30.3,15.7 31.2,19.3 32.0,24.0 C32.8,28.7 34.5,37.3 34.0,40.0 C33.5,42.7 30.2,42.0 29.0,40.0 C27.8,38.0 27.8,32.3 27.0,28.0 C26.2,23.7 24.9,18.3 24.0,14.0 C23.1,9.7 21.0,4.0 21.5,2.0 Z" fill="#c01808" filter="url(#b1)" opacity="0.7"/><ellipse cx="30.5" cy="19.5" rx="3.5" ry="3" fill="#f0a8a0" transform="rotate(0 30.5 19.5)" filter="url(#b1)" opacity="0.7"/><ellipse cx="37.9" cy="34.5" rx="2" ry="1.8" fill="#ec2a10" transform="rotate(0 37.9 34.5)" filter="url(#b1)" opacity="1"/><ellipse cx="20.2" cy="13.9" rx="2.9" ry="4.4" fill="#1a9a1a" transform="rotate(-20 20.2 13.9)" filter="url(#b1)" opacity="1"/><ellipse cx="22.5" cy="31.8" rx="2.9" ry="4.8" fill="#1a9a1a" transform="rotate(-20 22.5 31.8)" filter="url(#b1)" opacity="1"/><ellipse cx="20.5" cy="14.5" rx="1.4" ry="2.3" fill="#053a05" transform="rotate(-20 20.5 14.5)" filter="url(#b1)" opacity="0.7"/><ellipse cx="22.8" cy="32.5" rx="1.4" ry="2.3" fill="#053a05" transform="rotate(-20 22.8 32.5)" filter="url(#b1)" opacity="0.7"/><rect x="38" y="0.8" width="6" height="1" fill="#777"/></g></g><rect x="193.0" y="215.3" width="46.2" height="46.2" fill="none" stroke="#9a9a9a" stroke-width="1.1"/><rect x="240.8" y="215.8" width="45.2" height="45.2" fill="#fff"/><g clip-path="url(#ic41)"><g transform="translate(240.8,215.8)"><path d="M21.0,0.0 C22.2,-1.7 27.8,-1.7 29.5,0.0 C31.2,1.7 30.4,6.7 31.0,10.0 C31.6,13.3 32.2,16.3 33.0,20.0 C33.8,23.7 35.0,28.0 35.5,32.0 C36.0,36.0 37.5,41.9 36.3,43.9 C35.1,45.9 30.1,45.9 28.5,43.9 C26.9,41.9 27.7,36.0 27.0,32.0 C26.3,28.0 25.3,23.7 24.5,20.0 C23.7,16.3 22.6,13.3 22.0,10.0 C21.4,6.7 19.8,1.7 21.0,0.0 Z" fill="#000" filter="url(#b2)" opacity="1"/><ellipse cx="29" cy="20.3" rx="5" ry="2.2" fill="#b0b0b0" transform="rotate(15 29 20.3)" filter="url(#b2)" opacity="1"/><ellipse cx="37.3" cy="33.9" rx="1.4" ry="1.4" fill="#333" transform="rotate(0 37.3 33.9)" filter="url(#b2)" opacity="1"/></g></g><rect x="240.3" y="215.3" width="46.2" height="46.2" fill="none" stroke="#9a9a9a" stroke-width="1.1"/><rect x="193.5" y="263.0" width="45.2" height="45.2" fill="#fff"/><g clip-path="url(#ic50)"><g transform="translate(193.5,263.0)"><g filter="url(#b3)" opacity="0.95"><circle cx="7.0" cy="4.0" r="0.7" fill="#222"/><circle cx="10.8" cy="16.7" r="1.3" fill="#222"/><circle cx="12.6" cy="9.4" r="0.9" fill="#444"/><circle cx="6.5" cy="31.4" r="1.0" fill="#666"/><circle cx="14.9" cy="5.5" r="0.7" fill="#666"/><circle cx="20.9" cy="32.4" r="0.7" fill="#999"/><circle cx="21.9" cy="38.2" r="1.7" fill="#222"/><circle cx="8.9" cy="19.6" r="1.1" fill="#666"/><circle cx="21.1" cy="40.4" r="0.7" fill="#222"/><circle cx="20.8" cy="29.0" r="1.0" fill="#999"/><circle cx="0.7" cy="18.5" r="0.9" fill="#444"/><circle cx="8.2" cy="9.8" r="1.6" fill="#666"/><circle cx="0.6" cy="33.2" r="1.4" fill="#444"/><circle cx="20.7" cy="13.4" r="1.2" fill="#444"/><circle cx="7.6" cy="38.1" r="1.1" fill="#666"/><circle cx="6.7" cy="19.5" r="0.6" fill="#666"/><circle cx="24.0" cy="31.7" r="1.1" fill="#000"/><circle cx="10.4" cy="29.8" r="1.3" fill="#444"/><circle cx="16.4" cy="44.5" r="1.2" fill="#666"/><circle cx="0.2" cy="38.1" r="1.2" fill="#222"/><circle cx="7.3" cy="5.2" r="1.2" fill="#000"/><circle cx="24.2" cy="36.6" r="0.9" fill="#000"/><circle cx="11.7" cy="25.7" r="1.6" fill="#000"/><circle cx="18.1" cy="12.3" r="1.7" fill="#000"/><circle cx="4.0" cy="19.8" r="1.6" fill="#444"/><circle cx="17.3" cy="36.1" r="1.0" fill="#999"/><circle cx="0.6" cy="35.1" r="1.2" fill="#000"/><circle cx="6.3" cy="7.7" r="1.4" fill="#666"/><circle cx="11.1" cy="41.8" r="1.8" fill="#444"/><circle cx="17.9" cy="43.7" r="1.0" fill="#000"/><circle cx="16.3" cy="9.0" r="1.1" fill="#000"/><circle cx="4.0" cy="17.8" r="1.4" fill="#000"/><circle cx="1.9" cy="32.4" r="1.2" fill="#999"/><circle cx="2.9" cy="12.9" r="1.7" fill="#666"/><circle cx="18.0" cy="24.3" r="0.8" fill="#222"/><circle cx="18.0" cy="13.8" r="1.5" fill="#222"/><circle cx="11.5" cy="32.3" r="1.7" fill="#000"/><circle cx="10.2" cy="36.8" r="1.2" fill="#666"/><circle cx="7.4" cy="33.7" r="0.6" fill="#222"/><circle cx="13.1" cy="23.5" r="1.6" fill="#000"/><circle cx="18.9" cy="21.0" r="1.0" fill="#222"/><circle cx="11.2" cy="21.9" r="0.6" fill="#444"/><circle cx="19.3" cy="5.4" r="0.8" fill="#666"/><circle cx="2.3" cy="22.0" r="1.4" fill="#222"/><circle cx="10.4" cy="26.3" r="1.6" fill="#222"/><circle cx="14.2" cy="31.9" r="1.0" fill="#666"/><circle cx="13.2" cy="35.9" r="1.1" fill="#999"/><circle cx="1.6" cy="20.7" r="0.7" fill="#666"/><circle cx="9.4" cy="39.1" r="0.9" fill="#222"/><circle cx="11.3" cy="25.8" r="1.2" fill="#999"/><circle cx="14.0" cy="42.0" r="0.7" fill="#000"/><circle cx="22.5" cy="33.5" r="1.4" fill="#000"/><circle cx="12.9" cy="20.3" r="1.3" fill="#999"/><circle cx="8.0" cy="14.6" r="0.7" fill="#000"/><circle cx="11.0" cy="2.5" r="1.3" fill="#000"/><circle cx="14.1" cy="44.7" r="0.8" fill="#222"/><circle cx="19.6" cy="31.7" r="0.9" fill="#222"/><circle cx="20.3" cy="30.6" r="1.4" fill="#444"/><circle cx="2.4" cy="1.4" r="1.0" fill="#666"/><circle cx="7.2" cy="44.3" r="0.7" fill="#666"/><circle cx="17.3" cy="19.1" r="1.1" fill="#666"/><circle cx="2.2" cy="22.1" r="0.9" fill="#222"/><circle cx="18.2" cy="8.4" r="0.9" fill="#000"/><circle cx="17.0" cy="31.9" r="0.9" fill="#999"/><circle cx="19.8" cy="21.3" r="1.6" fill="#444"/><circle cx="1.1" cy="42.5" r="1.3" fill="#444"/><circle cx="21.9" cy="32.8" r="0.6" fill="#000"/><circle cx="5.6" cy="17.0" r="1.4" fill="#999"/><circle cx="2.4" cy="35.8" r="1.4" fill="#000"/><circle cx="7.4" cy="6.3" r="1.3" fill="#222"/><circle cx="1.3" cy="5.9" r="1.4" fill="#000"/><circle cx="18.0" cy="16.3" r="1.4" fill="#444"/><circle cx="7.4" cy="21.4" r="1.4" fill="#999"/><circle cx="4.9" cy="19.4" r="1.7" fill="#222"/><circle cx="19.1" cy="33.6" r="1.4" fill="#222"/><circle cx="0.9" cy="44.8" r="0.7" fill="#000"/><circle cx="24.6" cy="40.3" r="0.8" fill="#666"/><circle cx="7.5" cy="12.2" r="0.7" fill="#999"/><circle cx="4.6" cy="15.7" r="1.4" fill="#222"/><circle cx="8.9" cy="43.9" r="1.0" fill="#000"/><circle cx="17.9" cy="7.8" r="1.0" fill="#666"/><circle cx="7.1" cy="16.8" r="1.2" fill="#999"/><circle cx="6.8" cy="18.1" r="1.0" fill="#999"/><circle cx="24.1" cy="36.2" r="1.0" fill="#444"/><circle cx="21.5" cy="37.2" r="0.9" fill="#444"/><circle cx="23.2" cy="41.3" r="0.6" fill="#222"/><circle cx="5.9" cy="20.4" r="0.8" fill="#000"/><circle cx="23.1" cy="42.9" r="0.8" fill="#999"/><circle cx="21.3" cy="31.5" r="1.4" fill="#000"/><circle cx="15.7" cy="10.5" r="1.8" fill="#666"/><circle cx="17.4" cy="17.2" r="0.7" fill="#999"/><circle cx="21.9" cy="36.8" r="0.7" fill="#999"/><circle cx="13.2" cy="37.7" r="1.6" fill="#000"/><circle cx="16.7" cy="36.0" r="1.3" fill="#222"/><circle cx="12.5" cy="16.7" r="0.9" fill="#222"/><circle cx="5.6" cy="41.7" r="1.5" fill="#000"/><circle cx="12.0" cy="6.0" r="1.3" fill="#444"/><circle cx="11.1" cy="3.4" r="0.8" fill="#999"/><circle cx="14.0" cy="6.4" r="1.3" fill="#444"/><circle cx="3.1" cy="27.8" r="1.5" fill="#000"/><circle cx="3.8" cy="0.3" r="0.7" fill="#222"/><circle cx="2.8" cy="23.0" r="0.9" fill="#444"/><circle cx="4.4" cy="1.5" r="1.7" fill="#444"/><circle cx="23.4" cy="42.4" r="1.5" fill="#000"/><circle cx="13.9" cy="43.1" r="0.8" fill="#999"/><circle cx="6.1" cy="7.9" r="1.6" fill="#000"/><circle cx="6.1" cy="24.6" r="0.9" fill="#999"/><circle cx="22.7" cy="40.0" r="1.5" fill="#000"/><circle cx="14.7" cy="27.4" r="1.3" fill="#999"/><circle cx="0.4" cy="31.8" r="1.1" fill="#999"/><circle cx="20.9" cy="23.5" r="1.6" fill="#000"/><circle cx="18.4" cy="1.8" r="1.6" fill="#666"/><circle cx="3.6" cy="35.1" r="1.4" fill="#999"/><circle cx="2.8" cy="9.3" r="1.3" fill="#999"/><circle cx="18.0" cy="6.4" r="1.6" fill="#666"/><circle cx="11.7" cy="44.2" r="1.3" fill="#222"/><circle cx="3.6" cy="20.1" r="1.8" fill="#000"/><circle cx="16.2" cy="43.0" r="1.4" fill="#222"/><circle cx="8.7" cy="1.1" r="1.3" fill="#222"/><circle cx="19.3" cy="32.0" r="1.1" fill="#000"/><circle cx="3.6" cy="8.8" r="0.7" fill="#444"/><circle cx="0.1" cy="30.0" r="1.0" fill="#444"/><circle cx="17.3" cy="38.6" r="1.5" fill="#666"/><circle cx="9.4" cy="19.0" r="1.6" fill="#666"/><circle cx="14.7" cy="17.8" r="1.0" fill="#666"/><circle cx="17.9" cy="37.8" r="0.8" fill="#000"/><circle cx="2.0" cy="21.7" r="1.1" fill="#444"/><circle cx="5.7" cy="25.9" r="0.7" fill="#666"/><circle cx="1.6" cy="24.8" r="1.5" fill="#222"/><circle cx="18.7" cy="30.3" r="0.7" fill="#999"/><circle cx="8.8" cy="13.5" r="0.9" fill="#666"/><circle cx="9.1" cy="31.8" r="1.7" fill="#000"/><circle cx="20.3" cy="38.7" r="1.3" fill="#222"/><circle cx="6.2" cy="27.0" r="0.9" fill="#222"/><circle cx="12.8" cy="41.6" r="1.5" fill="#999"/><circle cx="7.2" cy="0.1" r="0.9" fill="#222"/><circle cx="1.2" cy="35.9" r="1.2" fill="#999"/><circle cx="11.8" cy="5.4" r="1.3" fill="#999"/><circle cx="16.4" cy="10.4" r="1.4" fill="#222"/><circle cx="9.5" cy="27.4" r="1.4" fill="#666"/><circle cx="14.5" cy="18.2" r="0.6" fill="#222"/><circle cx="22.9" cy="39.9" r="0.7" fill="#999"/><circle cx="10.0" cy="25.3" r="0.7" fill="#444"/><circle cx="4.6" cy="23.2" r="1.8" fill="#222"/><circle cx="14.6" cy="31.0" r="1.3" fill="#999"/><circle cx="3.6" cy="0.0" r="1.3" fill="#222"/><circle cx="23.5" cy="42.9" r="0.7" fill="#999"/><circle cx="7.2" cy="43.5" r="1.5" fill="#444"/><circle cx="6.7" cy="18.1" r="0.9" fill="#666"/><circle cx="16.8" cy="37.1" r="0.6" fill="#444"/><circle cx="11.7" cy="16.1" r="0.9" fill="#666"/><circle cx="11.4" cy="0.7" r="1.2" fill="#444"/><circle cx="9.0" cy="12.5" r="1.1" fill="#666"/><circle cx="21.6" cy="41.9" r="0.8" fill="#000"/><circle cx="20.2" cy="10.6" r="1.0" fill="#999"/><circle cx="11.5" cy="44.2" r="1.4" fill="#000"/><circle cx="1.3" cy="38.0" r="1.1" fill="#999"/><circle cx="16.2" cy="28.4" r="1.3" fill="#666"/><circle cx="3.5" cy="1.4" r="1.4" fill="#666"/><circle cx="13.2" cy="25.1" r="1.5" fill="#222"/><circle cx="2.9" cy="5.9" r="1.7" fill="#222"/><circle cx="9.6" cy="7.6" r="1.6" fill="#666"/><circle cx="19.1" cy="35.4" r="1.2" fill="#000"/><circle cx="12.9" cy="3.1" r="1.3" fill="#999"/><circle cx="12.8" cy="16.2" r="1.6" fill="#000"/><circle cx="22.9" cy="25.6" r="1.7" fill="#222"/><circle cx="6.0" cy="28.1" r="1.4" fill="#000"/><circle cx="21.1" cy="22.7" r="0.9" fill="#999"/><circle cx="18.3" cy="40.5" r="0.6" fill="#222"/><circle cx="10.5" cy="0.3" r="1.1" fill="#666"/><circle cx="3.4" cy="20.2" r="1.6" fill="#222"/><circle cx="11.9" cy="14.2" r="0.8" fill="#999"/><circle cx="11.0" cy="43.4" r="0.7" fill="#000"/><circle cx="17.6" cy="17.2" r="1.1" fill="#666"/><circle cx="3.8" cy="14.5" r="1.0" fill="#444"/><circle cx="16.5" cy="36.3" r="1.0" fill="#666"/><circle cx="7.0" cy="38.0" r="1.7" fill="#000"/><circle cx="15.4" cy="4.4" r="1.7" fill="#000"/><circle cx="21.2" cy="28.2" r="0.9" fill="#999"/><circle cx="7.6" cy="15.7" r="1.2" fill="#444"/><circle cx="4.6" cy="22.6" r="1.5" fill="#666"/><circle cx="20.9" cy="15.7" r="0.7" fill="#000"/><circle cx="7.1" cy="10.9" r="1.4" fill="#444"/><circle cx="10.8" cy="15.4" r="1.0" fill="#222"/><circle cx="5.0" cy="23.1" r="1.4" fill="#222"/><circle cx="24.3" cy="39.5" r="1.4" fill="#666"/><circle cx="4.3" cy="18.8" r="1.3" fill="#222"/><circle cx="16.5" cy="12.2" r="1.7" fill="#000"/><circle cx="7.4" cy="41.4" r="1.3" fill="#444"/><circle cx="16.7" cy="6.2" r="1.4" fill="#222"/><circle cx="0.1" cy="27.9" r="1.6" fill="#222"/><circle cx="19.1" cy="6.2" r="1.2" fill="#444"/><circle cx="1.1" cy="21.3" r="0.9" fill="#999"/><circle cx="2.8" cy="12.8" r="1.7" fill="#000"/><circle cx="20.8" cy="33.9" r="1.5" fill="#999"/><circle cx="19.0" cy="29.0" r="0.6" fill="#222"/><circle cx="22.1" cy="42.7" r="0.7" fill="#444"/><circle cx="23.7" cy="37.1" r="1.4" fill="#444"/><circle cx="4.6" cy="3.7" r="1.6" fill="#999"/><circle cx="6.7" cy="37.4" r="1.5" fill="#444"/></g><path d="M4.0,6.0 C5.2,3.8 10.0,4.0 12.0,5.0 C14.0,6.0 15.8,9.7 16.0,12.0 C16.2,14.3 14.8,18.0 13.0,19.0 C11.2,20.0 6.5,20.2 5.0,18.0 C3.5,15.8 2.8,8.2 4.0,6.0 Z" fill="#fff" filter="url(#b1)" opacity="0.95"/><path d="M4.0,24.0 C5.3,22.2 10.2,21.8 12.0,23.0 C13.8,24.2 15.3,28.7 15.0,31.0 C14.7,33.3 11.8,36.5 10.0,37.0 C8.2,37.5 5.0,36.2 4.0,34.0 C3.0,31.8 2.7,25.8 4.0,24.0 Z" fill="#fff" filter="url(#b1)" opacity="0.95"/><path d="M18.9,0.4 C20,10 22,18 23,26 C24,34 25.5,40 26.2,45" stroke="#000" stroke-width="1.8" fill="none" filter="url(#b2)"/><path d="M23.0,0.0 C24.0,-4.7 29.8,-3.3 32.0,0.0 C34.2,3.3 35.0,12.5 36.0,20.0 C37.0,27.5 39.3,40.8 38.0,45.0 C36.7,49.2 30.0,47.8 28.0,45.0 C26.0,42.2 26.8,35.5 26.0,28.0 C25.2,20.5 22.0,4.7 23.0,0.0 Z" fill="#dadada" filter="url(#b1)" opacity="0.7"/></g></g><rect x="193.0" y="262.5" width="46.2" height="46.2" fill="none" stroke="#9a9a9a" stroke-width="1.1"/><rect x="240.8" y="263.0" width="45.2" height="45.2" fill="#fff"/><g clip-path="url(#ic51)"><g transform="translate(240.8,263.0)"><ellipse cx="20.9" cy="14" rx="2.4" ry="3.4" fill="#000" transform="rotate(-20 20.9 14)" filter="url(#b2)" opacity="1"/><ellipse cx="23" cy="32.3" rx="2.2" ry="4.2" fill="#000" transform="rotate(-15 23 32.3)" filter="url(#b2)" opacity="1"/></g></g><rect x="240.3" y="262.5" width="46.2" height="46.2" fill="none" stroke="#9a9a9a" stroke-width="1.1"/><rect x="193.5" y="314.0" width="45.2" height="45.2" fill="#fffcf4"/><g clip-path="url(#ic60)"><g transform="translate(193.5,314.0)"><g filter="url(#b3)" opacity="0.6"><circle cx="23.3" cy="36.3" r="1.3" fill="#f5dca8"/><circle cx="21.3" cy="31.9" r="1.0" fill="#e6b25a"/><circle cx="22.0" cy="41.8" r="0.6" fill="#d79a3c"/><circle cx="23.8" cy="40.1" r="0.6" fill="#e6b25a"/><circle cx="21.0" cy="39.4" r="1.2" fill="#d79a3c"/><circle cx="4.9" cy="40.7" r="1.4" fill="#d79a3c"/><circle cx="7.2" cy="42.4" r="1.0" fill="#d79a3c"/><circle cx="3.0" cy="34.0" r="1.1" fill="#e6b25a"/><circle cx="28.9" cy="35.7" r="0.8" fill="#f5dca8"/><circle cx="35.2" cy="44.5" r="0.6" fill="#8a6a3a"/><circle cx="26.9" cy="40.7" r="1.1" fill="#d79a3c"/><circle cx="31.6" cy="29.8" r="1.2" fill="#8a6a3a"/><circle cx="25.2" cy="37.8" r="0.6" fill="#8a6a3a"/><circle cx="43.3" cy="39.5" r="1.2" fill="#e6b25a"/><circle cx="22.8" cy="42.2" r="1.4" fill="#efc67c"/><circle cx="27.1" cy="33.5" r="0.7" fill="#f5dca8"/><circle cx="6.6" cy="28.6" r="0.8" fill="#8a6a3a"/><circle cx="23.3" cy="40.8" r="0.8" fill="#efc67c"/><circle cx="14.9" cy="39.9" r="0.7" fill="#8a6a3a"/><circle cx="17.1" cy="33.6" r="0.7" fill="#e6b25a"/><circle cx="3.6" cy="30.3" r="1.0" fill="#8a6a3a"/><circle cx="30.6" cy="43.5" r="0.8" fill="#d79a3c"/><circle cx="3.1" cy="29.9" r="0.6" fill="#d79a3c"/><circle cx="40.3" cy="39.4" r="0.9" fill="#d79a3c"/><circle cx="41.8" cy="39.3" r="0.9" fill="#d79a3c"/><circle cx="8.4" cy="42.9" r="0.8" fill="#efc67c"/><circle cx="17.3" cy="37.0" r="1.0" fill="#efc67c"/><circle cx="25.7" cy="37.0" r="1.1" fill="#f5dca8"/><circle cx="18.6" cy="33.7" r="0.7" fill="#d79a3c"/><circle cx="4.8" cy="40.6" r="1.2" fill="#8a6a3a"/><circle cx="15.3" cy="39.8" r="1.5" fill="#d79a3c"/><circle cx="21.8" cy="43.6" r="0.8" fill="#d79a3c"/><circle cx="21.3" cy="41.6" r="1.0" fill="#8a6a3a"/><circle cx="2.9" cy="27.4" r="1.1" fill="#8a6a3a"/><circle cx="29.3" cy="41.1" r="1.1" fill="#e6b25a"/><circle cx="15.2" cy="43.0" r="1.3" fill="#8a6a3a"/><circle cx="33.9" cy="37.1" r="1.4" fill="#f5dca8"/><circle cx="43.9" cy="41.1" r="0.9" fill="#e6b25a"/><circle cx="30.1" cy="37.9" r="1.5" fill="#8a6a3a"/><circle cx="43.8" cy="33.5" r="0.6" fill="#d79a3c"/><circle cx="28.9" cy="33.0" r="0.7" fill="#d79a3c"/><circle cx="28.4" cy="36.4" r="0.8" fill="#f5dca8"/><circle cx="26.7" cy="36.8" r="0.9" fill="#8a6a3a"/><circle cx="17.2" cy="33.3" r="1.2" fill="#f5dca8"/><circle cx="18.5" cy="28.6" r="0.7" fill="#e6b25a"/><circle cx="18.4" cy="33.9" r="0.9" fill="#8a6a3a"/><circle cx="43.4" cy="42.6" r="1.0" fill="#8a6a3a"/><circle cx="22.3" cy="34.4" r="0.8" fill="#d79a3c"/><circle cx="32.9" cy="43.9" r="0.8" fill="#d79a3c"/><circle cx="25.9" cy="37.1" r="1.2" fill="#efc67c"/></g><path d="M19.1,28.6 C18.2,27.4 18.1,22.9 18.5,20.0 C18.9,17.1 20.3,13.1 21.4,11.0 C22.5,8.9 23.7,8.4 25.0,7.5 C26.3,6.6 27.3,5.9 29.1,5.4 C30.9,4.9 33.5,4.9 36.0,4.5 C38.5,4.1 42.9,1.6 44.4,3.0 C45.9,4.4 46.1,11.2 45.0,13.0 C43.9,14.8 40.0,13.2 38.0,13.5 C36.0,13.8 34.6,14.3 32.9,14.8 C31.2,15.3 29.2,15.6 28.0,16.5 C26.8,17.4 26.2,18.2 25.5,20.0 C24.8,21.8 24.8,25.6 23.7,27.0 C22.6,28.4 20.0,29.8 19.1,28.6 Z" fill="#ec2a10" filter="url(#b1)" opacity="0.97"/><ellipse cx="26" cy="12" rx="1.2" ry="1.2" fill="#5a1010" transform="rotate(0 26 12)" filter="url(#b1)" opacity="0.6"/><ellipse cx="33" cy="9" rx="1.3" ry="1.3" fill="#5a1010" transform="rotate(0 33 9)" filter="url(#b1)" opacity="0.6"/><ellipse cx="40" cy="8" rx="1.2" ry="1.2" fill="#5a1010" transform="rotate(0 40 8)" filter="url(#b1)" opacity="0.6"/><ellipse cx="22" cy="20" rx="1.1" ry="1.1" fill="#5a1010" transform="rotate(0 22 20)" filter="url(#b1)" opacity="0.6"/><ellipse cx="5.4" cy="29.7" rx="4.6" ry="2.8" fill="#2ac01a" transform="rotate(0 5.4 29.7)" filter="url(#b1)" opacity="1"/><ellipse cx="5.4" cy="29.9" rx="3" ry="1.8" fill="#041a04" transform="rotate(0 5.4 29.9)" filter="url(#b1)" opacity="0.9"/><ellipse cx="15.7" cy="37.8" rx="4.2" ry="4.2" fill="#3ad81e" transform="rotate(0 15.7 37.8)" filter="url(#b1)" opacity="1"/><ellipse cx="15.7" cy="37.8" rx="2" ry="2" fill="#2a9a1a" transform="rotate(0 15.7 37.8)" filter="url(#b1)" opacity="0.6"/><ellipse cx="40.6" cy="38.6" rx="3.2" ry="4.6" fill="#2a9a1a" transform="rotate(0 40.6 38.6)" filter="url(#b1)" opacity="1"/><ellipse cx="40.6" cy="38.8" rx="2.2" ry="3.4" fill="#031003" transform="rotate(0 40.6 38.8)" filter="url(#b1)" opacity="0.95"/><path d="M6.5,18.5 L6.5,24 M3.8,21.5 L6.5,26.5 L9.2,21.5 Z" stroke="#000" stroke-width="1.4" fill="#000"/><path d="M31,29 L35.5,33.5 M32.5,34.5 L37,35.2 L36.2,30.6 Z" stroke="#000" stroke-width="1.3" fill="#000"/><rect x="38.5" y="0.8" width="6" height="1" fill="#777"/></g></g><rect x="193.0" y="313.5" width="46.2" height="46.2" fill="none" stroke="#9a9a9a" stroke-width="1.1"/><rect x="240.8" y="314.0" width="45.2" height="45.2" fill="#fff"/><g clip-path="url(#ic61)"><g transform="translate(240.8,314.0)"><path d="M20.8,13.3 C21.3,11.0 21.5,9.9 23.1,8.7 C24.8,7.5 28.2,6.8 30.7,6.2 C33.2,5.6 35.6,5.4 38.0,5.2 C40.4,5.0 43.7,3.4 44.8,5.0 C45.9,6.6 46.1,12.9 44.8,14.8 C43.5,16.7 39.1,15.5 36.8,16.3 C34.4,17.1 32.5,18.1 30.7,19.4 C28.9,20.7 27.6,22.6 26.1,24.0 C24.6,25.4 22.5,28.1 21.5,27.8 C20.5,27.6 20.1,24.9 20.0,22.5 C19.9,20.1 20.3,15.6 20.8,13.3 Z" fill="#000" filter="url(#b2)" opacity="1"/><ellipse cx="5.4" cy="30" rx="3.2" ry="1.5" fill="#777" transform="rotate(10 5.4 30)" filter="url(#b2)" opacity="1"/><ellipse cx="40.7" cy="38.6" rx="1.8" ry="2.2" fill="#000" transform="rotate(0 40.7 38.6)" filter="url(#b2)" opacity="1"/></g></g><rect x="240.3" y="313.5" width="46.2" height="46.2" fill="none" stroke="#9a9a9a" stroke-width="1.1"/><rect x="193.5" y="361.3" width="45.2" height="45.2" fill="#fff"/><g clip-path="url(#ic70)"><g transform="translate(193.5,361.3)"><path d="M0,28.5 C6,29 12,31 20.2,30.4 C23,28 24,23 25.9,19 C28,15 31,12 33.5,11.3 C38,9.5 42,8 45,7.5" stroke="#222" stroke-width="1.1" fill="none" filter="url(#b2)"/><path d="M24,21 C27,14 33,8 45,4" stroke="#999" stroke-width="3" fill="none" filter="url(#b1)"/><path d="M0,36 C8,34 14,38 22,36 C28,35 34,38 45,34" stroke="#333" stroke-width="0.9" fill="none" filter="url(#b2)"/><path d="M2,42 C10,40 18,44 26,41 C32,39 38,42 45,40" stroke="#555" stroke-width="0.8" fill="none" filter="url(#b2)"/><g filter="url(#b3)" opacity="0.75"><circle cx="40.4" cy="36.7" r="0.7" fill="#999"/><circle cx="0.4" cy="44.6" r="1.0" fill="#333"/><circle cx="41.2" cy="43.0" r="0.8" fill="#111"/><circle cx="20.0" cy="39.2" r="1.3" fill="#111"/><circle cx="44.6" cy="35.5" r="0.5" fill="#111"/><circle cx="36.9" cy="33.4" r="1.2" fill="#999"/><circle cx="7.0" cy="37.8" r="0.7" fill="#666"/><circle cx="10.3" cy="38.7" r="1.3" fill="#333"/><circle cx="19.5" cy="36.6" r="0.9" fill="#333"/><circle cx="31.2" cy="40.3" r="0.5" fill="#666"/><circle cx="40.2" cy="25.6" r="1.3" fill="#333"/><circle cx="3.1" cy="40.1" r="0.8" fill="#333"/><circle cx="14.9" cy="34.4" r="1.2" fill="#666"/><circle cx="4.4" cy="36.5" r="0.9" fill="#333"/><circle cx="28.2" cy="41.0" r="1.1" fill="#333"/><circle cx="14.8" cy="44.6" r="0.6" fill="#333"/><circle cx="16.4" cy="34.9" r="0.7" fill="#111"/><circle cx="19.1" cy="31.5" r="1.0" fill="#999"/><circle cx="12.8" cy="33.8" r="0.5" fill="#333"/><circle cx="7.8" cy="40.8" r="1.1" fill="#333"/><circle cx="38.9" cy="36.2" r="1.2" fill="#999"/><circle cx="17.8" cy="39.9" r="0.5" fill="#333"/><circle cx="36.3" cy="42.3" r="0.8" fill="#333"/><circle cx="37.9" cy="29.1" r="0.9" fill="#999"/><circle cx="41.2" cy="26.5" r="0.5" fill="#111"/><circle cx="33.1" cy="39.2" r="1.1" fill="#666"/><circle cx="30.9" cy="32.6" r="0.5" fill="#111"/><circle cx="28.4" cy="37.8" r="1.0" fill="#333"/><circle cx="21.2" cy="41.0" r="1.2" fill="#111"/><circle cx="19.5" cy="43.2" r="0.6" fill="#111"/><circle cx="32.3" cy="37.5" r="1.1" fill="#666"/><circle cx="29.3" cy="27.6" r="1.1" fill="#111"/><circle cx="33.9" cy="38.0" r="0.7" fill="#333"/><circle cx="25.4" cy="41.5" r="0.6" fill="#666"/><circle cx="15.0" cy="35.2" r="0.9" fill="#999"/><circle cx="26.7" cy="33.7" r="1.2" fill="#666"/><circle cx="30.5" cy="26.3" r="1.2" fill="#999"/><circle cx="32.0" cy="31.4" r="0.6" fill="#333"/><circle cx="14.2" cy="33.0" r="1.2" fill="#999"/><circle cx="41.6" cy="43.8" r="0.8" fill="#111"/><circle cx="35.4" cy="30.8" r="1.1" fill="#333"/><circle cx="8.3" cy="33.4" r="0.6" fill="#333"/><circle cx="6.3" cy="38.1" r="0.5" fill="#111"/><circle cx="7.4" cy="34.9" r="0.9" fill="#111"/><circle cx="19.2" cy="44.3" r="1.2" fill="#999"/><circle cx="11.0" cy="36.4" r="1.1" fill="#333"/><circle cx="36.9" cy="36.6" r="0.9" fill="#333"/><circle cx="27.4" cy="43.1" r="1.2" fill="#111"/><circle cx="5.2" cy="42.1" r="1.2" fill="#999"/><circle cx="12.9" cy="30.1" r="0.7" fill="#666"/><circle cx="35.0" cy="34.1" r="1.2" fill="#999"/><circle cx="36.1" cy="39.1" r="0.9" fill="#111"/><circle cx="43.9" cy="26.5" r="1.1" fill="#333"/><circle cx="23.2" cy="38.6" r="1.1" fill="#999"/><circle cx="17.6" cy="40.0" r="1.3" fill="#666"/><circle cx="1.8" cy="31.5" r="0.8" fill="#333"/><circle cx="39.1" cy="33.2" r="1.3" fill="#999"/><circle cx="28.8" cy="38.3" r="0.7" fill="#111"/><circle cx="6.2" cy="37.6" r="0.8" fill="#111"/><circle cx="44.7" cy="37.4" r="1.1" fill="#333"/><circle cx="34.4" cy="27.5" r="1.0" fill="#999"/><circle cx="42.6" cy="24.6" r="0.9" fill="#999"/><circle cx="5.6" cy="30.2" r="0.9" fill="#333"/><circle cx="34.3" cy="41.1" r="0.9" fill="#666"/><circle cx="41.4" cy="32.3" r="0.5" fill="#999"/><circle cx="21.5" cy="32.0" r="0.9" fill="#111"/><circle cx="44.7" cy="35.2" r="0.5" fill="#111"/><circle cx="41.6" cy="41.1" r="0.5" fill="#333"/><circle cx="34.7" cy="36.4" r="0.8" fill="#999"/><circle cx="22.9" cy="40.9" r="1.2" fill="#999"/><circle cx="36.3" cy="32.4" r="0.5" fill="#666"/><circle cx="20.3" cy="40.1" r="1.0" fill="#999"/><circle cx="39.2" cy="33.2" r="1.2" fill="#666"/><circle cx="10.0" cy="39.9" r="1.1" fill="#666"/><circle cx="34.2" cy="42.4" r="1.2" fill="#111"/><circle cx="33.6" cy="37.4" r="1.0" fill="#666"/><circle cx="18.8" cy="37.7" r="0.6" fill="#333"/><circle cx="38.8" cy="25.4" r="0.9" fill="#111"/><circle cx="6.3" cy="35.1" r="0.8" fill="#333"/><circle cx="36.5" cy="36.5" r="0.7" fill="#999"/></g></g></g><rect x="193.0" y="360.8" width="46.2" height="46.2" fill="none" stroke="#9a9a9a" stroke-width="1.1"/><rect x="240.8" y="361.3" width="45.2" height="45.2" fill="#fff"/><g clip-path="url(#ic71)"><g transform="translate(240.8,361.3)"><ellipse cx="5.4" cy="30.5" rx="3.6" ry="1.7" fill="#000" transform="rotate(10 5.4 30.5)" filter="url(#b2)" opacity="1"/><ellipse cx="16.3" cy="37.6" rx="3.1" ry="3.1" fill="#000" transform="rotate(0 16.3 37.6)" filter="url(#b2)" opacity="1"/><ellipse cx="41.6" cy="38.5" rx="2.6" ry="3.2" fill="#000" transform="rotate(0 41.6 38.5)" filter="url(#b2)" opacity="1"/></g></g><rect x="240.3" y="360.8" width="46.2" height="46.2" fill="none" stroke="#9a9a9a" stroke-width="1.1"/><text x="195.0" y="30.8" font-size="11.5" fill="#111" text-anchor="start" >1</text><text x="195.0" y="128.6" font-size="11.5" fill="#111" text-anchor="start" >2</text><text x="195.0" y="226.10000000000002" font-size="11.5" fill="#111" text-anchor="start" >3</text><text x="195.0" y="324.3" font-size="11.5" fill="#111" text-anchor="start" >4</text><text x="243.0" y="29.3" font-size="10" fill="#ee2a2a" text-anchor="start" >Ai14</text><text x="243.0" y="127.1" font-size="10" fill="#ee2a2a" text-anchor="start" >Ai14</text><text x="243.0" y="224.60000000000002" font-size="10" fill="#ee2a2a" text-anchor="start" >Ai14</text><text x="243.0" y="322.8" font-size="10" fill="#ee2a2a" text-anchor="start" >Ai14</text><text x="194.8" y="109.89999999999999" font-size="10" fill="#ecd98a" text-anchor="start" >Pdpn</text><text x="284.8" y="109.89999999999999" font-size="10" fill="#3ee02c" text-anchor="end" >GFP</text><text x="195.7" y="174.5" font-size="10" fill="#ecd98a" text-anchor="start" >Pdpn</text><text x="242.8" y="174.5" font-size="10" fill="#3ee02c" text-anchor="start" >GFP</text><text x="194.8" y="305.3" font-size="10" fill="#ecd98a" text-anchor="start" >Pdpn</text><text x="284.8" y="306.0" font-size="10" fill="#3ee02c" text-anchor="end" >GFP</text><text x="194.8" y="370.1" font-size="10" fill="#ecd98a" text-anchor="start" >Pdpn</text><text x="284.8" y="370.1" font-size="10" fill="#3ee02c" text-anchor="end" >GFP</text><rect x="286.3" y="20.5" width="1.6" height="386.5" fill="#d6d6d6"/><path d="M288.4,406.5 L288.4,20.3 L303.7,20.3 L288.7,406.5" fill="none" stroke="#333" stroke-width="0.9"/><text x="0" y="0" font-size="10.5" fill="#111" text-anchor="start" transform="translate(299.3,62.5) rotate(-90)">proximal</text><text x="0" y="0" font-size="10.5" fill="#111" text-anchor="start" transform="translate(299.0,406.5) rotate(-90)">distal</text><text x="327.0" y="11.0" font-size="14" fill="#111" text-anchor="start" >B</text><text x="432.1" y="10.7" font-size="12.3" fill="#222" text-anchor="start" >Experimental approach</text><text x="363.6" y="31.4" font-size="9.6" fill="#222" text-anchor="middle" >Double reporter</text><path d="M359.2,47.2 C360.5,44.5 362.5,43.8 365.5,44 C368.5,44.2 370.5,43.5 372.5,42 C373.8,41 374.6,39.8 375.4,38.2" fill="none" stroke="#8a2a35" stroke-width="1.25"/><path d="M359.8,46.6 C366.5,46.6 371.8,53 371.8,61 C371.8,66 370,69 368,70 L352,70 C350,69 348,66 348,61 C348,53 353.2,46.6 359.8,46.6 Z" fill="#777" stroke="#555" stroke-width="0.5"/><circle cx="353.2" cy="70.6" r="5.3" fill="#777" stroke="#555" stroke-width="0.5"/><circle cx="366.4" cy="70.6" r="5.3" fill="#777" stroke="#555" stroke-width="0.5"/><circle cx="353.6" cy="70.9" r="3.9" fill="#b05564"/><circle cx="366" cy="70.9" r="3.9" fill="#b05564"/><path d="M352.3,72.8 C353,67.5 366.6,67.5 367.3,72.8 C368,77.5 364.5,84.5 359.8,86.3 C355.1,84.5 351.6,77.5 352.3,72.8 Z" fill="#777" stroke="#555" stroke-width="0.5"/><circle cx="356.5" cy="79.6" r="1.2" fill="#111"/><circle cx="363" cy="79.6" r="1.2" fill="#111"/><ellipse cx="359.7" cy="84.2" rx="1.4" ry="1" fill="#111"/><path d="M357,82.5 L349.5,82 M357,83.5 L349,85 M357.5,84.5 L351,88 M362.5,82.5 L370,82 M362.5,83.5 L370.5,85 M362,84.5 L368.5,88" stroke="#444" stroke-width="0.45"/><rect x="401" y="61.8" width="61.2" height="2.7" fill="#000"/><rect x="415.6" y="64.4" width="0.9" height="5" fill="#111"/><rect x="447.2" y="64.4" width="0.9" height="5" fill="#111"/><text x="415.8" y="58.5" font-size="9.6" fill="#222" text-anchor="middle" >P60</text><text x="447" y="58.5" font-size="9.6" fill="#222" text-anchor="middle" >P63</text><g transform="translate(415.6,70.0) rotate(-44)"><text x="0" y="6.912" font-size="9.6" fill="#222" text-anchor="end" >Tamoxifen</text><text x="0" y="17.312" font-size="9.6" fill="#222" text-anchor="end" >administration</text></g><g transform="translate(446.8,70.6) rotate(-44)"><text x="0" y="6.912" font-size="9.6" fill="#222" text-anchor="end" >tissue</text><text x="0" y="17.312" font-size="9.6" fill="#222" text-anchor="end" >collection</text></g><text x="492.6" y="23.6" font-size="9.6" fill="#222" text-anchor="middle" >lung-lobe</text><text x="492.6" y="32.9" font-size="9.6" fill="#222" text-anchor="middle" >isolation</text><defs><clipPath id="lclip"><path d="M489.5,43 C482,42.5 475,49 471.5,58 C468,67 466.3,78 466.5,86 C466.6,88.3 468,89.2 470.5,89.1 C478,88.8 485,88.3 489.5,87.5 L491,87 L491,44 Z M498.3,43 C505.5,42.5 512.5,49 516,58 C519.5,67 521.6,78 521.4,86 C521.3,88.3 519.8,89.2 517.3,89.1 C510,88.8 503,88.3 498.5,87.5 L497,87 L497,44 Z"/></clipPath></defs><g fill="none" stroke="#333" stroke-width="0.55"><path d="M492.2,62 L492.2,36 L495.6,36 L495.6,62"/><path d="M489.5,43 C482,42.5 475,49 471.5,58 C468,67 466.3,78 466.5,86 C466.6,88.3 468,89.2 470.5,89.1 C478,88.8 485,88.3 489.5,87.5 C490.5,87.3 490.8,86.5 490.8,85 L490.8,45 C490.8,44 490.3,43 489.5,43 Z"/><path d="M498.3,43 C505.5,42.5 512.5,49 516,58 C519.5,67 521.6,78 521.4,86 C521.3,88.3 519.8,89.2 517.3,89.1 C510,88.8 503,88.3 498.5,87.5 C497.5,87.3 497.2,86.5 497.2,85 L497.2,45 C497.2,44 497.6,43 498.3,43 Z"/><path d="M492.2,62 C488,64 484,66 480,72 M495.6,62 C500,64 504,66 508,72" /><path d="M491,44 L490,76 M497,44 L498,76" stroke-dasharray="1.2,1"/><path d="M492.2,62 L488,64.5 L484,68 M495.6,62 L500,64.5 L504,68 M486.0,64.0 L483.5,58.5 M483.5,58.5 L480.4,55.9 M480.4,55.9 L477.7,55.2 M477.7,55.2 L475.8,55.3 M477.7,55.2 L476.6,53.6 M480.4,55.9 L479.8,53.2 M479.8,53.2 L478.7,51.7 M479.8,53.2 L480.3,51.4 M483.5,58.5 L483.9,54.5 M483.9,54.5 L482.4,52.2 M482.4,52.2 L480.6,51.5 M482.4,52.2 L482.4,50.3 M483.9,54.5 L485.1,52.0 M485.1,52.0 L485.1,50.1 M485.1,52.0 L486.8,51.1 M485.0,66.0 L479.9,62.9 M479.9,62.9 L475.9,62.0 M475.9,62.0 L473.1,62.3 M473.1,62.3 L471.7,63.5 M473.1,62.3 L471.4,61.5 M475.9,62.0 L474.0,59.9 M474.0,59.9 L472.3,59.0 M474.0,59.9 L473.4,58.2 M479.9,62.9 L477.2,59.8 M477.2,59.8 L474.6,59.0 M474.6,59.0 L472.7,59.3 M474.6,59.0 L473.1,57.8 M477.2,59.8 L476.6,57.1 M476.6,57.1 L475.3,55.7 M476.6,57.1 L476.9,55.2 M484.0,68.0 L478.2,69.4 M478.2,69.4 L474.9,71.9 M474.9,71.9 L473.4,74.2 M473.4,74.2 L473.7,76.1 M473.4,74.2 L471.7,75.1 M474.9,71.9 L472.2,72.6 M472.2,72.6 L470.7,73.7 M472.2,72.6 L470.5,71.9 M478.2,69.4 L474.2,68.6 M474.2,68.6 L471.5,69.4 M471.5,69.4 L470.0,70.6 M471.5,69.4 L469.7,68.8 M474.2,68.6 L472.4,66.5 M472.4,66.5 L470.6,66.1 M472.4,66.5 L472.4,64.6 M484.0,68.0 L480.0,72.5 M480.0,72.5 L479.0,76.4 M479.0,76.4 L479.9,79.1 M479.9,79.1 L481.4,80.2 M479.9,79.1 L479.8,80.9 M479.0,76.4 L477.4,78.7 M477.4,78.7 L477.5,80.6 M477.4,78.7 L475.8,79.6 M480.0,72.5 L476.0,73.3 M476.0,73.3 L473.9,75.2 M473.9,75.2 L473.4,77.0 M473.9,75.2 L472.2,75.9 M476.0,73.3 L473.3,72.9 M473.3,72.9 L471.4,73.4 M473.3,72.9 L471.9,71.6 M485.0,72.0 L483.1,77.7 M483.1,77.7 L484.3,81.6 M484.3,81.6 L486.0,83.7 M486.0,83.7 L487.8,84.3 M486.0,83.7 L486.1,85.6 M484.3,81.6 L483.8,84.3 M483.8,84.3 L484.2,86.1 M483.8,84.3 L482.7,85.8 M483.1,77.7 L479.6,79.8 M479.6,79.8 L477.8,81.9 M477.8,81.9 L477.3,83.7 M477.8,81.9 L476.1,82.9 M479.6,79.8 L476.8,79.5 M476.8,79.5 L475.1,80.3 M476.8,79.5 L475.3,78.3 M486.0,76.0 L485.4,81.0 M485.4,81.0 L486.8,84.1 M486.8,84.1 L488.5,85.6 M488.5,85.6 L490.0,85.8 M488.5,85.6 L488.9,87.1 M486.8,84.1 L486.4,86.3 M486.4,86.3 L487.0,87.8 M486.4,86.3 L485.6,87.7 M485.4,81.0 L483.0,83.4 M483.0,83.4 L482.3,85.6 M482.3,85.6 L482.4,87.2 M482.3,85.6 L481.1,86.6 M483.0,83.4 L480.7,83.8 M480.7,83.8 L479.4,84.6 M480.7,83.8 L479.4,83.1 M483.0,80.0 L479.7,83.0 M479.7,83.0 L479.1,86.0 M479.1,86.0 L479.4,88.1 M479.1,86.0 L477.6,87.5 M479.7,83.0 L476.8,84.2 M476.8,84.2 L475.3,85.6 M476.8,84.2 L474.8,84.0 M487.0,81.0 L486.9,85.0 M486.9,85.0 L488.0,87.5 M488.0,87.5 L489.3,88.7 M488.0,87.5 L487.9,89.3 M486.9,85.0 L485.3,87.2 M485.3,87.2 L485.1,89.1 M485.3,87.2 L483.8,88.2 M502.0,64.0 L504.7,58.7 M504.7,58.7 L504.3,54.6 M504.3,54.6 L502.5,52.5 M502.5,52.5 L500.6,52.1 M502.5,52.5 L501.9,50.7 M504.3,54.6 L505.1,51.9 M505.1,51.9 L505.0,50.1 M505.1,51.9 L506.3,50.5 M504.7,58.7 L508.4,56.8 M508.4,56.8 L509.8,54.5 M509.8,54.5 L509.6,52.6 M509.8,54.5 L511.5,53.5 M508.4,56.8 L511.1,57.4 M511.1,57.4 L512.9,57.1 M511.1,57.4 L512.4,58.7 M503.0,66.0 L508.3,63.1 M508.3,63.1 L510.6,59.8 M510.6,59.8 L511.0,57.0 M511.0,57.0 L510.6,55.2 M511.0,57.0 L512.0,55.4 M510.6,59.8 L512.9,58.2 M512.9,58.2 L513.7,56.5 M512.9,58.2 L514.7,58.0 M508.3,63.1 L512.3,63.0 M512.3,63.0 L514.6,61.4 M514.6,61.4 L515.2,59.6 M514.6,61.4 L516.5,61.5 M512.3,63.0 L514.9,64.0 M514.9,64.0 L516.8,64.2 M514.9,64.0 L516.2,65.4 M504.0,68.0 L509.8,69.5 M509.8,69.5 L513.7,68.1 M513.7,68.1 L515.5,66.1 M515.5,66.1 L515.6,64.2 M515.5,66.1 L517.2,65.3 M513.7,68.1 L516.4,68.1 M516.4,68.1 L518.1,67.1 M516.4,68.1 L518.0,69.1 M509.8,69.5 L513.2,71.8 M513.2,71.8 L515.8,72.7 M515.8,72.7 L517.6,72.2 M515.8,72.7 L517.0,74.1 M513.2,71.8 L514.7,74.1 M514.7,74.1 L516.3,75.1 M514.7,74.1 L515.1,76.0 M504.0,68.0 L508.0,72.5 M508.0,72.5 L511.8,73.9 M511.8,73.9 L514.5,73.2 M514.5,73.2 L516.1,72.1 M514.5,73.2 L516.4,73.6 M511.8,73.9 L513.3,76.2 M513.3,76.2 L515.0,77.1 M513.3,76.2 L513.5,78.0 M508.0,72.5 L508.6,76.5 M508.6,76.5 L510.4,78.7 M510.4,78.7 L512.0,79.7 M510.4,78.7 L510.4,80.6 M508.6,76.5 L507.4,79.0 M507.4,79.0 L507.8,80.9 M507.4,79.0 L505.9,80.1 M503.0,72.0 L504.9,77.7 M504.9,77.7 L507.4,80.9 M507.4,80.9 L510.1,81.7 M510.1,81.7 L511.9,81.2 M510.1,81.7 L511.5,82.9 M507.4,80.9 L507.5,83.7 M507.5,83.7 L508.7,85.1 M507.5,83.7 L506.4,85.3 M504.9,77.7 L503.8,81.6 M503.8,81.6 L503.9,84.4 M503.9,84.4 L504.6,86.2 M503.9,84.4 L502.9,86.0 M503.8,81.6 L501.6,83.2 M501.6,83.2 L500.6,84.9 M501.6,83.2 L499.7,83.2 M502.0,76.0 L502.6,81.0 M502.6,81.0 L504.7,83.7 M504.7,83.7 L506.9,84.3 M506.9,84.3 L508.4,84.0 M506.9,84.3 L508.1,85.3 M504.7,83.7 L505.0,86.0 M505.0,86.0 L505.8,87.3 M505.0,86.0 L504.4,87.4 M502.6,81.0 L501.4,84.1 M501.4,84.1 L501.2,86.4 M501.2,86.4 L502.0,87.8 M501.2,86.4 L500.6,87.9 M501.4,84.1 L499.4,85.3 M499.4,85.3 L498.5,86.6 M499.4,85.3 L497.8,85.3 M505.0,80.0 L508.3,83.1 M508.3,83.1 L511.3,83.8 M511.3,83.8 L513.2,83.1 M511.3,83.8 L512.6,85.4 M508.3,83.1 L509.1,86.0 M509.1,86.0 L510.7,87.3 M509.1,86.0 L508.9,88.1 M501.0,81.0 L501.1,85.0 M501.1,85.0 L502.1,87.5 M502.1,87.5 L503.5,88.7 M502.1,87.5 L502.2,89.4 M501.1,85.0 L500.2,87.6 M500.2,87.6 L500.1,89.4 M500.2,87.6 L499.0,89.0" stroke-width="0.5" clip-path="url(#lclip)"/></g><text x="549.3" y="48.7" font-size="9.6" fill="#222" text-anchor="middle" >enzymatic</text><text x="549" y="58.8" font-size="9.6" fill="#222" text-anchor="middle" >dissociation</text><rect x="527.7" y="63" width="38" height="2.8" fill="#000"/><path d="M564.5,60.8 L572.8,64.4 L564.5,68 Z" fill="#000"/><text x="549.3" y="77.1" font-size="9.6" fill="#222" text-anchor="middle" >anti-Pdpn</text><text x="549.5" y="86.8" font-size="9.6" fill="#222" text-anchor="middle" >staining</text><text x="565.3" y="31.9" font-size="9.6" fill="#222" text-anchor="start" >FACs-Sorting &amp; scRNA-Seq</text><path d="M582.6,40.3 C587,40.6 590,46 590,52 C590,59 587,63.2 582.8,63.2 C578.6,63.2 575.9,59 575.9,52 C575.9,46 578.3,40 582.6,40.3 Z" fill="#4a86e8"/><ellipse cx="583.2" cy="56.6" rx="3.6" ry="2.4" fill="#8a8a8a"/><path d="M583,67.5 C587.5,67.7 590.4,72 590.4,79 C590.4,86 587.5,90.9 583.1,90.9 C578.6,90.9 575.9,86 575.9,79 C575.9,72 578.5,67.3 583,67.5 Z" fill="#ef9cef"/><ellipse cx="583.3" cy="84.6" rx="3.6" ry="2.4" fill="#8a8a8a"/><ellipse cx="636.6" cy="51.8" rx="8.2" ry="6.8" fill="#4a1570"/><ellipse cx="636.8" cy="51.8" rx="3.6" ry="2.4" fill="#8a8a8a"/><ellipse cx="636.6" cy="79.2" rx="8.2" ry="7.6" fill="#a3431b"/><ellipse cx="636.6" cy="79.3" rx="3.6" ry="2.4" fill="#6e6e6e"/><text x="591.8" y="49.5" font-size="9.8" fill="#222">RFP<tspan font-size="6.4" dy="-3.4">pos</tspan></text><text x="591.8" y="58.8" font-size="9.8" fill="#222">Pdpn<tspan font-size="6.4" dy="-3.4">pos</tspan></text><text x="591.8" y="76.9" font-size="9.8" fill="#222">RFP<tspan font-size="6.4" dy="-3.4">pos</tspan></text><text x="591.8" y="85.6" font-size="9.8" fill="#222">Pdpn<tspan font-size="6.4" dy="-3.4">neg</tspan></text><text x="646.2" y="54.4" font-size="9.8" fill="#222">GFP<tspan font-size="6.4" dy="-3.4">pos</tspan></text><text x="646.2" y="77.0" font-size="9.8" fill="#222">RFP<tspan font-size="6.4" dy="-3.4">pos</tspan></text><text x="646.2" y="86.3" font-size="9.8" fill="#222">GFP<tspan font-size="6.4" dy="-3.4">pos</tspan></text><rect x="328.6" y="141.3" width="351" height="261.9" fill="none" stroke="#c8c8c8" stroke-width="0.9"/><text x="330.3" y="154.7" font-size="14.5" fill="#111" text-anchor="start" >C</text><defs><filter id="sb" x="-10%" y="-10%" width="120%" height="120%"><feGaussianBlur stdDeviation="0.45"/></filter></defs><path d="M354.9,153.1 C356.0,151.9 357.9,150.3 359.6,149.8 C361.3,149.2 363.5,149.4 365.0,149.8 C366.6,150.1 367.9,151.0 369.1,151.8 C370.4,152.6 371.8,153.5 372.5,154.4 C373.2,155.3 373.8,156.0 373.2,157.1 C372.6,158.3 370.3,159.6 369.1,161.2 C368.0,162.8 367.3,165.1 366.4,166.7 C365.5,168.3 364.6,169.2 363.7,170.7 C362.8,172.3 361.9,174.3 361.0,176.1 C360.1,177.9 359.1,180.2 358.2,181.5 C357.3,182.9 356.3,184.7 355.6,184.3 C354.9,183.8 354.7,181.1 354.2,178.8 C353.8,176.6 353.2,173.2 352.9,170.7 C352.5,168.3 352.2,166.2 352.2,163.9 C352.2,161.7 352.4,158.9 352.9,157.1 C353.3,155.3 353.8,154.4 354.9,153.1 Z" fill="#ee2b2b" filter="url(#sb)"/><path d="M365.6 148.5h0M356.6 157.6h0M359.5 161.5h0M371.9 153.7h0M362.6 149.4h0M357.4 155.4h0M356.7 156.0h0M362.2 155.1h0M364.0 158.7h0M355.8 168.6h0M353.7 171.0h0M351.9 160.9h0M351.2 160.1h0M362.7 147.3h0M362.9 147.9h0M367.2 150.9h0M363.0 156.0h0M361.8 159.5h0M355.8 149.8h0M355.1 184.5h0M367.8 163.4h0M355.9 154.5h0M359.3 175.7h0M370.3 156.2h0M353.7 186.2h0M357.6 184.0h0M362.5 150.4h0M365.8 148.6h0M367.5 157.0h0M363.6 151.8h0M363.4 173.6h0M372.4 152.0h0M359.6 154.4h0M352.9 160.7h0M361.2 160.8h0M358.6 150.1h0M354.1 180.1h0M359.1 169.9h0M365.4 151.5h0M364.0 157.7h0M354.8 179.8h0M361.5 171.5h0M357.0 167.8h0M361.2 146.5h0M356.4 152.3h0M358.6 179.5h0M366.5 167.1h0M353.3 153.9h0M364.5 156.4h0M355.0 183.6h0M354.9 162.3h0M365.1 168.5h0M367.0 156.1h0M359.3 167.5h0M355.5 182.6h0M352.2 159.6h0M373.8 158.6h0M363.7 168.2h0M359.8 151.5h0M368.3 149.3h0M360.8 170.4h0M353.1 168.7h0M366.9 164.1h0M371.9 151.7h0M359.3 153.4h0M366.0 164.2h0M358.3 172.8h0M373.7 156.0h0M355.1 180.0h0M368.5 155.7h0M360.2 167.6h0M351.7 164.1h0M370.0 148.5h0M362.3 156.6h0M355.9 169.4h0M353.9 163.2h0M358.7 166.9h0M355.5 159.2h0M358.1 175.2h0M373.4 154.4h0M357.4 168.2h0M363.2 159.6h0M368.4 161.5h0M351.8 162.3h0M362.5 161.6h0M363.5 151.6h0M357.1 171.9h0M371.0 150.3h0M359.6 180.8h0M360.0 154.0h0M355.7 186.6h0M351.2 155.8h0M354.4 182.2h0M353.1 168.2h0M365.7 154.5h0M362.8 168.2h0M364.8 158.0h0M366.1 152.6h0M357.5 152.4h0M366.9 153.7h0M367.4 147.5h0M354.4 158.6h0M361.0 155.6h0M353.4 156.4h0M371.0 159.5h0M363.9 166.3h0M351.9 157.4h0M351.8 159.4h0M358.1 183.4h0M357.4 163.1h0M355.1 169.1h0M365.0 150.1h0M354.2 152.5h0M359.8 159.6h0M364.6 147.1h0M370.9 154.2h0M368.1 155.4h0M366.1 150.9h0M354.6 166.3h0M351.4 158.5h0M370.8 152.0h0M351.5 169.1h0M360.0 153.0h0M359.2 170.2h0M353.0 173.3h0M365.9 164.5h0M358.3 163.0h0M371.1 151.9h0M353.7 169.9h0M355.7 157.0h0M365.3 164.4h0M352.6 164.0h0M365.8 155.7h0M359.6 168.5h0M354.6 160.3h0M366.9 160.0h0M356.1 175.6h0M365.5 163.8h0M361.5 166.8h0M371.6 154.0h0M361.2 161.9h0M359.7 160.2h0M364.8 170.9h0M355.7 179.6h0M356.8 185.2h0M358.5 160.1h0M361.6 169.8h0M369.6 163.4h0M356.7 151.9h0M353.5 159.5h0M353.2 178.7h0M353.1 159.4h0M357.3 151.9h0M358.4 177.5h0M364.8 153.6h0M355.4 167.9h0M362.0 160.1h0M359.1 176.8h0M360.8 152.1h0M362.9 170.0h0M354.9 178.8h0M356.1 182.5h0M362.9 148.7h0M373.4 154.7h0M353.7 158.4h0M355.7 160.2h0M373.8 154.5h0M361.6 170.0h0M365.7 168.0h0M355.7 178.4h0M370.6 159.9h0M368.0 150.7h0M360.7 166.1h0M361.1 173.4h0M364.1 161.3h0M359.7 170.9h0M363.3 170.4h0M359.8 161.2h0M353.9 175.2h0M354.8 166.5h0M370.6 157.7h0M372.8 152.8h0M352.5 180.9h0M353.4 159.0h0M353.7 171.2h0M355.9 168.6h0M365.0 149.5h0M368.4 150.6h0M356.5 186.6h0M356.8 159.1h0M369.5 152.4h0M362.6 165.6h0M359.0 168.4h0M357.5 156.3h0M368.6 163.3h0M360.2 173.8h0M372.7 153.4h0M358.2 167.3h0M355.7 150.8h0M353.0 167.4h0M363.3 163.0h0M353.3 159.0h0M355.6 170.3h0M355.5 151.0h0M368.2 155.6h0M358.5 149.9h0M357.4 158.1h0M360.1 158.0h0M356.0 185.8h0M354.0 178.0h0M355.2 181.4h0M362.9 160.5h0M358.5 152.8h0M365.0 162.1h0M355.5 171.2h0M361.1 169.5h0M369.8 158.5h0M367.3 162.7h0M368.6 151.7h0M357.8 155.5h0M354.9 172.9h0M358.3 149.3h0M353.6 169.0h0M362.8 147.7h0M352.8 167.6h0M358.9 148.8h0M370.4 157.2h0M367.6 152.2h0M362.0 149.6h0M367.5 154.2h0M358.9 168.8h0M356.6 184.3h0M370.4 162.0h0M360.6 153.8h0M363.4 168.7h0M364.9 163.3h0M352.3 165.8h0M361.9 162.9h0M366.7 162.2h0M363.9 168.0h0M352.9 156.6h0M365.3 156.0h0M356.8 155.0h0M355.1 165.1h0M355.3 181.4h0M369.6 162.1h0M361.4 170.8h0M365.3 165.4h0M367.3 153.3h0M361.5 160.0h0M362.7 157.9h0M359.8 166.9h0M360.3 155.8h0M351.8 160.6h0M361.3 174.3h0M365.0 171.0h0M368.6 164.0h0M365.9 156.2h0M360.8 176.0h0M353.8 165.8h0M357.3 177.8h0M356.8 163.0h0M361.4 150.6h0M358.8 171.9h0M364.2 149.1h0M372.6 157.7h0M358.9 175.3h0M356.6 162.7h0M364.1 167.5h0M352.2 174.3h0M357.3 173.6h0M363.3 162.3h0M355.5 174.3h0M361.0 162.2h0M361.8 169.8h0M361.3 168.1h0M359.1 155.3h0M363.1 161.9h0M355.9 152.0h0M357.7 174.5h0M369.8 160.8h0M370.6 152.2h0M367.0 163.2h0M355.3 167.5h0M366.7 151.6h0M360.0 160.8h0M366.4 158.7h0M357.5 174.7h0M364.6 163.5h0M356.3 153.6h0M356.8 164.7h0M357.6 158.5h0M357.6 180.0h0M361.0 151.3h0M369.6 159.1h0M353.5 171.5h0M359.9 181.7h0M366.1 155.6h0M366.8 163.7h0M359.3 159.0h0M356.6 164.0h0M360.8 149.1h0M355.1 165.3h0M366.9 157.2h0M355.0 173.2h0M354.8 174.3h0M354.4 166.1h0M357.4 154.2h0M354.0 154.2h0M355.7 152.2h0M362.8 166.8h0M354.3 180.3h0M355.3 172.7h0M365.2 154.9h0M360.7 176.0h0M354.8 175.3h0M352.5 168.2h0M366.8 161.0h0M365.3 160.0h0M369.4 154.0h0M356.3 168.1h0M352.2 181.5h0M358.1 175.0h0M372.9 155.7h0M366.3 151.1h0M366.2 164.1h0M365.4 150.3h0M359.5 167.3h0M351.8 165.0h0M367.9 161.3h0M360.5 155.2h0M369.4 159.6h0M352.1 158.2h0M353.9 155.2h0M355.3 186.1h0M358.3 152.6h0M357.4 173.4h0M367.0 154.8h0M371.0 152.3h0M360.5 152.1h0M356.5 184.8h0M354.0 169.3h0M356.4 153.3h0M356.7 169.1h0M375.0 153.5h0M357.0 149.8h0M354.6 161.3h0M370.5 156.5h0M351.7 166.3h0M364.1 146.7h0M351.8 157.9h0M357.6 178.7h0M364.8 167.9h0M358.1 164.7h0M358.5 150.8h0M368.3 157.3h0M368.5 150.7h0M357.5 154.7h0M368.4 158.0h0M360.6 177.9h0M368.4 160.5h0M356.7 162.3h0M357.2 158.1h0M363.3 165.2h0M362.2 149.4h0M357.8 158.3h0M358.2 166.5h0M352.9 174.4h0M356.6 173.6h0M357.1 176.6h0M354.6 152.0h0M352.0 154.7h0M361.8 158.7h0M356.5 157.9h0M357.8 175.2h0M363.6 147.9h0M362.8 158.7h0M361.5 161.9h0M352.1 173.2h0M371.7 155.2h0M363.0 152.8h0M357.6 150.1h0M361.5 173.3h0M358.6 163.7h0M351.4 172.5h0M360.7 176.9h0M354.2 165.8h0M352.9 153.0h0M358.7 150.0h0M365.7 156.6h0M368.6 149.6h0M365.3 154.6h0M370.4 154.4h0M364.0 164.6h0M356.9 160.8h0M365.2 162.7h0M366.6 152.6h0M354.7 168.8h0M364.2 165.1h0M368.9 158.2h0M360.0 167.7h0M356.8 154.8h0M367.6 160.3h0M363.2 148.7h0M371.4 159.4h0M357.9 180.9h0M354.0 182.9h0M352.0 166.2h0M359.5 157.4h0M354.9 166.1h0M361.7 160.7h0M353.8 152.2h0M363.0 153.8h0M363.8 161.5h0M353.5 185.0h0M353.5 157.8h0M355.3 160.0h0M361.9 160.3h0M363.6 147.1h0M355.5 156.9h0" stroke="#ee2b2b" stroke-width="1.2" stroke-linecap="round" fill="none"/><path d="M367.7 152.7h0M362.8 160.5h0M367.4 151.7h0M363.5 151.0h0M364.7 155.1h0M370.8 161.7h0M371.4 165.6h0M375.9 159.8h0M373.1 161.8h0M372.0 153.7h0M371.1 160.2h0M367.4 154.9h0M362.6 154.7h0M366.5 154.6h0M366.1 157.5h0M376.1 162.8h0M372.5 161.0h0M370.1 157.6h0M363.1 154.0h0M371.4 162.2h0M370.1 161.2h0M362.5 153.9h0M371.8 156.8h0M367.8 160.9h0M369.2 167.4h0M366.7 159.3h0M372.2 151.2h0M366.5 156.2h0M372.1 159.6h0M374.7 165.3h0M369.5 162.2h0M367.8 157.7h0M362.8 153.5h0M372.6 165.9h0M370.5 157.4h0M371.3 150.8h0M373.0 151.6h0M364.8 159.7h0M369.9 158.6h0M373.2 166.2h0" stroke="#ee2b2b" stroke-width="1.0" stroke-linecap="round" fill="none"/><path d="M378.7,164.7 C381.0,162.9 383.8,159.9 386.4,158.5 C388.9,157.1 391.6,156.4 394.1,156.2 C396.7,155.9 399.3,155.8 401.9,157.0 C404.5,158.1 407.5,161.1 409.6,163.2 C411.6,165.2 412.9,167.3 414.2,169.4 C415.5,171.4 416.9,173.0 417.3,175.6 C417.7,178.2 417.1,182.0 416.5,184.8 C416.0,187.6 415.4,190.5 414.2,192.6 C413.1,194.6 411.4,195.7 409.6,197.2 C407.8,198.8 405.2,200.3 403.4,201.9 C401.7,203.4 400.3,204.6 398.8,206.4 C397.2,208.2 395.4,211.1 394.1,212.6 C392.8,214.2 392.3,214.4 391.0,215.7 C389.7,217.0 388.2,218.8 386.4,220.4 C384.6,221.9 382.1,224.0 380.3,225.1 C378.5,226.1 377.4,227.0 375.6,226.5 C373.8,226.0 371.5,223.7 369.4,221.9 C367.3,220.2 365.0,218.1 363.2,215.7 C361.4,213.4 359.8,210.6 358.5,208.0 C357.3,205.4 356.3,203.1 355.5,200.3 C354.8,197.5 354.0,193.6 354.0,191.0 C354.0,188.4 354.5,186.9 355.5,184.8 C356.6,182.7 358.3,180.4 360.1,178.6 C361.9,176.8 364.2,175.6 366.3,174.0 C368.4,172.5 370.4,170.9 372.5,169.4 C374.6,167.8 376.4,166.5 378.7,164.7 Z" fill="#564f50" filter="url(#sb)"/><path d="M382.9 200.4h0M368.1 184.0h0M393.8 209.3h0M408.4 172.4h0M359.6 201.6h0M379.4 181.3h0M381.3 189.4h0M405.4 193.3h0M411.4 180.4h0M361.2 179.9h0M393.0 205.7h0M358.1 180.7h0M387.8 216.8h0M379.4 212.1h0M380.6 218.5h0M370.7 220.2h0M388.5 201.4h0M381.6 161.1h0M400.3 198.6h0M396.0 204.0h0M375.7 217.7h0M409.0 175.0h0M379.7 170.9h0M381.4 172.8h0M393.8 211.7h0M359.3 187.4h0M388.7 216.1h0M357.0 204.1h0M367.7 215.3h0M395.0 210.3h0M420.1 174.4h0M371.5 180.8h0M361.2 200.7h0M387.1 197.8h0M382.8 210.5h0M378.2 214.4h0M402.9 176.2h0M398.3 164.6h0M390.4 208.0h0M392.2 206.1h0M389.4 175.3h0M396.3 157.4h0M414.9 172.9h0M418.3 177.1h0M408.9 171.1h0M383.5 166.9h0M403.1 182.0h0M392.2 170.0h0M356.3 186.7h0M365.6 217.3h0M380.3 217.9h0M356.2 184.5h0M379.2 163.5h0M369.2 176.9h0M374.1 183.5h0M378.6 194.2h0M388.8 204.3h0M393.6 175.2h0M367.5 193.7h0M393.6 199.0h0M385.7 172.9h0M387.5 189.5h0M393.7 166.2h0M369.5 182.9h0M372.2 224.2h0M410.1 182.2h0M375.2 181.4h0M363.7 183.3h0M399.1 168.2h0M404.7 167.4h0M409.7 186.6h0M397.7 175.8h0M370.5 173.9h0M405.3 188.2h0M357.7 195.9h0M383.2 168.2h0M386.5 185.3h0M411.8 176.6h0M387.9 160.6h0M381.5 172.5h0M378.4 179.1h0M378.8 214.6h0M402.0 192.4h0M358.6 182.9h0M407.4 197.8h0M396.7 178.8h0M382.9 224.6h0M399.0 171.7h0M379.0 214.0h0M381.7 202.8h0M358.0 187.2h0M359.4 193.3h0M380.5 193.6h0M385.7 160.0h0M407.0 172.7h0M410.8 181.6h0M398.3 172.1h0M391.9 203.2h0M391.4 183.9h0M382.2 179.5h0M376.8 179.9h0M401.6 178.4h0M407.1 194.6h0M388.9 164.9h0M378.7 164.9h0M373.0 168.4h0M378.4 215.6h0M387.9 177.1h0M356.0 196.3h0M416.2 176.9h0M397.7 180.8h0M389.1 166.9h0M398.9 208.3h0M401.1 165.7h0M418.5 178.5h0M383.1 208.3h0M365.9 209.0h0M378.5 212.0h0M375.7 183.4h0M411.7 166.5h0M358.2 186.9h0M385.6 187.9h0M408.0 199.8h0M383.8 173.6h0M360.4 208.8h0M386.2 186.4h0M359.1 206.7h0M411.1 171.1h0M395.8 166.2h0M374.3 219.7h0M357.2 201.0h0M369.1 197.8h0M375.7 172.3h0M391.9 180.3h0M376.9 172.8h0M358.1 186.7h0M388.6 202.2h0M399.0 205.5h0M385.9 180.6h0M372.5 178.9h0M392.6 171.0h0M383.9 184.3h0M416.0 174.6h0M414.1 179.6h0M368.2 202.6h0M412.7 183.1h0M379.1 201.9h0M396.8 184.1h0M392.3 188.6h0M390.5 213.6h0M357.9 196.3h0M392.3 181.9h0M376.0 169.1h0M377.1 220.1h0M400.7 198.8h0M364.8 201.3h0M373.0 220.9h0M409.6 187.4h0M380.6 216.5h0M378.4 187.5h0M386.8 203.0h0M381.1 161.5h0M383.5 160.3h0M378.6 162.6h0M369.7 182.2h0M383.7 217.4h0M386.1 184.9h0M405.1 170.9h0M360.7 210.8h0M378.3 172.5h0M376.8 175.0h0M402.1 192.6h0M376.9 176.5h0M386.4 176.9h0M396.4 187.5h0M398.0 196.2h0M388.9 203.7h0M381.2 174.6h0M371.3 207.5h0M392.3 197.3h0M393.4 192.8h0M371.7 221.0h0M419.2 176.3h0M376.2 221.0h0M389.7 205.8h0M376.7 224.0h0M398.3 172.9h0M360.8 186.5h0M405.7 174.6h0M393.5 175.0h0M371.7 177.9h0M359.8 182.2h0M407.2 174.5h0M385.1 169.0h0M382.2 174.0h0M389.7 183.1h0M380.2 208.3h0M377.2 180.2h0M401.7 166.0h0M369.2 171.9h0M401.1 188.0h0M406.5 177.3h0M384.7 172.0h0M367.2 218.8h0M392.8 206.2h0M374.4 214.2h0M365.5 207.6h0M358.4 203.0h0M409.9 170.3h0M379.0 179.8h0M399.9 202.3h0M381.8 178.6h0M401.0 166.3h0M383.1 164.0h0M387.9 204.3h0M374.5 219.3h0M392.6 180.2h0M370.9 226.5h0M408.2 164.0h0M357.9 210.5h0M387.9 215.0h0M376.1 186.4h0M394.2 192.4h0M371.7 221.9h0M405.3 159.6h0M386.4 186.4h0M354.5 194.8h0M368.2 202.5h0M363.8 215.6h0M390.1 197.2h0M400.8 177.6h0M391.0 165.6h0M355.7 199.9h0M379.8 210.5h0M394.1 176.6h0M380.9 178.5h0M409.5 194.6h0M379.8 221.6h0M392.7 186.5h0M394.5 166.2h0M378.2 217.5h0M367.8 210.7h0M368.4 175.2h0M409.6 184.2h0M367.1 196.8h0M378.7 221.3h0M401.7 172.8h0M375.1 184.9h0M368.6 213.9h0M371.0 188.8h0M376.3 184.3h0M411.3 174.5h0M375.2 208.4h0M408.6 159.9h0M405.7 162.4h0M369.9 177.9h0M379.3 206.8h0M387.1 198.1h0M393.8 183.6h0M367.7 200.8h0M371.9 189.9h0M364.3 207.5h0M378.0 192.7h0M362.7 209.2h0M395.9 165.1h0M395.6 199.6h0M377.1 185.9h0M379.0 214.3h0M372.7 224.0h0M405.7 163.1h0M404.4 183.4h0M386.8 186.8h0M407.9 196.0h0M398.0 198.5h0M369.9 177.2h0M370.1 203.7h0M367.4 178.3h0M404.8 162.8h0M408.5 188.7h0M381.4 195.8h0M402.2 197.0h0M364.4 207.1h0M394.8 165.9h0M364.1 184.6h0M402.7 160.9h0M380.9 187.9h0M399.1 194.9h0M367.7 219.3h0M390.2 214.8h0M388.8 162.5h0M361.5 185.2h0M377.1 192.4h0M363.3 203.4h0M368.6 196.4h0M383.2 164.0h0M394.0 180.7h0M396.1 210.5h0M397.2 154.8h0M410.2 163.9h0M363.2 191.6h0M385.2 159.6h0M391.9 215.6h0M401.7 188.7h0M396.3 160.9h0M384.5 216.4h0M394.2 173.7h0M379.8 171.5h0M381.9 179.5h0M373.2 175.4h0M383.1 172.4h0M369.3 185.6h0M411.6 190.5h0M366.1 205.0h0M377.0 217.4h0M404.9 164.0h0M390.9 202.7h0M383.8 167.8h0M406.4 198.0h0M356.0 194.2h0M354.2 191.1h0M384.2 160.6h0M373.6 219.7h0M380.5 190.5h0M383.9 217.1h0M382.4 161.1h0M412.2 181.9h0M375.3 193.2h0M373.1 199.8h0M379.3 165.9h0M400.4 176.6h0M378.0 175.1h0M369.3 212.5h0M388.1 195.6h0M371.9 185.7h0M374.6 202.1h0M385.6 167.1h0M373.8 215.0h0M382.4 166.9h0M416.0 179.9h0M381.1 190.2h0M407.1 164.4h0M358.7 186.0h0M377.3 181.5h0M388.0 186.5h0M380.1 187.1h0M384.1 217.6h0M401.0 185.0h0M365.5 174.8h0M375.0 173.3h0M408.4 179.4h0M402.4 169.1h0M374.0 203.8h0M401.4 167.0h0M402.0 175.5h0M390.9 199.3h0M376.7 215.1h0M366.0 188.0h0M365.9 200.4h0M375.5 181.7h0M393.3 209.2h0M376.4 193.6h0M392.0 215.5h0M403.8 158.0h0M415.2 186.0h0M355.4 198.5h0M389.7 215.9h0M369.7 181.2h0M400.9 156.5h0M374.3 179.3h0M396.3 201.3h0M397.0 162.6h0M380.9 173.4h0M398.9 177.7h0M402.0 168.9h0M385.8 213.7h0M392.5 180.0h0M400.3 176.3h0M389.1 204.8h0M376.8 221.0h0M410.4 181.2h0M404.9 185.0h0M407.3 162.4h0M387.5 160.1h0M401.5 186.2h0M416.2 175.3h0M391.6 180.9h0M383.3 204.4h0M405.2 173.8h0M378.6 206.8h0M386.7 192.6h0M386.0 172.4h0M387.6 174.6h0M385.9 220.1h0M409.7 191.1h0M367.0 203.1h0M370.1 198.8h0M387.0 167.3h0M398.2 177.2h0M415.3 171.9h0M396.4 207.7h0M367.0 182.6h0M395.5 157.8h0M400.8 167.4h0M405.1 198.3h0M378.8 175.5h0M386.1 208.6h0M399.7 193.6h0M397.4 199.8h0M393.4 198.1h0M385.5 170.3h0M401.7 171.3h0M378.8 224.2h0M412.6 185.6h0M361.5 174.6h0M393.8 181.9h0M378.2 179.7h0M400.4 161.2h0M377.8 227.0h0M405.1 178.0h0M378.5 190.8h0M364.1 214.0h0M376.4 198.9h0M383.1 210.7h0M403.7 161.3h0M390.1 207.3h0M391.4 198.2h0M389.8 203.8h0M393.1 197.8h0M369.2 216.8h0M404.9 173.9h0M366.0 199.6h0M360.9 205.4h0M390.7 211.1h0M408.2 162.4h0M370.0 207.2h0M373.4 219.1h0M362.5 200.5h0M393.2 167.7h0M388.2 171.3h0M388.2 216.9h0M360.7 197.6h0M388.6 177.7h0M371.9 213.2h0M367.1 202.1h0M376.2 215.3h0M392.8 214.0h0M354.0 193.1h0M367.0 178.5h0M412.0 184.5h0M379.6 169.0h0M367.2 176.5h0M418.1 173.7h0M394.8 184.7h0M366.9 181.4h0M366.3 175.4h0M361.6 190.8h0M365.6 204.5h0M373.2 225.0h0M365.5 214.9h0M357.8 204.5h0M373.9 209.4h0M401.3 179.2h0M369.9 182.8h0M385.1 171.7h0M380.1 219.0h0M354.3 188.2h0M397.5 183.7h0M391.0 163.8h0M360.5 201.0h0M375.6 193.3h0M377.4 218.6h0M379.9 214.5h0M387.4 179.8h0M373.0 190.8h0M404.6 190.1h0M370.3 212.6h0M374.7 191.7h0M386.1 215.1h0M373.8 186.3h0M379.8 180.7h0M381.5 215.7h0M383.4 192.9h0M366.5 182.4h0M370.3 188.1h0M364.7 177.7h0M405.1 172.4h0M373.8 178.2h0M368.3 184.8h0M358.0 190.6h0M391.9 192.0h0M381.6 204.1h0M414.9 173.6h0M396.5 197.1h0M414.4 187.8h0M396.7 172.7h0M400.0 177.1h0M398.9 171.9h0M361.3 193.3h0M356.9 193.0h0M413.9 185.4h0M391.8 174.1h0M360.6 197.0h0M378.5 196.8h0M365.8 204.8h0M392.5 184.8h0M406.0 169.1h0M356.4 194.6h0M374.1 215.3h0M373.8 172.3h0M388.7 165.5h0M392.0 166.3h0M380.3 200.5h0M378.0 194.2h0M371.7 214.1h0M361.4 185.3h0M383.8 191.9h0M393.6 163.2h0M375.7 219.4h0M364.8 215.4h0M389.7 161.2h0M397.2 178.1h0M377.9 190.1h0M371.2 205.5h0M417.5 182.9h0M389.6 215.0h0M370.4 178.6h0M405.1 165.8h0M392.0 195.1h0M378.2 219.9h0M395.4 165.6h0M409.1 161.3h0M403.7 166.0h0M385.8 161.5h0M364.7 179.9h0M407.9 164.3h0M417.0 186.6h0M360.5 206.7h0M394.5 163.8h0M357.5 200.0h0M393.0 169.2h0M369.5 204.7h0M376.8 191.4h0M357.4 196.0h0M403.4 173.8h0M371.5 185.4h0M379.9 212.2h0M374.3 218.3h0M361.2 194.3h0M369.8 218.3h0M390.8 163.6h0M397.6 158.2h0M390.5 210.9h0M376.0 166.8h0M388.6 201.7h0M392.1 155.5h0M374.3 203.6h0M392.8 203.3h0M371.2 184.2h0M379.2 217.1h0M378.0 176.7h0M392.3 188.9h0M384.2 168.1h0M381.1 223.2h0M399.8 166.7h0M405.5 196.8h0M376.0 224.2h0M406.1 191.7h0M380.8 176.1h0M379.1 177.8h0M408.3 177.1h0M395.1 170.2h0M385.4 194.2h0M403.1 179.4h0M360.1 202.8h0M389.0 196.5h0M367.4 211.2h0M360.6 195.7h0M372.0 220.8h0M376.0 196.4h0M369.5 218.5h0M380.5 218.1h0M388.3 180.5h0M391.7 191.4h0M377.2 214.4h0M394.9 202.7h0M396.1 207.6h0M381.0 178.6h0M360.6 180.4h0M373.0 171.2h0M385.8 180.6h0M356.7 202.6h0M382.4 189.4h0M413.1 169.3h0M379.3 196.7h0M376.9 172.4h0M374.9 212.2h0M383.0 200.9h0M402.7 175.6h0M414.1 166.9h0M386.9 194.5h0M377.0 224.5h0M400.8 163.3h0M381.0 174.6h0M384.5 166.6h0M367.1 207.8h0M408.4 178.3h0M389.4 195.1h0M381.2 176.1h0M393.8 187.7h0M369.3 176.1h0M370.0 190.0h0M385.1 178.1h0M393.1 178.3h0M380.8 165.6h0M414.4 170.7h0M364.5 175.8h0M369.8 184.5h0M392.4 163.2h0M381.6 169.7h0M373.8 185.0h0M386.0 199.6h0M399.6 194.7h0M411.5 182.3h0M375.3 174.3h0M410.9 172.0h0M399.9 202.0h0M365.3 185.1h0M395.7 195.4h0M399.3 180.2h0M411.8 171.1h0M389.8 164.3h0M379.6 165.5h0M366.2 176.9h0M379.3 202.3h0M401.6 167.2h0M383.0 163.3h0M402.7 199.8h0M375.9 196.1h0M371.4 175.7h0M378.1 227.9h0M363.4 189.0h0M384.1 199.5h0M410.1 183.0h0M388.4 201.7h0M359.4 208.3h0M374.6 220.8h0M369.0 172.3h0M384.7 185.1h0M365.3 176.6h0M363.6 214.7h0M399.4 183.1h0M380.2 182.0h0M396.3 190.7h0M385.6 196.9h0M384.3 181.1h0M380.3 209.5h0M384.5 163.3h0M375.5 217.4h0M407.0 172.8h0M369.0 174.1h0M366.3 193.9h0M375.4 220.4h0M405.0 181.5h0M408.0 189.1h0M390.4 184.7h0M395.4 176.4h0M395.1 174.0h0M361.8 207.0h0M392.6 157.7h0M367.4 187.6h0M377.2 184.6h0M388.1 187.2h0M364.1 181.0h0M387.6 163.4h0M395.2 159.4h0M360.1 185.0h0M395.5 166.8h0M376.8 200.8h0M395.7 180.8h0M371.7 195.4h0M363.8 206.5h0M370.2 194.4h0M366.0 190.7h0M389.2 186.7h0M382.8 216.8h0M384.5 205.6h0M389.7 182.9h0M398.2 185.8h0M391.3 172.3h0M382.9 190.3h0M393.8 203.8h0M355.5 198.1h0M389.1 212.5h0M362.5 190.3h0M359.2 191.0h0M396.3 180.1h0M373.8 225.5h0M369.8 217.4h0M369.2 189.7h0M354.1 187.0h0M398.2 184.4h0M356.9 188.1h0M388.5 190.3h0M384.8 217.6h0M390.8 177.5h0M388.2 204.3h0M373.6 226.6h0M388.1 206.9h0M390.0 189.2h0M383.8 158.0h0M411.8 164.3h0M390.8 159.2h0M361.5 208.5h0M389.9 189.2h0M409.7 176.2h0M369.5 223.0h0M388.5 216.0h0M374.8 220.9h0M374.8 194.1h0M380.0 204.5h0M382.7 204.3h0M377.0 165.7h0M397.3 157.0h0M416.9 182.4h0M365.6 198.3h0M394.5 183.7h0M395.2 198.5h0M397.6 201.7h0M412.3 193.5h0M384.7 168.3h0M371.6 223.2h0M373.8 193.3h0M393.6 180.7h0M379.7 210.2h0M375.4 168.7h0M358.9 186.6h0M394.0 176.2h0M370.7 218.5h0M401.3 178.2h0M371.4 219.9h0M412.5 174.7h0M396.2 194.9h0M370.7 219.0h0M389.3 168.8h0M366.7 215.7h0M402.9 198.5h0M390.0 202.2h0M399.0 176.2h0M376.4 200.2h0M390.1 209.2h0M413.2 192.0h0M376.5 169.4h0M372.1 174.6h0M362.3 202.4h0M369.2 211.6h0M385.5 207.6h0M411.8 181.9h0M364.4 191.3h0M388.9 162.4h0M395.9 160.0h0M362.7 181.4h0M377.3 181.5h0M375.5 201.0h0M407.5 195.2h0M388.5 207.7h0M390.8 211.7h0M374.6 203.2h0M373.5 172.4h0M374.0 215.7h0M395.7 198.5h0M384.9 168.0h0M400.6 203.7h0M362.9 201.6h0M363.7 196.8h0M400.8 188.5h0M379.6 211.2h0M367.8 195.7h0M408.5 170.0h0M377.8 226.3h0M359.4 184.0h0M369.9 202.2h0M401.9 164.5h0M369.1 194.8h0M389.5 201.6h0M403.7 188.2h0M416.4 178.0h0M411.2 177.9h0M387.2 189.1h0M361.9 193.7h0M374.6 205.5h0M361.4 208.8h0M390.9 173.0h0M355.4 195.2h0M391.3 164.6h0M382.4 211.0h0M363.0 202.7h0M384.5 165.8h0M390.7 213.8h0M384.0 190.2h0M393.2 176.3h0M387.5 208.2h0M394.5 204.1h0M407.1 188.9h0M369.2 190.9h0M390.4 156.8h0M385.2 165.1h0M367.6 204.5h0M362.3 205.3h0M386.0 178.5h0M373.3 208.9h0M383.7 184.4h0M399.4 178.2h0M373.3 223.6h0M396.0 195.9h0M353.6 195.3h0M389.2 197.9h0M413.0 183.6h0M390.4 213.3h0M368.2 220.5h0M370.9 174.6h0M381.9 190.0h0M385.9 171.1h0M406.9 170.5h0M382.1 161.0h0M397.9 168.9h0M367.5 187.5h0M411.8 186.0h0M365.9 211.5h0M373.2 212.0h0M363.0 193.7h0M372.7 202.2h0M393.0 188.4h0M370.8 176.5h0M356.0 191.2h0M391.2 201.0h0M357.3 201.3h0M375.4 201.3h0M371.1 216.4h0M394.4 186.8h0M400.0 169.8h0M381.4 204.6h0M386.9 207.2h0M367.9 209.8h0M370.7 181.8h0M357.3 198.5h0M411.6 171.3h0M401.6 156.3h0M383.8 196.2h0M387.3 207.4h0M373.3 172.9h0M362.0 205.0h0M402.9 183.2h0M371.4 213.7h0M363.1 207.2h0M389.2 185.9h0M389.1 183.8h0M386.3 188.9h0M404.2 180.8h0M389.4 203.7h0M405.7 183.5h0M389.4 193.0h0M379.6 220.8h0M388.4 160.6h0M393.3 181.7h0M400.2 189.1h0M412.5 185.0h0M394.8 163.6h0M397.7 193.4h0M368.8 207.6h0M362.0 208.9h0M357.6 203.8h0M369.9 204.2h0M397.1 170.1h0M398.0 178.7h0M394.3 172.6h0M378.0 182.6h0M382.0 185.7h0M367.9 181.2h0M372.6 224.6h0M392.7 197.7h0M363.5 176.2h0M409.0 187.2h0M384.4 220.3h0M377.4 200.1h0M356.8 205.8h0M372.6 207.8h0M370.8 202.9h0M390.3 191.2h0M372.5 221.4h0M406.6 162.6h0M397.5 159.0h0M401.3 158.3h0M405.8 167.6h0M375.3 210.9h0M390.1 200.4h0M369.6 207.7h0M364.6 195.9h0M366.2 182.7h0M360.0 213.0h0M368.6 182.8h0" stroke="#564f50" stroke-width="1.2" stroke-linecap="round" fill="none"/><path d="M381.3 167.3h0M376.6 197.0h0M391.5 209.3h0M394.1 181.1h0M377.6 223.1h0M397.5 179.7h0M392.9 168.6h0M402.7 157.0h0M392.6 171.2h0M378.3 221.5h0M408.0 184.4h0M404.3 164.3h0M356.3 206.5h0M403.0 162.8h0M400.2 170.6h0M381.5 222.0h0M393.2 155.8h0M394.2 155.6h0M374.7 193.7h0M378.3 218.4h0M405.8 204.4h0M376.4 168.5h0M395.6 174.4h0M355.8 185.6h0M371.8 206.5h0M384.1 167.9h0M394.8 157.5h0M407.5 170.8h0M386.8 176.9h0M374.1 179.7h0M392.2 156.9h0M355.0 209.4h0M379.9 171.4h0M362.7 188.3h0M378.0 208.2h0M399.4 154.3h0M389.9 218.6h0M393.2 206.4h0M371.2 208.8h0M387.6 167.7h0M379.9 211.8h0M409.9 164.9h0M379.5 163.3h0M383.9 218.1h0M372.8 184.6h0M389.6 173.9h0M365.5 178.0h0M382.4 165.6h0M372.5 201.1h0M372.8 201.4h0M375.4 223.3h0M413.3 177.2h0M406.4 173.8h0M373.4 182.6h0M364.1 181.3h0M379.3 176.0h0M379.0 216.1h0M411.4 177.3h0M384.9 185.0h0M410.9 192.1h0M414.4 180.0h0M376.9 204.9h0M378.5 179.2h0M390.9 215.0h0M392.0 185.9h0M405.3 191.9h0M376.2 179.0h0M398.3 171.6h0M377.6 178.1h0M411.4 194.4h0M397.6 204.4h0M361.6 199.3h0M369.8 183.2h0M372.8 188.9h0M385.6 188.2h0M416.1 179.0h0M392.9 166.3h0M416.3 179.1h0M358.3 200.8h0M396.4 206.6h0M395.9 204.2h0M395.7 160.8h0M399.8 183.6h0M375.8 198.6h0M392.1 209.1h0M365.7 195.1h0M386.1 198.1h0M384.7 194.7h0M404.6 169.8h0M357.2 201.9h0M402.1 186.2h0M381.0 216.0h0M378.7 185.4h0M381.1 217.2h0M395.5 157.4h0M363.1 180.8h0M407.7 196.4h0M404.1 194.1h0M415.0 188.9h0M410.9 172.0h0M409.1 190.9h0M359.0 186.0h0M380.7 208.0h0M380.4 206.9h0M381.6 221.8h0M402.3 182.2h0M405.5 202.1h0M397.5 158.5h0M354.4 184.0h0M379.6 202.3h0M409.3 192.1h0M375.1 175.7h0M366.2 204.7h0M407.3 166.5h0M376.8 224.4h0M365.4 203.0h0M367.4 206.8h0M370.1 220.0h0M392.1 187.8h0M370.6 176.9h0M392.7 200.1h0M379.9 203.1h0M365.9 218.6h0M415.3 180.8h0M408.3 170.9h0M363.0 210.1h0M369.0 217.8h0M411.2 171.3h0M389.3 218.8h0M387.8 196.3h0M362.0 202.6h0M391.9 172.0h0M378.1 191.2h0M357.9 194.8h0M406.2 181.0h0M390.3 182.7h0M365.2 192.0h0M394.8 194.7h0M400.9 209.1h0M358.8 199.2h0M370.4 220.5h0M385.9 165.0h0M370.1 177.8h0M390.2 213.0h0M388.0 182.2h0M353.7 196.2h0M376.5 188.9h0M378.2 193.4h0M380.5 195.8h0M402.5 165.4h0M380.9 191.4h0M413.5 193.4h0M364.1 180.6h0M378.9 173.9h0M412.0 174.8h0M375.2 189.3h0M398.7 160.0h0M367.0 172.6h0M364.4 206.5h0M378.5 211.7h0M398.7 158.7h0M369.5 213.2h0M362.1 186.8h0M378.5 195.2h0M371.7 174.7h0M368.7 204.0h0M379.7 211.4h0M389.8 187.8h0M360.0 190.3h0M391.9 194.3h0M389.2 185.4h0M409.3 179.3h0M396.3 174.0h0M403.7 157.4h0M389.6 207.1h0M388.0 180.3h0M389.7 189.9h0M380.6 181.7h0M392.0 164.9h0M412.0 169.0h0M373.5 229.0h0M383.5 187.9h0M382.9 224.9h0M412.5 191.5h0M370.2 222.4h0M380.2 185.1h0M379.5 190.0h0M410.1 175.1h0M386.6 168.5h0M364.8 203.9h0M381.2 179.2h0M378.4 222.3h0M372.5 171.0h0M413.4 167.8h0M401.6 172.7h0M401.5 180.1h0M412.6 174.4h0M414.6 185.6h0M362.1 216.2h0M396.9 162.1h0" stroke="#564f50" stroke-width="1.0" stroke-linecap="round" fill="none"/><path d="M378.8 174.6h0M386.6 167.7h0M383.3 207.7h0M389.8 178.0h0M361.9 184.6h0M393.2 171.4h0M363.9 182.0h0M379.0 177.0h0M361.4 186.1h0M390.9 172.7h0M369.6 205.4h0M407.3 177.1h0M383.8 210.7h0M379.9 186.0h0M398.7 179.1h0M369.4 208.3h0M362.6 195.5h0M381.9 212.7h0M383.1 187.2h0M373.8 182.6h0M368.8 178.0h0M364.2 195.9h0M365.0 180.8h0M403.5 183.4h0M368.8 191.2h0M401.0 175.8h0M390.7 191.5h0M408.9 190.4h0M374.8 209.7h0M391.2 175.6h0M391.7 191.7h0M369.4 188.1h0M390.9 168.1h0M397.4 170.3h0M401.7 176.3h0M404.2 187.5h0M360.9 194.5h0M376.5 215.1h0M399.5 167.6h0M379.2 186.3h0" stroke="#8a8486" stroke-width="0.9" stroke-linecap="round" fill="none"/><path d="M405.6,199.7 C406.8,199.1 409.3,199.7 410.3,200.9 C411.3,202.1 411.5,204.8 411.5,206.8 C411.5,208.8 410.7,210.8 410.3,212.8 C409.9,214.8 409.2,216.6 409.1,218.8 C409.0,221.0 409.5,223.4 409.7,226.0 C409.9,228.5 411.0,232.7 410.3,234.1 C409.6,235.4 406.6,235.0 405.6,234.1 C404.6,233.1 405.2,230.5 404.4,228.4 C403.6,226.2 402.2,223.0 400.8,221.2 C399.4,219.4 396.4,219.0 396.0,217.6 C395.6,216.2 397.4,214.2 398.4,212.8 C399.4,211.4 401.2,210.6 402.0,209.2 C402.8,207.8 402.6,206.1 403.2,204.5 C403.8,202.9 404.4,200.3 405.6,199.7 Z" fill="#f034f0" filter="url(#sb)" opacity="0.35"/><path d="M406.0 227.9h0M409.6 202.0h0M405.6 235.1h0M409.4 209.8h0M408.5 239.6h0M408.5 237.5h0M410.3 218.4h0M396.8 213.9h0M406.9 197.2h0M406.0 237.9h0M400.3 224.7h0M400.0 221.3h0M402.5 205.4h0M403.8 225.6h0M411.8 207.2h0M405.6 214.8h0M407.2 210.1h0M412.8 207.6h0M408.7 226.4h0M407.9 229.2h0M402.8 225.1h0M403.0 206.0h0M408.9 206.6h0M407.1 230.3h0M396.9 219.0h0M407.3 204.8h0M410.0 230.4h0M411.7 201.1h0M407.0 196.7h0M409.8 214.9h0M403.3 225.0h0M409.0 214.5h0M396.1 217.0h0M407.7 208.1h0M409.9 226.1h0M406.3 211.5h0M411.6 201.8h0M406.0 214.3h0M405.0 230.3h0M409.2 227.0h0M397.3 217.2h0M405.0 236.0h0M398.6 222.3h0M407.8 234.0h0M408.6 228.0h0M412.7 202.3h0M407.9 232.8h0M408.7 202.2h0M408.4 205.6h0M406.3 237.6h0M401.2 210.0h0M402.5 209.5h0M406.8 220.5h0M405.6 229.7h0M396.2 220.9h0M410.9 237.8h0M404.5 211.2h0M403.9 229.0h0M401.5 203.0h0M404.3 219.2h0M409.1 227.3h0M406.3 214.9h0M404.0 199.0h0M403.3 228.3h0M411.3 237.7h0M404.5 234.5h0M405.5 230.5h0M399.3 217.1h0M401.0 227.0h0M410.4 199.2h0M404.4 203.2h0M402.5 204.2h0M397.7 212.4h0M405.3 216.3h0M402.9 199.8h0M404.9 199.5h0M411.2 232.1h0M402.0 232.4h0M411.4 238.3h0M406.7 231.3h0M406.6 216.8h0M406.4 212.1h0M408.5 221.2h0M409.5 222.5h0M407.0 238.3h0M400.5 208.4h0M410.5 238.2h0M403.2 223.1h0M411.6 212.4h0M412.2 198.0h0M410.5 204.7h0M397.4 216.8h0M403.2 227.7h0M407.3 202.5h0M406.0 232.0h0M400.3 220.9h0M412.3 195.4h0M410.1 212.1h0M411.2 232.0h0M410.1 203.2h0M407.5 234.8h0M406.1 202.1h0M408.8 211.0h0M412.3 209.8h0M400.3 214.6h0M410.0 235.8h0M396.6 215.3h0M405.0 197.2h0M400.7 211.4h0M403.0 221.2h0M398.0 219.3h0M401.7 216.8h0M405.4 231.7h0M404.6 215.6h0M396.7 213.2h0M404.8 200.2h0M406.0 213.8h0M404.2 212.7h0M405.4 227.0h0M405.8 209.4h0M403.8 229.0h0M403.3 223.3h0M407.6 222.8h0M407.8 239.8h0M399.8 212.6h0M411.8 237.2h0M411.4 197.6h0M408.4 237.2h0M404.8 218.3h0M402.7 212.6h0M402.7 223.0h0M406.7 227.0h0M413.3 202.9h0M403.5 218.0h0M405.7 231.9h0M398.2 212.6h0M405.8 203.3h0M406.6 211.4h0M404.7 234.3h0M397.5 220.0h0M401.7 226.9h0M405.7 201.4h0M405.2 224.8h0M402.1 226.2h0M409.2 216.8h0M405.5 225.7h0M405.6 236.1h0M410.9 233.4h0M411.8 204.6h0M409.4 215.2h0M406.1 214.9h0M396.2 219.4h0M411.2 240.0h0M404.6 216.5h0M399.6 215.1h0M403.2 224.9h0M401.4 225.0h0M411.5 206.9h0M412.0 233.0h0M410.7 210.8h0M407.6 232.7h0M411.4 199.6h0M408.8 228.3h0M412.0 209.2h0M394.9 217.4h0M395.0 220.2h0M405.8 233.3h0M407.2 209.2h0M410.0 234.6h0M409.2 199.3h0M413.5 200.1h0M407.3 226.0h0M403.6 203.7h0M408.6 226.8h0M410.6 211.9h0M410.8 206.1h0M411.1 201.8h0M405.6 213.7h0M400.5 215.0h0M403.8 211.3h0M408.9 211.1h0M404.8 202.6h0M407.6 222.8h0M409.4 237.8h0M405.2 209.8h0M409.0 217.5h0M407.3 224.8h0M405.7 225.3h0M405.7 204.4h0M408.2 200.0h0M410.8 224.7h0M405.4 227.2h0M406.9 223.9h0M411.3 227.6h0M399.3 216.4h0M408.7 227.0h0M411.9 204.3h0M404.2 226.6h0M412.1 196.6h0M402.2 201.9h0M406.9 229.0h0M403.9 206.5h0M410.0 209.8h0M400.6 213.6h0M409.1 203.6h0M411.2 206.9h0M410.2 199.2h0M407.1 230.5h0M408.6 235.7h0M407.1 201.3h0M405.6 237.2h0M410.0 211.6h0M404.4 222.1h0M410.6 197.8h0M409.3 234.1h0M402.8 229.1h0M405.9 195.7h0M402.8 202.9h0M407.7 196.1h0M405.6 196.2h0M405.8 201.5h0M402.4 229.0h0M407.5 221.6h0M402.7 208.7h0M405.8 226.1h0M397.3 220.1h0M408.0 212.4h0M407.3 219.4h0M412.8 204.2h0M399.9 221.7h0M406.5 200.9h0M406.6 232.0h0M410.0 220.2h0M406.2 226.5h0M410.6 229.6h0M407.2 204.9h0M401.1 226.9h0M399.0 220.8h0M392.4 215.1h0M404.2 201.3h0M401.1 207.9h0M410.2 225.8h0M401.2 209.8h0M410.1 201.8h0M408.1 200.2h0M403.4 201.3h0M395.7 217.3h0M400.7 211.5h0M408.2 239.5h0M409.1 237.1h0M405.5 220.3h0M411.8 202.3h0M404.4 207.9h0M409.3 196.8h0M396.6 212.1h0M402.0 211.9h0M403.6 223.3h0M410.3 210.4h0M402.2 203.6h0M401.9 201.3h0M401.7 212.2h0M410.1 228.1h0M406.4 221.7h0M403.2 216.6h0M409.1 217.4h0M409.6 198.9h0M408.7 222.7h0M404.2 207.5h0M400.4 212.8h0M412.4 238.2h0M407.5 208.5h0M408.9 208.0h0M406.1 232.3h0M410.4 239.1h0M410.3 231.5h0M407.8 212.0h0M402.9 218.4h0M412.7 203.8h0M403.5 214.3h0M410.5 228.0h0M407.5 215.6h0M409.2 203.8h0M403.0 223.5h0M403.5 206.3h0M410.5 215.4h0M409.8 205.0h0M404.2 209.9h0M401.2 209.8h0M406.0 238.9h0M408.7 217.5h0M409.6 234.9h0M411.2 200.0h0M409.3 201.0h0M410.0 219.5h0M410.1 238.0h0M405.4 219.3h0M405.3 214.6h0M401.8 211.0h0M405.9 202.3h0M397.9 215.3h0M407.8 215.0h0M405.6 211.9h0M411.8 234.1h0M406.6 209.9h0M409.8 214.6h0M408.6 197.5h0M408.5 210.5h0M407.5 219.3h0M409.2 198.5h0M405.2 223.9h0M408.2 212.0h0M402.7 208.3h0M404.8 225.0h0M400.1 208.9h0M407.1 235.7h0M401.1 213.4h0M407.8 217.5h0M407.6 205.4h0M400.9 214.1h0M407.9 215.6h0M407.3 232.4h0M405.5 230.0h0M411.1 207.0h0M402.3 211.7h0M408.3 223.2h0M409.2 204.4h0M407.9 215.7h0M407.5 216.9h0M408.2 219.8h0M404.8 207.0h0" stroke="#f034f0" stroke-width="1.1" stroke-linecap="round" fill="none"/><path d="M402.5 231.6h0M406.8 241.7h0M403.4 229.6h0M410.4 232.6h0M419.1 257.9h0M407.2 232.1h0M422.1 261.0h0M412.0 237.2h0M425.5 267.7h0M402.4 236.8h0M406.5 235.5h0M430.1 280.3h0M411.1 235.0h0M407.7 230.7h0M418.4 252.6h0M402.5 231.4h0M409.7 232.5h0M401.0 234.4h0M401.0 236.5h0M426.8 268.0h0M426.5 266.8h0M403.8 231.3h0M412.9 241.6h0M419.1 256.0h0M426.4 271.2h0M406.9 241.5h0M413.0 245.5h0M413.9 250.2h0M426.8 269.0h0M417.1 259.5h0M405.4 238.0h0M430.8 280.7h0M423.0 266.7h0M408.9 244.0h0M404.6 236.5h0M404.6 238.4h0M399.0 231.9h0M426.7 274.2h0M401.2 232.0h0M402.2 231.2h0M422.8 264.8h0M410.9 245.5h0M418.5 255.7h0M420.7 263.4h0M427.2 272.5h0M398.8 231.0h0M415.6 249.9h0M403.0 232.5h0M424.4 266.7h0M415.2 254.0h0M419.1 259.3h0M427.0 273.2h0M423.7 267.1h0M406.3 230.4h0M398.2 230.4h0M412.2 247.9h0M420.7 259.9h0M410.0 245.5h0M413.1 243.2h0M426.0 272.5h0M418.0 251.3h0M407.8 238.6h0M413.8 249.6h0M418.7 258.1h0M406.2 237.3h0M405.9 230.7h0M407.0 241.2h0M414.1 245.4h0M414.2 250.8h0M422.8 265.1h0M420.2 255.0h0M413.1 247.9h0M408.2 234.2h0M409.2 245.9h0M431.4 280.4h0M401.8 236.5h0M430.4 280.5h0M417.6 248.9h0M410.9 247.0h0M425.6 272.7h0M413.3 251.1h0M403.7 237.4h0M421.3 260.4h0M414.0 245.5h0M430.5 276.4h0M420.4 254.2h0M402.0 234.7h0M431.0 280.9h0M421.0 259.8h0M413.2 240.6h0M402.0 233.8h0M408.6 231.5h0M411.5 240.9h0M416.2 253.0h0M403.2 233.8h0M426.0 274.5h0M409.0 236.2h0M398.1 231.9h0M427.4 271.1h0M418.4 262.5h0M414.4 244.9h0M410.3 235.8h0M413.5 243.3h0M426.7 270.6h0M419.6 260.2h0M419.8 258.4h0M424.5 265.3h0M410.7 239.0h0M414.8 257.8h0M420.8 257.3h0M423.8 267.4h0M404.2 232.2h0M428.9 273.1h0M424.2 265.8h0M412.9 238.3h0M423.9 268.9h0M422.0 261.0h0M423.2 269.4h0M404.6 231.0h0M417.4 255.3h0M408.9 238.4h0M418.3 256.6h0M406.1 232.8h0M414.4 249.5h0M405.0 239.2h0M432.0 277.8h0M412.6 243.9h0M422.5 262.7h0M413.5 249.1h0M404.1 233.0h0M416.9 256.6h0M413.0 241.5h0M416.8 249.6h0M429.6 277.3h0M398.8 231.6h0M407.9 235.8h0M432.3 279.9h0M411.5 247.0h0M428.7 277.0h0M412.6 248.6h0M422.4 262.0h0M412.5 243.3h0M403.9 232.6h0M414.4 251.5h0M428.1 277.5h0M404.1 235.5h0M415.9 249.9h0M422.3 264.7h0M418.8 261.0h0M415.6 244.1h0M413.1 239.0h0M408.9 236.5h0M410.9 232.0h0M409.1 240.1h0M408.2 231.2h0M426.9 272.9h0M427.7 271.9h0M409.8 237.4h0M410.2 245.3h0M404.9 237.5h0M428.3 277.6h0M428.9 277.4h0M401.7 233.5h0M405.4 238.2h0M406.6 234.4h0M410.0 236.4h0M425.9 266.9h0M415.6 248.1h0M427.0 272.2h0M427.4 270.9h0M416.5 250.1h0M412.1 241.2h0M411.8 239.0h0M416.7 256.6h0M412.6 249.0h0M411.1 246.0h0M427.6 276.2h0M413.0 245.6h0M414.0 248.9h0M411.6 235.9h0M399.1 231.0h0M402.6 232.3h0M413.0 247.3h0M411.3 243.4h0M412.1 249.8h0M410.2 244.1h0M425.1 266.7h0M406.9 236.6h0M408.9 230.6h0M425.1 264.2h0M416.9 255.3h0M407.8 239.5h0M408.1 233.0h0M399.2 230.7h0M411.3 249.2h0M403.6 237.2h0M425.7 273.0h0M412.8 247.4h0M410.3 231.3h0M414.4 244.1h0M412.4 245.0h0M412.7 246.5h0M416.8 248.5h0M409.9 241.1h0M430.4 275.7h0M413.2 249.6h0M418.4 255.1h0M415.4 245.0h0M404.2 238.3h0M409.3 242.5h0M430.5 274.2h0M416.0 251.7h0M418.3 254.0h0M404.5 238.5h0M402.6 234.7h0M414.0 250.0h0M412.9 250.7h0M406.5 237.0h0M418.5 258.0h0M408.1 241.6h0M428.6 274.7h0M403.5 230.5h0M415.4 251.6h0M416.2 247.7h0M402.7 234.7h0M413.2 249.1h0M406.6 232.8h0M429.6 279.3h0M433.2 281.6h0M418.3 252.9h0M410.0 242.1h0M431.0 280.6h0M417.5 252.7h0M414.4 246.3h0M403.8 238.2h0M404.9 238.6h0M407.7 232.0h0M420.7 256.7h0M417.4 258.1h0M424.1 266.6h0M405.7 231.7h0M411.3 243.5h0M410.9 244.3h0M407.9 237.1h0M413.8 249.3h0M421.1 260.1h0M415.5 248.1h0M417.8 259.1h0M431.0 280.6h0M403.1 237.6h0M429.4 272.3h0M417.0 255.6h0M400.4 232.9h0M425.4 269.3h0M419.2 262.2h0M431.5 281.9h0M429.3 274.7h0M419.3 261.3h0M427.5 273.2h0M408.8 238.3h0" stroke="#f034f0" stroke-width="1.2" stroke-linecap="round" fill="none"/><path d="M414.6 198.0h0M413.1 193.2h0M416.6 194.4h0M405.0 198.5h0M414.1 192.3h0M413.9 200.4h0M413.6 193.9h0M411.5 194.5h0M406.6 198.2h0M407.0 190.5h0M406.6 196.9h0M415.6 190.7h0M416.3 191.6h0M411.8 190.9h0M405.6 194.2h0M415.3 197.2h0M409.0 190.4h0M412.6 195.8h0M410.8 192.5h0M411.7 197.9h0M406.5 191.7h0M416.9 190.2h0M407.8 197.0h0M416.5 192.8h0M413.4 193.2h0M407.0 197.8h0M409.8 194.2h0M410.7 195.5h0M407.9 193.6h0M405.8 197.6h0M417.5 190.5h0M413.8 198.0h0M411.5 197.0h0M404.3 195.8h0M411.4 191.7h0M415.5 196.8h0M406.0 195.8h0M406.6 194.0h0M406.4 199.1h0M415.1 198.9h0" stroke="#f034f0" stroke-width="1.0" stroke-linecap="round" fill="none"/><path d="M382.7 182.3h0M385.8 178.2h0M388.5 198.8h0M378.6 177.0h0M384.2 181.2h0M387.6 201.0h0M399.9 179.8h0M407.8 187.5h0M395.8 200.0h0M386.2 195.2h0M397.9 183.7h0M397.0 196.2h0M403.7 185.0h0M379.3 185.6h0M378.0 180.6h0M392.7 195.1h0M405.7 190.6h0M404.2 193.3h0M400.2 184.5h0M390.0 184.9h0M382.6 193.3h0M402.4 197.5h0" stroke="#c040c8" stroke-width="1.2" stroke-linecap="round" fill="none"/><path d="M378.3 195.2h0M364.1 195.7h0M380.7 208.4h0M381.8 199.6h0M371.9 205.9h0M385.9 205.9h0M385.0 188.5h0M384.2 192.2h0M371.2 194.1h0M381.1 195.3h0" stroke="#dd3030" stroke-width="1.0" stroke-linecap="round" fill="none"/><path d="M436.6 295.3h0M434.0 280.6h0M441.8 302.1h0M439.6 296.0h0M430.9 283.1h0M442.4 297.4h0M433.5 283.3h0M440.4 299.7h0M436.6 296.3h0M435.5 288.4h0M433.2 293.1h0M435.5 285.6h0M437.0 292.6h0M436.7 294.0h0M440.8 300.3h0M432.1 282.5h0M437.8 295.0h0M438.9 300.4h0M441.0 292.5h0M431.9 282.8h0M439.8 295.4h0M437.5 287.4h0M444.3 298.5h0M432.7 283.3h0M434.1 292.3h0M441.1 294.3h0M442.9 298.5h0M435.3 287.5h0M440.0 296.8h0M435.6 286.7h0M440.6 296.1h0M434.6 282.3h0M441.9 301.8h0M436.0 296.6h0M435.6 296.3h0M436.0 290.8h0M434.4 282.1h0M445.1 298.8h0M438.3 295.0h0M439.5 288.3h0M437.5 288.0h0M437.0 288.6h0M433.5 283.8h0M435.5 293.9h0M445.5 304.2h0M439.8 294.2h0M432.5 284.2h0M433.2 284.4h0M432.0 282.9h0M438.5 286.9h0M433.7 281.8h0M440.8 292.8h0M438.9 293.1h0M435.7 289.5h0M444.7 295.7h0M438.4 292.6h0M438.6 290.4h0M439.7 292.2h0M440.6 298.5h0M434.3 287.6h0" stroke="#d6d6d6" stroke-width="1.1" stroke-linecap="round" fill="none"/><path d="M429.9,306.8 C432.0,306.0 435.0,305.3 437.5,305.3 C440.1,305.3 442.4,306.0 445.1,306.8 C447.9,307.5 451.1,308.6 454.2,309.8 C457.2,311.1 460.7,312.9 463.3,314.4 C465.8,315.9 468.2,317.2 469.4,318.9 C470.5,320.7 470.4,323.0 470.1,325.0 C469.9,327.0 469.2,329.0 467.8,331.0 C466.4,333.0 463.8,335.3 461.8,337.1 C459.7,338.9 458.0,340.6 455.7,341.6 C453.4,342.7 450.6,343.2 448.1,343.2 C445.6,343.2 443.1,342.7 440.6,341.6 C438.1,340.6 435.2,338.9 433.0,337.1 C430.7,335.3 428.4,333.3 426.9,331.0 C425.4,328.7 424.4,326.0 423.8,323.5 C423.3,321.0 423.6,318.2 423.8,315.9 C424.1,313.6 424.4,311.3 425.4,309.8 C426.4,308.3 427.9,307.5 429.9,306.8 Z" fill="#dadada" filter="url(#sb)"/><path d="M438.8 338.6h0M438.3 309.9h0M456.0 331.6h0M457.1 331.7h0M436.1 325.1h0M442.0 325.6h0M438.2 332.0h0M434.7 304.9h0M455.0 342.1h0M462.9 328.2h0M457.4 322.3h0M469.2 328.0h0M440.2 330.5h0M469.8 321.4h0M434.3 317.3h0M461.4 320.7h0M427.7 315.9h0M443.3 330.4h0M438.4 307.6h0M437.4 338.2h0M443.3 323.5h0M467.7 330.0h0M439.3 317.7h0M449.5 325.2h0M458.5 328.0h0M456.4 330.7h0M439.6 320.7h0M462.9 321.0h0M433.4 321.5h0M444.2 306.0h0M462.5 318.2h0M444.9 332.7h0M469.7 318.8h0M436.6 316.3h0M421.3 322.2h0M425.4 316.5h0M461.8 323.6h0M447.9 311.0h0M450.1 327.2h0M436.2 308.4h0M455.0 322.5h0M430.8 335.9h0M425.0 331.0h0M467.4 321.3h0M438.1 313.7h0M436.5 315.2h0M444.9 314.3h0M435.3 330.5h0M435.5 309.2h0M426.0 322.4h0M463.3 333.0h0M459.3 333.2h0M431.9 309.4h0M437.8 326.7h0M442.9 341.7h0M452.3 339.2h0M465.7 321.0h0M466.9 330.7h0M450.0 338.4h0M460.2 337.4h0M466.2 319.3h0M458.3 319.5h0M445.9 332.3h0M462.8 315.4h0M453.7 320.8h0M434.2 340.3h0M425.3 315.3h0M461.3 336.8h0M462.0 319.0h0M433.0 331.1h0M450.0 343.2h0M470.1 328.7h0M424.3 313.1h0M435.9 338.8h0M429.6 313.8h0M438.4 311.6h0M439.9 324.0h0M452.2 322.8h0M461.8 326.0h0M440.8 309.9h0M436.6 316.6h0M468.0 330.6h0M451.9 324.9h0M465.3 322.1h0M454.7 312.8h0M429.4 331.1h0M429.1 336.7h0M453.1 343.1h0M424.9 311.8h0M434.3 328.6h0M437.3 324.0h0M454.9 341.4h0M448.4 315.6h0M463.2 322.3h0M431.4 315.4h0M439.9 332.9h0M456.3 334.2h0M449.6 312.5h0M460.5 325.2h0M439.8 342.2h0M467.1 319.4h0M450.8 334.5h0M455.0 329.1h0M449.8 330.2h0M436.3 312.7h0M435.1 324.9h0M457.5 337.5h0M431.5 324.5h0M443.6 330.8h0M440.5 333.8h0M463.7 319.1h0M448.9 324.9h0M436.5 318.1h0M443.8 316.5h0M436.1 338.7h0M456.5 317.9h0M434.1 333.3h0M436.5 311.5h0M466.9 327.9h0M436.0 332.7h0M452.4 332.8h0M471.1 323.5h0M440.1 311.3h0M460.7 334.4h0M451.8 325.3h0M429.2 306.6h0M430.3 334.9h0M430.0 306.9h0M466.2 323.1h0M461.0 336.9h0M461.9 327.4h0M454.1 310.1h0M466.5 334.3h0M427.4 329.5h0M425.7 310.3h0M458.4 316.9h0M452.1 337.7h0M435.9 305.7h0M456.7 309.3h0M454.5 316.3h0M438.0 311.5h0M448.4 339.1h0M428.5 320.8h0M461.7 329.7h0M465.7 326.4h0M442.3 329.5h0M462.2 327.1h0M457.2 330.4h0M460.5 331.7h0M436.3 327.3h0M441.6 337.0h0M457.5 318.6h0M444.8 313.9h0M471.5 325.7h0M461.4 312.7h0M442.7 329.0h0M457.5 325.3h0M439.0 306.8h0M437.6 308.2h0M432.0 324.1h0M445.2 320.0h0M442.8 316.4h0M452.0 322.0h0M436.7 339.2h0M441.8 337.3h0M470.0 328.2h0M443.0 324.7h0M446.6 315.2h0M448.6 324.3h0M430.8 332.5h0M447.1 336.8h0M460.5 328.4h0M447.8 307.4h0M438.5 310.4h0M439.1 323.0h0M455.2 322.4h0M458.8 324.7h0M459.2 331.5h0M441.4 320.7h0M437.0 325.9h0M460.5 313.7h0M436.3 316.1h0M448.5 323.4h0M454.8 320.8h0M466.9 318.6h0M460.6 327.5h0M465.2 320.7h0M435.5 338.1h0M447.8 330.0h0M452.9 323.6h0M453.7 310.1h0M427.3 308.8h0M463.4 325.9h0M440.3 334.7h0M423.6 322.2h0M448.5 324.6h0M452.2 312.8h0M425.4 316.9h0M463.7 321.7h0M449.6 308.5h0M443.6 326.5h0M450.2 313.4h0M465.1 324.7h0M470.0 323.8h0M452.3 334.4h0M464.2 325.6h0M433.0 325.5h0M431.6 305.6h0M454.3 321.9h0M439.7 317.9h0M432.2 309.5h0M443.5 337.2h0M465.9 314.8h0M451.8 330.7h0M438.7 330.4h0M446.3 332.5h0M456.4 315.6h0M428.2 309.9h0M456.0 338.8h0M443.7 325.6h0M465.2 332.7h0M461.7 320.4h0M424.5 307.8h0M448.9 308.0h0M438.8 333.1h0M444.5 318.8h0M439.1 307.4h0M459.3 318.5h0M459.3 326.6h0M461.0 329.5h0M440.5 339.2h0M426.0 314.8h0M449.5 315.0h0M469.1 328.9h0M447.3 321.4h0M444.8 326.0h0M440.2 330.6h0M434.9 310.7h0M446.7 343.2h0M429.5 318.0h0M434.8 307.7h0M454.5 313.9h0M450.1 312.7h0M427.3 321.6h0M445.0 332.1h0M449.0 317.7h0M427.7 332.0h0M443.6 318.8h0M436.2 310.8h0M435.5 307.9h0M433.3 314.4h0M432.4 318.4h0M433.0 331.1h0M449.6 328.7h0M464.1 316.5h0M458.5 321.9h0M447.4 313.6h0M443.7 308.1h0M441.7 321.8h0M450.3 324.1h0M436.5 330.4h0M444.7 338.7h0M444.1 327.9h0M438.1 325.5h0M449.4 327.8h0M459.8 337.2h0M458.6 332.5h0M447.9 332.8h0M424.8 317.3h0M450.4 334.0h0M464.1 319.8h0M457.4 328.9h0M456.0 312.6h0M463.7 322.4h0M441.2 310.5h0M443.3 333.2h0M434.1 334.5h0M459.2 330.8h0M450.2 307.0h0M447.2 308.3h0M428.8 315.0h0M448.3 321.3h0M435.3 317.8h0M429.8 308.8h0M446.5 315.1h0M436.9 319.4h0M437.0 333.4h0M431.6 313.7h0M438.8 340.8h0M430.5 306.4h0M463.9 334.6h0M448.7 338.1h0M428.6 329.3h0M445.7 308.5h0M460.3 333.9h0M454.3 336.8h0M447.5 344.1h0M441.8 327.3h0M446.9 327.0h0M450.0 311.2h0M458.7 324.7h0M459.9 325.2h0M428.2 330.9h0M428.4 315.3h0M440.1 340.3h0M447.1 321.5h0M450.7 322.2h0M446.3 339.1h0M464.3 318.1h0M431.7 335.6h0M461.3 318.6h0M424.5 316.9h0M426.1 312.5h0M429.5 311.3h0M452.2 340.2h0M452.4 314.8h0M435.0 313.5h0M454.7 329.4h0M439.1 314.4h0M462.0 315.5h0M452.3 336.5h0M426.5 318.0h0M450.4 320.4h0M455.3 337.5h0M429.8 325.1h0M460.7 310.0h0M441.0 316.7h0M453.1 334.8h0M450.3 320.4h0M457.8 337.3h0M448.2 312.2h0M445.1 310.2h0M430.7 306.7h0M453.8 310.2h0M443.8 331.2h0M458.3 322.1h0M459.0 329.2h0M471.8 325.4h0M442.8 337.0h0M454.1 341.5h0M452.4 328.8h0M439.0 325.4h0M466.1 321.0h0M430.6 315.2h0M453.5 337.3h0M448.8 320.3h0M453.1 330.0h0M452.6 342.4h0M452.9 317.0h0M445.9 313.2h0M458.1 331.9h0M453.3 330.0h0M441.8 327.1h0M429.8 317.7h0M462.5 335.4h0M445.6 320.7h0M445.6 312.6h0M436.6 321.0h0M442.8 305.7h0M453.3 312.4h0M443.1 313.3h0M430.6 326.1h0M427.8 309.3h0M433.0 307.0h0M438.1 339.4h0M448.4 341.4h0M437.3 324.9h0M447.4 334.1h0M454.3 324.9h0M460.6 329.9h0M453.2 316.2h0M445.6 332.1h0M432.3 310.6h0M457.4 340.6h0M470.1 319.8h0M440.3 336.6h0M457.9 335.9h0M424.5 321.3h0M464.2 319.4h0M454.0 327.2h0M437.6 311.1h0M464.6 326.1h0M443.0 326.9h0M432.3 317.9h0M428.2 319.2h0M471.2 325.6h0M454.9 314.1h0M464.7 315.1h0M472.2 320.2h0M426.1 326.1h0M444.2 315.7h0M443.2 313.9h0M431.0 314.4h0M444.7 315.0h0M430.6 324.0h0M465.2 318.4h0M459.8 318.7h0M455.8 338.0h0M446.2 340.0h0M455.1 312.0h0" stroke="#dadada" stroke-width="1.2" stroke-linecap="round" fill="none"/><path d="M434.5 302.8h0M445.6 295.0h0M440.4 292.6h0M433.8 301.6h0M443.2 292.6h0M437.1 304.0h0M435.4 297.1h0M439.7 303.8h0M445.4 301.5h0M442.4 297.8h0M443.6 299.3h0M442.9 288.8h0M439.6 292.1h0M436.2 293.2h0M436.9 298.5h0M444.1 304.5h0M436.0 288.0h0M434.2 293.4h0M446.0 291.2h0M433.2 303.3h0M441.1 305.8h0M445.0 298.4h0M439.8 292.7h0M443.4 304.0h0M434.1 295.2h0M444.2 300.0h0M441.9 301.6h0M441.0 293.3h0M436.0 293.8h0M442.6 290.8h0M442.0 304.8h0M445.3 290.4h0M435.8 303.1h0M443.4 304.1h0M442.3 298.9h0M441.1 291.9h0M443.1 301.2h0M442.5 293.0h0M440.4 297.7h0M445.9 296.6h0" stroke="#dadada" stroke-width="1.0" stroke-linecap="round" fill="none"/><path d="M451.1 347.9h0M450.0 349.7h0M458.5 361.1h0M455.0 351.2h0M453.1 355.4h0M465.3 374.8h0M461.2 380.7h0M453.5 358.8h0M463.8 368.8h0M458.0 366.0h0M452.3 353.6h0M457.0 350.2h0M464.3 367.0h0M463.4 364.8h0M457.6 348.1h0M456.5 361.9h0M458.5 362.7h0M461.7 361.4h0M461.0 360.4h0M458.2 354.0h0M463.9 376.4h0M453.0 350.9h0M461.6 358.0h0M455.1 350.3h0M465.5 377.9h0M455.2 359.9h0M453.2 361.5h0M458.9 366.7h0M458.3 364.6h0M457.6 350.1h0M461.8 367.2h0M458.5 353.7h0M457.4 359.8h0M454.6 356.1h0M455.5 351.1h0M466.8 376.2h0M465.5 374.6h0M459.4 363.6h0M459.6 357.4h0M458.6 359.1h0M450.5 353.8h0M460.0 374.9h0M450.7 349.5h0M461.1 377.4h0M466.3 378.2h0M457.4 347.5h0M458.0 368.2h0M460.0 367.7h0M461.9 379.9h0M455.6 366.9h0M462.5 371.4h0M457.6 358.5h0M457.9 355.6h0M455.1 356.5h0M460.2 378.4h0M453.5 348.8h0M454.6 354.6h0M463.0 371.2h0M456.1 351.6h0M463.1 369.0h0M462.2 378.3h0M465.7 368.4h0M458.9 373.7h0M459.3 375.4h0M455.2 364.0h0M453.6 359.8h0M461.2 369.2h0M460.5 379.0h0M461.1 376.7h0M455.7 355.6h0M461.8 368.0h0M460.3 371.0h0M464.9 371.6h0M455.8 353.0h0M460.8 371.3h0M458.7 360.9h0M456.9 350.2h0M459.0 374.8h0M454.6 352.4h0M454.9 357.0h0M455.4 363.4h0M452.0 353.5h0M460.6 363.6h0M454.9 362.7h0M458.8 359.8h0M458.3 366.3h0M453.2 351.1h0M457.5 348.7h0M456.6 353.8h0M464.1 374.9h0M456.0 369.8h0M462.5 367.8h0M453.8 362.1h0M456.9 357.8h0M462.8 360.2h0M461.6 374.9h0M460.7 377.7h0M457.7 357.6h0M461.4 363.5h0M452.7 347.8h0M465.6 376.1h0M457.6 358.1h0M460.0 378.7h0M458.3 361.8h0M459.1 364.1h0M462.7 377.7h0M449.9 347.1h0M467.6 378.1h0M461.4 369.5h0M457.0 357.0h0M457.3 371.2h0M452.5 359.6h0M462.0 363.8h0M455.8 354.0h0M464.3 380.7h0M466.2 380.5h0M455.8 361.7h0M452.8 355.6h0M461.0 369.0h0M458.1 345.8h0M466.5 376.9h0M459.2 369.6h0M457.4 350.5h0M455.2 355.8h0M467.1 377.4h0M462.9 370.6h0M466.1 375.5h0M454.7 365.0h0M457.5 365.9h0M453.9 346.1h0M455.4 368.4h0M456.3 346.3h0M460.9 356.3h0M460.7 376.1h0M455.1 350.9h0M462.6 365.6h0M456.5 349.8h0M454.0 359.9h0M465.9 374.3h0M452.0 357.8h0M459.6 373.7h0M459.5 378.3h0M459.3 357.8h0M460.0 362.3h0M454.9 347.9h0M455.0 365.8h0M463.5 377.7h0M456.9 362.5h0M464.2 377.6h0M457.7 351.4h0M458.0 370.4h0M467.4 379.5h0M452.6 352.6h0M451.6 348.0h0M463.3 371.4h0M461.7 380.3h0M457.7 355.4h0M460.6 369.3h0M452.6 354.3h0M459.3 375.3h0M467.0 378.2h0M467.1 377.3h0M460.6 377.4h0M466.9 380.3h0M459.6 376.5h0M453.5 357.0h0M453.1 353.1h0M458.0 372.8h0M459.5 361.3h0M460.3 364.7h0M458.6 352.5h0M461.4 373.1h0M458.0 357.5h0M453.7 358.8h0M460.1 358.9h0M451.8 348.4h0M457.0 363.1h0M457.9 370.9h0M462.0 372.6h0M452.0 352.4h0M455.9 346.3h0M461.9 375.5h0M453.1 361.8h0M456.5 365.4h0M463.6 375.6h0M462.9 380.4h0M457.2 363.3h0M462.9 372.8h0M464.3 369.5h0M457.3 349.4h0M463.2 364.5h0M451.0 351.7h0M457.5 351.8h0M462.9 363.6h0M464.5 374.0h0M452.8 349.3h0M467.5 377.1h0M456.6 353.1h0M453.8 348.7h0M452.8 359.4h0M463.6 374.4h0M460.7 378.0h0M458.1 359.3h0M460.3 375.0h0M454.8 357.8h0M456.3 356.3h0M462.7 378.3h0M460.4 363.8h0M466.9 375.5h0M460.4 375.7h0M455.6 361.0h0M464.9 376.3h0M454.2 358.0h0M466.6 379.8h0M452.4 354.1h0M458.4 361.3h0M456.5 349.5h0M453.0 352.0h0M454.8 352.2h0M456.2 356.8h0" stroke="#4d86e6" stroke-width="1.2" stroke-linecap="round" fill="none"/><path d="M458.8,369.0 C459.7,367.9 463.1,365.9 464.7,367.3 C466.3,368.7 468.4,374.9 468.5,377.2 C468.7,379.4 466.8,380.3 465.6,380.7 C464.3,381.2 462.4,381.2 461.3,380.1 C460.2,379.0 459.6,376.0 459.2,374.1 C458.8,372.3 457.8,370.1 458.8,369.0 Z" fill="#4d86e6" filter="url(#sb)"/><path d="M463.7 378.7h0M464.3 370.8h0M458.6 373.3h0M461.4 380.6h0M463.3 368.3h0M464.5 370.8h0M461.1 371.6h0M460.1 368.1h0M458.9 370.7h0M459.4 369.2h0M466.8 375.6h0M461.1 373.3h0M464.5 378.9h0M464.6 370.4h0M463.1 375.3h0M464.0 366.5h0M462.3 369.5h0M461.6 375.1h0M468.1 377.0h0M467.7 375.1h0M462.0 376.9h0M466.5 378.8h0M465.3 367.0h0M463.5 365.8h0M458.7 374.1h0M459.0 370.8h0M462.6 372.7h0M460.4 372.5h0M467.4 375.8h0M461.8 374.3h0M459.2 370.8h0M464.5 374.7h0M463.0 372.4h0M462.6 373.0h0M464.9 374.7h0M459.5 370.1h0M464.4 369.4h0M466.8 380.9h0M467.6 374.0h0M465.0 368.0h0M461.5 376.4h0M460.8 377.0h0M462.4 374.9h0M465.5 373.6h0M467.3 378.4h0M461.6 373.7h0M460.9 370.9h0M466.4 373.9h0M459.4 368.9h0M469.0 378.4h0M467.5 374.5h0M462.1 370.1h0M463.1 376.9h0M466.6 370.9h0M464.1 380.9h0M463.2 373.1h0M458.7 370.4h0M460.9 379.5h0M467.9 376.0h0M466.5 378.1h0M465.2 370.8h0M464.0 378.6h0M461.0 377.2h0M463.3 368.5h0M464.9 373.0h0M459.2 376.4h0M466.4 379.3h0M461.2 376.4h0M465.1 371.1h0M462.4 370.8h0M463.9 377.9h0M459.8 367.8h0M467.1 376.7h0M460.9 372.2h0M460.5 371.6h0M465.4 377.6h0M462.3 370.5h0M461.2 372.0h0M463.0 381.2h0M461.4 378.4h0M463.1 368.7h0M458.9 368.5h0M466.0 374.6h0M463.3 381.0h0M465.3 380.0h0M458.7 368.3h0M460.6 373.1h0M459.4 375.6h0M460.0 369.9h0M464.8 372.4h0M465.2 380.1h0M458.6 370.0h0M464.4 379.8h0M468.4 375.8h0M459.4 369.8h0M461.9 377.3h0M465.5 372.7h0M462.7 378.0h0M460.1 376.1h0M466.5 376.5h0M461.0 375.0h0M465.4 377.6h0M458.4 374.0h0M464.4 373.1h0M459.6 372.3h0M460.9 371.9h0M458.6 372.0h0M460.8 375.0h0M462.2 371.5h0M466.5 375.0h0M459.8 367.8h0M461.7 371.4h0M465.1 369.8h0M464.9 378.4h0M462.8 373.7h0M464.3 375.6h0M467.4 378.3h0M459.7 367.7h0M466.4 381.1h0M464.0 368.7h0" stroke="#4d86e6" stroke-width="1.2" stroke-linecap="round" fill="none"/><circle cx="447" cy="312" r="0.8" fill="#e040e0"/><circle cx="461" cy="314.5" r="0.8" fill="#e040e0"/><circle cx="462" cy="322" r="0.7" fill="#555"/><circle cx="462.5" cy="318" r="0.7" fill="#555"/><path d="M653.6,226.8 C654.5,225.5 657.6,224.6 659.9,224.6 C662.1,224.6 666.0,225.5 667.1,226.8 C668.2,228.1 667.0,230.3 666.2,232.2 C665.5,234.2 663.7,236.6 662.6,238.5 C661.5,240.5 661.2,242.9 659.9,243.9 C658.5,244.9 655.7,245.3 654.5,244.4 C653.3,243.5 652.7,240.5 652.7,238.5 C652.7,236.5 654.4,234.2 654.5,232.2 C654.6,230.3 652.7,228.1 653.6,226.8 Z" fill="#4de62a" filter="url(#sb)"/><path d="M661.3 226.6h0M664.0 231.4h0M653.1 237.3h0M659.5 235.7h0M663.3 224.7h0M665.1 235.5h0M664.1 232.1h0M652.9 237.7h0M653.4 235.8h0M657.9 231.8h0M665.2 232.3h0M657.9 237.6h0M660.1 238.0h0M658.1 226.7h0M654.0 244.3h0M663.7 226.9h0M657.2 240.0h0M657.1 231.1h0M658.9 240.9h0M654.1 234.4h0M663.3 237.8h0M661.3 237.1h0M655.5 237.8h0M662.0 236.4h0M659.4 238.2h0M657.4 234.4h0M659.6 234.9h0M666.1 227.0h0M657.6 225.5h0M656.5 240.4h0M658.8 238.5h0M663.1 231.5h0M659.6 237.9h0M662.7 226.8h0M662.3 226.3h0M666.5 228.9h0M656.7 235.2h0M667.1 227.2h0M664.3 231.8h0M659.1 229.7h0M654.7 231.5h0M653.5 241.0h0M658.3 233.3h0M657.2 231.9h0M661.1 235.9h0M662.3 234.8h0M659.0 236.9h0M663.8 232.9h0M657.9 244.5h0M653.8 237.4h0M666.2 226.8h0M658.7 243.9h0M654.8 242.8h0M653.7 234.5h0M656.3 228.8h0M655.8 236.5h0M657.3 232.4h0M662.6 237.4h0M654.8 241.4h0M653.6 241.7h0M654.1 228.2h0M659.6 242.5h0M661.0 237.3h0M657.2 230.8h0M659.8 228.6h0M658.3 226.3h0M655.0 240.1h0M658.4 230.2h0M662.3 237.3h0M659.1 242.3h0M656.5 238.7h0M654.2 231.0h0M663.1 233.4h0M663.0 224.8h0M656.7 226.8h0M663.3 227.5h0M657.3 237.5h0M659.7 229.0h0M657.1 238.6h0M662.3 238.5h0M665.7 233.6h0M653.1 226.4h0M664.4 228.7h0M659.0 242.1h0M658.7 241.0h0M659.1 233.1h0M656.3 240.4h0M656.3 235.0h0M665.9 232.0h0M663.5 226.9h0M657.4 229.5h0M663.4 235.4h0M661.0 240.5h0M657.9 225.6h0M660.7 233.6h0M663.0 234.4h0M664.0 228.8h0M657.3 226.7h0M656.7 235.3h0M656.1 243.7h0M659.2 232.3h0M657.1 231.7h0M666.7 231.0h0M658.1 225.4h0M657.5 230.7h0M658.5 232.4h0M656.4 238.6h0M654.2 230.7h0M663.2 232.0h0M656.7 240.5h0M658.1 234.0h0M664.0 232.4h0M667.1 227.8h0M662.5 232.7h0M664.3 236.0h0M659.7 232.4h0M666.1 226.2h0M656.5 244.9h0M660.9 237.3h0M661.0 241.5h0" stroke="#4de62a" stroke-width="1.2" stroke-linecap="round" fill="none"/><ellipse cx="460.6" cy="300.4" rx="1.3" ry="0.9" fill="#4de62a" transform="rotate(-30 460.6 300.4)"/><text x="387.8" y="190.2" font-size="11.5" fill="#111" text-anchor="middle" >0</text><text x="359.1" y="161.4" font-size="11.5" fill="#111" text-anchor="middle" >2</text><text x="406.9" y="221.5" font-size="11.5" fill="#111" text-anchor="middle" >3</text><text x="448.7" y="328.2" font-size="11.5" fill="#111" text-anchor="middle" >1</text><text x="462.4" y="374.2" font-size="11.5" fill="#111" text-anchor="middle" >5</text><text x="659.3" y="237.2" font-size="11.5" fill="#111" text-anchor="middle" >4</text><text x="446.8" y="170.5" font-size="11.4" fill="#222" text-anchor="middle" >alveolar</text><text x="446.8" y="181.6" font-size="11.4" fill="#222" text-anchor="middle" >secretory</text><text x="446.8" y="192.8" font-size="11.4" fill="#222" text-anchor="middle" >(AEC2)</text><text x="419.4" y="221.9" font-size="11.3" fill="#222" text-anchor="start" >Double</text><text x="417.8" y="233.1" font-size="11.3" fill="#222" text-anchor="start" >positive</text><text x="656.4" y="219" font-size="11.3" fill="#222" text-anchor="middle" >ciliated</text><text x="399.3" y="343.2" font-size="11.3" fill="#222" text-anchor="middle" >airway</text><text x="399.3" y="354.4" font-size="11.3" fill="#222" text-anchor="middle" >secretory</text><text x="399.3" y="365.6" font-size="11.3" fill="#222" text-anchor="middle" >(club)</text><path d="M346.8,339.4 L346.8,386.5 L393.9,386.5" fill="none" stroke="#222" stroke-width="0.9"/><text x="0" y="0" font-size="11.3" fill="#222" text-anchor="middle" transform="translate(344.6,361.2) rotate(-90)">UMAP-2</text><text x="369.2" y="397.8" font-size="11.3" fill="#222" text-anchor="middle" >UMAP-1</text><circle cx="597.4" cy="292.3" r="3.1" fill="#564f50"/><text x="604.6" y="296.3" font-size="11.5" fill="#222" text-anchor="start" >AEC2a (cl-0)</text><circle cx="597.4" cy="304.8" r="3.1" fill="#dadada"/><text x="604.6" y="308.8" font-size="11.5" fill="#222" text-anchor="start" >S2 (cl-1)</text><circle cx="597.4" cy="317.3" r="3.1" fill="#ee2b2b"/><text x="604.6" y="321.3" font-size="11.5" fill="#222" text-anchor="start" >AEC2b (cl-2)</text><circle cx="597.4" cy="329.8" r="3.1" fill="#f034f0"/><text x="604.6" y="333.8" font-size="11.5" fill="#222" text-anchor="start" >DP (cl-3)</text><circle cx="597.4" cy="342.3" r="3.1" fill="#4de62a"/><text x="604.6" y="346.3" font-size="11.5" fill="#222" text-anchor="start" >Ciliated (cl-4)</text><circle cx="597.4" cy="354.8" r="3.1" fill="#4d86e6"/><text x="604.6" y="358.8" font-size="11.5" fill="#222" text-anchor="start" >S1 (cl-5)</text><text x="4.6" y="451" font-size="14" fill="#111" text-anchor="start" >D</text><text x="298.4" y="442.8" font-size="12.2" fill="#222" text-anchor="start" >Top cluster markers</text><rect x="108.2" y="457.6" width="123.0" height="85.3" fill="none" stroke="#72ec5e" stroke-width="1.2"/><rect x="231.8" y="457.6" width="111.1" height="85.3" fill="none" stroke="#80a8ef" stroke-width="1.2"/><rect x="343.5" y="457.6" width="112.1" height="85.3" fill="none" stroke="#cdcdcd" stroke-width="1.2"/><rect x="456.0" y="457.6" width="24.2" height="85.3" fill="none" stroke="#e46ee4" stroke-width="1.2"/><rect x="480.8" y="457.6" width="111.1" height="85.3" fill="none" stroke="#6a6a6a" stroke-width="1.2"/><rect x="592.6" y="457.6" width="50.7" height="85.3" fill="none" stroke="#ec4a4a" stroke-width="1.2"/><text x="164" y="454.6" font-size="11" fill="#222" text-anchor="middle" >ciliated</text><text x="288.4" y="454.6" font-size="11" fill="#222" text-anchor="middle" >S1</text><text x="399.1" y="454.6" font-size="11" fill="#222" text-anchor="middle" >S2</text><text x="466.9" y="454.6" font-size="11" fill="#222" text-anchor="middle" >DP</text><text x="546.2" y="454.6" font-size="11" fill="#222" text-anchor="middle" >AEC2a</text><text x="615.4" y="454.6" font-size="11" fill="#222" text-anchor="middle" >AEC2b</text><circle cx="65.1" cy="466.5" r="5.10" fill="#0000ff"/><circle cx="65.1" cy="480.2" r="0.70" fill="#aa89e7"/><circle cx="65.1" cy="494.0" r="0.70" fill="#aa89e7"/><circle cx="65.1" cy="507.7" r="0.70" fill="#aa89e7"/><circle cx="65.1" cy="521.5" r="0.70" fill="#aa89e7"/><circle cx="65.1" cy="535.2" r="0.70" fill="#aa89e7"/><circle cx="77.5" cy="466.5" r="0.70" fill="#aa89e7"/><circle cx="77.5" cy="480.2" r="3.65" fill="#0000ff"/><circle cx="77.5" cy="494.0" r="0.70" fill="#aa89e7"/><circle cx="77.5" cy="507.7" r="0.70" fill="#aa89e7"/><circle cx="77.5" cy="521.5" r="0.70" fill="#aa89e7"/><circle cx="77.5" cy="535.2" r="0.70" fill="#aa89e7"/><circle cx="89.9" cy="466.5" r="5.25" fill="#baa2e1"/><circle cx="89.9" cy="480.2" r="5.10" fill="#936bef"/><circle cx="89.9" cy="494.0" r="5.25" fill="#3c1dfd"/><circle cx="89.9" cy="507.7" r="5.25" fill="#ae90e6"/><circle cx="89.9" cy="521.5" r="4.00" fill="#bda8e0"/><circle cx="89.9" cy="535.2" r="4.00" fill="#bda8e0"/><circle cx="102.3" cy="466.5" r="2.55" fill="#c7bada"/><circle cx="102.3" cy="480.2" r="1.30" fill="#c1aede"/><circle cx="102.3" cy="494.0" r="3.30" fill="#c7bada"/><circle cx="102.3" cy="507.7" r="5.25" fill="#8e65f0"/><circle cx="102.3" cy="521.5" r="5.25" fill="#8258f3"/><circle cx="102.3" cy="535.2" r="5.50" fill="#8258f3"/><circle cx="114.7" cy="466.5" r="5.25" fill="#0000ff"/><circle cx="114.7" cy="480.2" r="0.75" fill="#b296e4"/><circle cx="114.7" cy="494.0" r="1.30" fill="#a683e9"/><circle cx="114.7" cy="507.7" r="2.55" fill="#ae90e6"/><circle cx="114.7" cy="521.5" r="2.55" fill="#ae90e6"/><circle cx="114.7" cy="535.2" r="2.55" fill="#ae90e6"/><circle cx="127.1" cy="466.5" r="5.25" fill="#0000ff"/><circle cx="127.1" cy="480.2" r="4.40" fill="#b296e4"/><circle cx="127.1" cy="494.0" r="4.40" fill="#b296e4"/><circle cx="127.1" cy="507.7" r="3.30" fill="#b296e4"/><circle cx="127.1" cy="521.5" r="3.50" fill="#b296e4"/><circle cx="127.1" cy="535.2" r="3.50" fill="#b296e4"/><circle cx="139.6" cy="466.5" r="5.25" fill="#0000ff"/><circle cx="139.6" cy="480.2" r="1.45" fill="#aa89e7"/><circle cx="139.6" cy="494.0" r="1.30" fill="#aa89e7"/><circle cx="139.6" cy="507.7" r="2.55" fill="#aa89e7"/><circle cx="139.6" cy="521.5" r="2.75" fill="#aa89e7"/><circle cx="139.6" cy="535.2" r="2.75" fill="#aa89e7"/><circle cx="152.0" cy="466.5" r="5.25" fill="#0000ff"/><circle cx="152.0" cy="480.2" r="5.25" fill="#b69ce3"/><circle cx="152.0" cy="494.0" r="5.25" fill="#b69ce3"/><circle cx="152.0" cy="507.7" r="4.40" fill="#b69ce3"/><circle cx="152.0" cy="521.5" r="4.00" fill="#b69ce3"/><circle cx="152.0" cy="535.2" r="4.00" fill="#b69ce3"/><circle cx="164.4" cy="466.5" r="5.25" fill="#0000ff"/><circle cx="164.4" cy="480.2" r="0.70" fill="#aa89e7"/><circle cx="164.4" cy="494.0" r="1.00" fill="#b296e4"/><circle cx="164.4" cy="507.7" r="0.70" fill="#aa89e7"/><circle cx="164.4" cy="521.5" r="0.70" fill="#aa89e7"/><circle cx="164.4" cy="535.2" r="0.70" fill="#aa89e7"/><circle cx="176.8" cy="466.5" r="5.25" fill="#0000ff"/><circle cx="176.8" cy="480.2" r="0.70" fill="#aa89e7"/><circle cx="176.8" cy="494.0" r="0.70" fill="#aa89e7"/><circle cx="176.8" cy="507.7" r="0.70" fill="#aa89e7"/><circle cx="176.8" cy="521.5" r="0.70" fill="#aa89e7"/><circle cx="176.8" cy="535.2" r="0.70" fill="#aa89e7"/><circle cx="189.2" cy="466.5" r="5.25" fill="#0000ff"/><circle cx="189.2" cy="480.2" r="4.00" fill="#b69ce3"/><circle cx="189.2" cy="494.0" r="1.80" fill="#a683e9"/><circle cx="189.2" cy="507.7" r="3.30" fill="#b296e4"/><circle cx="189.2" cy="521.5" r="4.00" fill="#b69ce3"/><circle cx="189.2" cy="535.2" r="4.00" fill="#b69ce3"/><circle cx="201.6" cy="466.5" r="5.25" fill="#0000ff"/><circle cx="201.6" cy="480.2" r="0.70" fill="#aa89e7"/><circle cx="201.6" cy="494.0" r="0.70" fill="#aa89e7"/><circle cx="201.6" cy="507.7" r="0.70" fill="#aa89e7"/><circle cx="201.6" cy="521.5" r="0.70" fill="#aa89e7"/><circle cx="201.6" cy="535.2" r="0.70" fill="#aa89e7"/><circle cx="214.0" cy="466.5" r="5.25" fill="#0000ff"/><circle cx="214.0" cy="480.2" r="0.70" fill="#aa89e7"/><circle cx="214.0" cy="494.0" r="0.70" fill="#aa89e7"/><circle cx="214.0" cy="507.7" r="0.70" fill="#aa89e7"/><circle cx="214.0" cy="521.5" r="0.70" fill="#aa89e7"/><circle cx="214.0" cy="535.2" r="0.70" fill="#aa89e7"/><circle cx="226.4" cy="466.5" r="5.25" fill="#0000ff"/><circle cx="226.4" cy="480.2" r="1.10" fill="#aa89e7"/><circle cx="226.4" cy="494.0" r="1.10" fill="#aa89e7"/><circle cx="226.4" cy="507.7" r="1.00" fill="#aa89e7"/><circle cx="226.4" cy="521.5" r="1.10" fill="#aa89e7"/><circle cx="226.4" cy="535.2" r="1.10" fill="#aa89e7"/><circle cx="238.8" cy="466.5" r="4.25" fill="#b69ce3"/><circle cx="238.8" cy="480.2" r="5.25" fill="#0000ff"/><circle cx="238.8" cy="494.0" r="4.90" fill="#b69ce3"/><circle cx="238.8" cy="507.7" r="1.10" fill="#aa89e7"/><circle cx="238.8" cy="521.5" r="0.70" fill="#aa89e7"/><circle cx="238.8" cy="535.2" r="0.70" fill="#aa89e7"/><circle cx="251.2" cy="466.5" r="1.45" fill="#b296e4"/><circle cx="251.2" cy="480.2" r="5.00" fill="#0000ff"/><circle cx="251.2" cy="494.0" r="2.35" fill="#b296e4"/><circle cx="251.2" cy="507.7" r="0.70" fill="#aa89e7"/><circle cx="251.2" cy="521.5" r="0.70" fill="#aa89e7"/><circle cx="251.2" cy="535.2" r="0.70" fill="#aa89e7"/><circle cx="263.7" cy="466.5" r="0.70" fill="#aa89e7"/><circle cx="263.7" cy="480.2" r="5.00" fill="#0000ff"/><circle cx="263.7" cy="494.0" r="1.25" fill="#aa89e7"/><circle cx="263.7" cy="507.7" r="0.70" fill="#aa89e7"/><circle cx="263.7" cy="521.5" r="0.70" fill="#aa89e7"/><circle cx="263.7" cy="535.2" r="0.70" fill="#aa89e7"/><circle cx="276.1" cy="466.5" r="0.70" fill="#aa89e7"/><circle cx="276.1" cy="480.2" r="5.00" fill="#0000ff"/><circle cx="276.1" cy="494.0" r="1.00" fill="#aa89e7"/><circle cx="276.1" cy="507.7" r="0.70" fill="#aa89e7"/><circle cx="276.1" cy="521.5" r="0.70" fill="#aa89e7"/><circle cx="276.1" cy="535.2" r="0.70" fill="#aa89e7"/><circle cx="288.5" cy="466.5" r="5.25" fill="#b69ce3"/><circle cx="288.5" cy="480.2" r="5.00" fill="#0000ff"/><circle cx="288.5" cy="494.0" r="5.25" fill="#b69ce3"/><circle cx="288.5" cy="507.7" r="2.35" fill="#b69ce3"/><circle cx="288.5" cy="521.5" r="0.75" fill="#a683e9"/><circle cx="288.5" cy="535.2" r="0.70" fill="#aa89e7"/><circle cx="300.9" cy="466.5" r="0.70" fill="#aa89e7"/><circle cx="300.9" cy="480.2" r="5.00" fill="#0000ff"/><circle cx="300.9" cy="494.0" r="0.70" fill="#aa89e7"/><circle cx="300.9" cy="507.7" r="0.70" fill="#aa89e7"/><circle cx="300.9" cy="521.5" r="0.70" fill="#aa89e7"/><circle cx="300.9" cy="535.2" r="0.70" fill="#aa89e7"/><circle cx="313.3" cy="466.5" r="0.70" fill="#aa89e7"/><circle cx="313.3" cy="480.2" r="5.00" fill="#0000ff"/><circle cx="313.3" cy="494.0" r="0.70" fill="#aa89e7"/><circle cx="313.3" cy="507.7" r="0.70" fill="#aa89e7"/><circle cx="313.3" cy="521.5" r="0.70" fill="#aa89e7"/><circle cx="313.3" cy="535.2" r="0.70" fill="#aa89e7"/><circle cx="325.7" cy="466.5" r="1.00" fill="#aa89e7"/><circle cx="325.7" cy="480.2" r="5.00" fill="#0000ff"/><circle cx="325.7" cy="494.0" r="1.75" fill="#b296e4"/><circle cx="325.7" cy="507.7" r="0.70" fill="#aa89e7"/><circle cx="325.7" cy="521.5" r="0.70" fill="#aa89e7"/><circle cx="325.7" cy="535.2" r="0.70" fill="#aa89e7"/><circle cx="338.1" cy="466.5" r="0.70" fill="#aa89e7"/><circle cx="338.1" cy="480.2" r="4.75" fill="#0000ff"/><circle cx="338.1" cy="494.0" r="1.50" fill="#b296e4"/><circle cx="338.1" cy="507.7" r="0.70" fill="#aa89e7"/><circle cx="338.1" cy="521.5" r="0.70" fill="#aa89e7"/><circle cx="338.1" cy="535.2" r="0.70" fill="#aa89e7"/><circle cx="350.5" cy="466.5" r="5.25" fill="#aa89e7"/><circle cx="350.5" cy="480.2" r="5.25" fill="#8258f3"/><circle cx="350.5" cy="494.0" r="5.25" fill="#5e36f9"/><circle cx="350.5" cy="507.7" r="5.25" fill="#ae90e6"/><circle cx="350.5" cy="521.5" r="2.75" fill="#ae90e6"/><circle cx="350.5" cy="535.2" r="2.75" fill="#ae90e6"/><circle cx="362.9" cy="466.5" r="2.75" fill="#b296e4"/><circle cx="362.9" cy="480.2" r="5.25" fill="#754bf5"/><circle cx="362.9" cy="494.0" r="5.25" fill="#6e44f7"/><circle cx="362.9" cy="507.7" r="5.10" fill="#aa89e7"/><circle cx="362.9" cy="521.5" r="4.00" fill="#ae90e6"/><circle cx="362.9" cy="535.2" r="4.00" fill="#ae90e6"/><circle cx="375.4" cy="466.5" r="5.25" fill="#aa89e7"/><circle cx="375.4" cy="480.2" r="5.25" fill="#936bef"/><circle cx="375.4" cy="494.0" r="5.25" fill="#0000ff"/><circle cx="375.4" cy="507.7" r="5.25" fill="#aa89e7"/><circle cx="375.4" cy="521.5" r="5.25" fill="#b296e4"/><circle cx="375.4" cy="535.2" r="5.25" fill="#b296e4"/><circle cx="387.8" cy="466.5" r="5.25" fill="#b296e4"/><circle cx="387.8" cy="480.2" r="5.25" fill="#936bef"/><circle cx="387.8" cy="494.0" r="5.25" fill="#2911fe"/><circle cx="387.8" cy="507.7" r="5.25" fill="#9871ed"/><circle cx="387.8" cy="521.5" r="5.25" fill="#b69ce3"/><circle cx="387.8" cy="535.2" r="5.25" fill="#b69ce3"/><circle cx="400.2" cy="466.5" r="1.30" fill="#aa89e7"/><circle cx="400.2" cy="480.2" r="5.25" fill="#9871ed"/><circle cx="400.2" cy="494.0" r="5.25" fill="#0000ff"/><circle cx="400.2" cy="507.7" r="2.20" fill="#9d77ec"/><circle cx="400.2" cy="521.5" r="0.70" fill="#aa89e7"/><circle cx="400.2" cy="535.2" r="0.70" fill="#aa89e7"/><circle cx="412.6" cy="466.5" r="5.25" fill="#8e65f0"/><circle cx="412.6" cy="480.2" r="5.25" fill="#754bf5"/><circle cx="412.6" cy="494.0" r="5.25" fill="#8258f3"/><circle cx="412.6" cy="507.7" r="2.20" fill="#a27dea"/><circle cx="412.6" cy="521.5" r="0.70" fill="#aa89e7"/><circle cx="412.6" cy="535.2" r="0.70" fill="#aa89e7"/><circle cx="425.0" cy="466.5" r="5.25" fill="#ae90e6"/><circle cx="425.0" cy="480.2" r="5.25" fill="#0000ff"/><circle cx="425.0" cy="494.0" r="5.25" fill="#9871ed"/><circle cx="425.0" cy="507.7" r="2.75" fill="#aa89e7"/><circle cx="425.0" cy="521.5" r="0.70" fill="#aa89e7"/><circle cx="425.0" cy="535.2" r="0.70" fill="#aa89e7"/><circle cx="437.4" cy="466.5" r="1.60" fill="#a683e9"/><circle cx="437.4" cy="480.2" r="4.40" fill="#8258f3"/><circle cx="437.4" cy="494.0" r="4.75" fill="#2911fe"/><circle cx="437.4" cy="507.7" r="1.10" fill="#a683e9"/><circle cx="437.4" cy="521.5" r="0.70" fill="#aa89e7"/><circle cx="437.4" cy="535.2" r="0.70" fill="#aa89e7"/><circle cx="449.8" cy="466.5" r="5.00" fill="#8e65f0"/><circle cx="449.8" cy="480.2" r="5.25" fill="#9871ed"/><circle cx="449.8" cy="494.0" r="5.25" fill="#5e36f9"/><circle cx="449.8" cy="507.7" r="5.00" fill="#ae90e6"/><circle cx="449.8" cy="521.5" r="4.75" fill="#baa2e1"/><circle cx="449.8" cy="535.2" r="4.75" fill="#baa2e1"/><circle cx="462.2" cy="466.5" r="5.00" fill="#9d77ec"/><circle cx="462.2" cy="480.2" r="5.25" fill="#c4b4dc"/><circle cx="462.2" cy="494.0" r="5.25" fill="#c1aede"/><circle cx="462.2" cy="507.7" r="5.25" fill="#542ffa"/><circle cx="462.2" cy="521.5" r="5.25" fill="#936bef"/><circle cx="462.2" cy="535.2" r="5.25" fill="#936bef"/><circle cx="474.6" cy="466.5" r="0.75" fill="#c4b4dc"/><circle cx="474.6" cy="480.2" r="5.25" fill="#a27dea"/><circle cx="474.6" cy="494.0" r="5.25" fill="#9871ed"/><circle cx="474.6" cy="507.7" r="5.25" fill="#542ffa"/><circle cx="474.6" cy="521.5" r="5.25" fill="#a683e9"/><circle cx="474.6" cy="535.2" r="5.25" fill="#a683e9"/><circle cx="487.0" cy="466.5" r="1.45" fill="#ae90e6"/><circle cx="487.0" cy="480.2" r="4.00" fill="#bda8e0"/><circle cx="487.0" cy="494.0" r="2.75" fill="#baa2e1"/><circle cx="487.0" cy="507.7" r="5.25" fill="#754bf5"/><circle cx="487.0" cy="521.5" r="5.25" fill="#754bf5"/><circle cx="487.0" cy="535.2" r="5.25" fill="#8258f3"/><circle cx="499.5" cy="466.5" r="0.70" fill="#aa89e7"/><circle cx="499.5" cy="480.2" r="0.70" fill="#aa89e7"/><circle cx="499.5" cy="494.0" r="0.70" fill="#aa89e7"/><circle cx="499.5" cy="507.7" r="5.25" fill="#9d77ec"/><circle cx="499.5" cy="521.5" r="5.25" fill="#6e44f7"/><circle cx="499.5" cy="535.2" r="5.25" fill="#6e44f7"/><circle cx="511.9" cy="466.5" r="1.30" fill="#aa89e7"/><circle cx="511.9" cy="480.2" r="2.00" fill="#ae90e6"/><circle cx="511.9" cy="494.0" r="2.55" fill="#b296e4"/><circle cx="511.9" cy="507.7" r="5.25" fill="#a683e9"/><circle cx="511.9" cy="521.5" r="5.25" fill="#673df8"/><circle cx="511.9" cy="535.2" r="5.25" fill="#6e44f7"/><circle cx="524.3" cy="466.5" r="0.70" fill="#aa89e7"/><circle cx="524.3" cy="480.2" r="0.70" fill="#aa89e7"/><circle cx="524.3" cy="494.0" r="1.10" fill="#aa89e7"/><circle cx="524.3" cy="507.7" r="5.25" fill="#9871ed"/><circle cx="524.3" cy="521.5" r="5.25" fill="#754bf5"/><circle cx="524.3" cy="535.2" r="5.25" fill="#754bf5"/><circle cx="536.7" cy="466.5" r="0.70" fill="#aa89e7"/><circle cx="536.7" cy="480.2" r="1.30" fill="#a683e9"/><circle cx="536.7" cy="494.0" r="2.75" fill="#b296e4"/><circle cx="536.7" cy="507.7" r="5.25" fill="#9871ed"/><circle cx="536.7" cy="521.5" r="5.25" fill="#754bf5"/><circle cx="536.7" cy="535.2" r="5.25" fill="#754bf5"/><circle cx="549.1" cy="466.5" r="0.70" fill="#aa89e7"/><circle cx="549.1" cy="480.2" r="0.70" fill="#aa89e7"/><circle cx="549.1" cy="494.0" r="0.70" fill="#aa89e7"/><circle cx="549.1" cy="507.7" r="4.00" fill="#a683e9"/><circle cx="549.1" cy="521.5" r="5.25" fill="#673df8"/><circle cx="549.1" cy="535.2" r="5.25" fill="#754bf5"/><circle cx="561.5" cy="466.5" r="0.70" fill="#aa89e7"/><circle cx="561.5" cy="480.2" r="0.70" fill="#aa89e7"/><circle cx="561.5" cy="494.0" r="0.70" fill="#aa89e7"/><circle cx="561.5" cy="507.7" r="3.80" fill="#a683e9"/><circle cx="561.5" cy="521.5" r="5.25" fill="#5e36f9"/><circle cx="561.5" cy="535.2" r="5.25" fill="#754bf5"/><circle cx="573.9" cy="466.5" r="0.70" fill="#aa89e7"/><circle cx="573.9" cy="480.2" r="0.70" fill="#aa89e7"/><circle cx="573.9" cy="494.0" r="0.70" fill="#aa89e7"/><circle cx="573.9" cy="507.7" r="4.50" fill="#a27dea"/><circle cx="573.9" cy="521.5" r="5.25" fill="#754bf5"/><circle cx="573.9" cy="535.2" r="5.25" fill="#754bf5"/><circle cx="586.3" cy="466.5" r="1.10" fill="#aa89e7"/><circle cx="586.3" cy="480.2" r="3.05" fill="#b69ce3"/><circle cx="586.3" cy="494.0" r="4.50" fill="#bda8e0"/><circle cx="586.3" cy="507.7" r="5.25" fill="#9871ed"/><circle cx="586.3" cy="521.5" r="5.25" fill="#8258f3"/><circle cx="586.3" cy="535.2" r="5.25" fill="#8258f3"/><circle cx="598.7" cy="466.5" r="0.70" fill="#aa89e7"/><circle cx="598.7" cy="480.2" r="0.70" fill="#aa89e7"/><circle cx="598.7" cy="494.0" r="0.70" fill="#aa89e7"/><circle cx="598.7" cy="507.7" r="2.50" fill="#9d77ec"/><circle cx="598.7" cy="521.5" r="4.40" fill="#b296e4"/><circle cx="598.7" cy="535.2" r="5.25" fill="#0000ff"/><circle cx="611.1" cy="466.5" r="4.00" fill="#b69ce3"/><circle cx="611.1" cy="480.2" r="0.70" fill="#aa89e7"/><circle cx="611.1" cy="494.0" r="1.75" fill="#aa89e7"/><circle cx="611.1" cy="507.7" r="5.00" fill="#9d77ec"/><circle cx="611.1" cy="521.5" r="5.25" fill="#754bf5"/><circle cx="611.1" cy="535.2" r="5.25" fill="#754bf5"/><circle cx="623.6" cy="466.5" r="0.70" fill="#aa89e7"/><circle cx="623.6" cy="480.2" r="3.40" fill="#ae90e6"/><circle cx="623.6" cy="494.0" r="5.00" fill="#baa2e1"/><circle cx="623.6" cy="507.7" r="5.25" fill="#9d77ec"/><circle cx="623.6" cy="521.5" r="5.25" fill="#7c51f4"/><circle cx="623.6" cy="535.2" r="5.25" fill="#754bf5"/><circle cx="636.0" cy="466.5" r="0.70" fill="#aa89e7"/><circle cx="636.0" cy="480.2" r="3.00" fill="#a683e9"/><circle cx="636.0" cy="494.0" r="4.00" fill="#b296e4"/><circle cx="636.0" cy="507.7" r="5.25" fill="#a683e9"/><circle cx="636.0" cy="521.5" r="5.25" fill="#754bf5"/><circle cx="636.0" cy="535.2" r="5.25" fill="#673df8"/><path d="M57.6,457.8 L57.6,543.4 L643,543.4" fill="none" stroke="#555" stroke-width="0.9"/><path d="M55.0,466.5 L57.6,466.5 M55.0,480.2 L57.6,480.2 M55.0,494.0 L57.6,494.0 M55.0,507.7 L57.6,507.7 M55.0,521.5 L57.6,521.5 M55.0,535.2 L57.6,535.2 M65.1,543.4 L65.1,546.0 M77.5,543.4 L77.5,546.0 M89.9,543.4 L89.9,546.0 M102.3,543.4 L102.3,546.0 M114.7,543.4 L114.7,546.0 M127.1,543.4 L127.1,546.0 M139.6,543.4 L139.6,546.0 M152.0,543.4 L152.0,546.0 M164.4,543.4 L164.4,546.0 M176.8,543.4 L176.8,546.0 M189.2,543.4 L189.2,546.0 M201.6,543.4 L201.6,546.0 M214.0,543.4 L214.0,546.0 M226.4,543.4 L226.4,546.0 M238.8,543.4 L238.8,546.0 M251.2,543.4 L251.2,546.0 M263.7,543.4 L263.7,546.0 M276.1,543.4 L276.1,546.0 M288.5,543.4 L288.5,546.0 M300.9,543.4 L300.9,546.0 M313.3,543.4 L313.3,546.0 M325.7,543.4 L325.7,546.0 M338.1,543.4 L338.1,546.0 M350.5,543.4 L350.5,546.0 M362.9,543.4 L362.9,546.0 M375.4,543.4 L375.4,546.0 M387.8,543.4 L387.8,546.0 M400.2,543.4 L400.2,546.0 M412.6,543.4 L412.6,546.0 M425.0,543.4 L425.0,546.0 M437.4,543.4 L437.4,546.0 M449.8,543.4 L449.8,546.0 M462.2,543.4 L462.2,546.0 M474.6,543.4 L474.6,546.0 M487.0,543.4 L487.0,546.0 M499.5,543.4 L499.5,546.0 M511.9,543.4 L511.9,546.0 M524.3,543.4 L524.3,546.0 M536.7,543.4 L536.7,546.0 M549.1,543.4 L549.1,546.0 M561.5,543.4 L561.5,546.0 M573.9,543.4 L573.9,546.0 M586.3,543.4 L586.3,546.0 M598.7,543.4 L598.7,546.0 M611.1,543.4 L611.1,546.0 M623.6,543.4 L623.6,546.0 M636.0,543.4 L636.0,546.0 " stroke="#666" stroke-width="0.8"/><rect x="108.2" y="457.6" width="123.0" height="85.3" fill="none" stroke="#72ec5e" stroke-width="1.2"/><rect x="231.8" y="457.6" width="111.1" height="85.3" fill="none" stroke="#80a8ef" stroke-width="1.2"/><rect x="343.5" y="457.6" width="112.1" height="85.3" fill="none" stroke="#cdcdcd" stroke-width="1.2"/><rect x="456.0" y="457.6" width="24.2" height="85.3" fill="none" stroke="#e46ee4" stroke-width="1.2"/><rect x="480.8" y="457.6" width="111.1" height="85.3" fill="none" stroke="#6a6a6a" stroke-width="1.2"/><rect x="592.6" y="457.6" width="50.7" height="85.3" fill="none" stroke="#ec4a4a" stroke-width="1.2"/><text x="52.8" y="470.5" font-size="11" fill="#222" text-anchor="end" >Ciliated (4)</text><text x="52.8" y="484.24" font-size="11" fill="#222" text-anchor="end" >S1 (5)</text><text x="52.8" y="497.98" font-size="11" fill="#222" text-anchor="end" >S2 (1)</text><text x="52.8" y="511.72" font-size="11" fill="#222" text-anchor="end" >DP (3)</text><text x="52.8" y="525.46" font-size="11" fill="#222" text-anchor="end" >AEC2a (0)</text><text x="52.8" y="539.2" font-size="11" fill="#222" text-anchor="end" >AEC2b (2)</text><text x="0" y="0" font-size="11" fill="#222" text-anchor="end" transform="translate(69.0,548.0) rotate(-90)">Foxj1</text><text x="0" y="0" font-size="11" fill="#222" text-anchor="end" transform="translate(81.4,548.0) rotate(-90)">Pdpn</text><text x="0" y="0" font-size="11" fill="#222" text-anchor="end" transform="translate(93.8,548.0) rotate(-90)">Scgb1a1</text><text x="0" y="0" font-size="11" fill="#222" text-anchor="end" transform="translate(106.2,548.0) rotate(-90)">Sftpc</text><text x="0" y="0" font-size="11" fill="#222" text-anchor="end" transform="translate(118.6,548.0) rotate(-90)">Dynlrb2</text><text x="0" y="0" font-size="11" fill="#222" text-anchor="end" transform="translate(131.0,548.0) rotate(-90)">Elof1</text><text x="0" y="0" font-size="11" fill="#222" text-anchor="end" transform="translate(143.5,548.0) rotate(-90)">Tppp3</text><text x="0" y="0" font-size="11" fill="#222" text-anchor="end" transform="translate(155.9,548.0) rotate(-90)">Sec14l3</text><text x="0" y="0" font-size="11" fill="#222" text-anchor="end" transform="translate(168.3,548.0) rotate(-90)">1110017D15Rik</text><text x="0" y="0" font-size="11" fill="#222" text-anchor="end" transform="translate(180.7,548.0) rotate(-90)">Ccdc153</text><text x="0" y="0" font-size="11" fill="#222" text-anchor="end" transform="translate(193.1,548.0) rotate(-90)">Gsn</text><text x="0" y="0" font-size="11" fill="#222" text-anchor="end" transform="translate(205.5,548.0) rotate(-90)">Fam183b</text><text x="0" y="0" font-size="11" fill="#222" text-anchor="end" transform="translate(217.9,548.0) rotate(-90)">Tmem212</text><text x="0" y="0" font-size="11" fill="#222" text-anchor="end" transform="translate(230.3,548.0) rotate(-90)">Tuba1a</text><text x="0" y="0" font-size="11" fill="#222" text-anchor="end" transform="translate(242.7,548.0) rotate(-90)">Lypd2</text><text x="0" y="0" font-size="11" fill="#222" text-anchor="end" transform="translate(255.2,548.0) rotate(-90)">Scgb3a1</text><text x="0" y="0" font-size="11" fill="#222" text-anchor="end" transform="translate(267.6,548.0) rotate(-90)">Muc5b</text><text x="0" y="0" font-size="11" fill="#222" text-anchor="end" transform="translate(280.0,548.0) rotate(-90)">Bpifb1</text><text x="0" y="0" font-size="11" fill="#222" text-anchor="end" transform="translate(292.4,548.0) rotate(-90)">Gsto1</text><text x="0" y="0" font-size="11" fill="#222" text-anchor="end" transform="translate(304.8,548.0) rotate(-90)">Reg3g</text><text x="0" y="0" font-size="11" fill="#222" text-anchor="end" transform="translate(317.2,548.0) rotate(-90)">Tff2</text><text x="0" y="0" font-size="11" fill="#222" text-anchor="end" transform="translate(329.6,548.0) rotate(-90)">Bpifa1</text><text x="0" y="0" font-size="11" fill="#222" text-anchor="end" transform="translate(342.0,548.0) rotate(-90)">Ltf</text><text x="0" y="0" font-size="11" fill="#222" text-anchor="end" transform="translate(354.4,548.0) rotate(-90)">Cyp2f2</text><text x="0" y="0" font-size="11" fill="#222" text-anchor="end" transform="translate(366.8,548.0) rotate(-90)">Gsta3</text><text x="0" y="0" font-size="11" fill="#222" text-anchor="end" transform="translate(379.2,548.0) rotate(-90)">Prdx6</text><text x="0" y="0" font-size="11" fill="#222" text-anchor="end" transform="translate(391.7,548.0) rotate(-90)">Hp</text><text x="0" y="0" font-size="11" fill="#222" text-anchor="end" transform="translate(404.1,548.0) rotate(-90)">Cldn10</text><text x="0" y="0" font-size="11" fill="#222" text-anchor="end" transform="translate(416.5,548.0) rotate(-90)">Aldh1a1</text><text x="0" y="0" font-size="11" fill="#222" text-anchor="end" transform="translate(428.9,548.0) rotate(-90)">Scgb3a2</text><text x="0" y="0" font-size="11" fill="#222" text-anchor="end" transform="translate(441.3,548.0) rotate(-90)">Slc7a11</text><text x="0" y="0" font-size="11" fill="#222" text-anchor="end" transform="translate(453.7,548.0) rotate(-90)">Ier3</text><text x="0" y="0" font-size="11" fill="#222" text-anchor="end" transform="translate(466.1,548.0) rotate(-90)">Mir6236</text><text x="0" y="0" font-size="11" fill="#222" text-anchor="end" transform="translate(478.5,548.0) rotate(-90)">Aox3</text><text x="0" y="0" font-size="11" fill="#222" text-anchor="end" transform="translate(490.9,548.0) rotate(-90)">Lyz2</text><text x="0" y="0" font-size="11" fill="#222" text-anchor="end" transform="translate(503.4,548.0) rotate(-90)">Lamp3</text><text x="0" y="0" font-size="11" fill="#222" text-anchor="end" transform="translate(515.8,548.0) rotate(-90)">Cd74</text><text x="0" y="0" font-size="11" fill="#222" text-anchor="end" transform="translate(528.2,548.0) rotate(-90)">Napsa</text><text x="0" y="0" font-size="11" fill="#222" text-anchor="end" transform="translate(540.6,548.0) rotate(-90)">Slc34a2</text><text x="0" y="0" font-size="11" fill="#222" text-anchor="end" transform="translate(553.0,548.0) rotate(-90)">H2−Aa</text><text x="0" y="0" font-size="11" fill="#222" text-anchor="end" transform="translate(565.4,548.0) rotate(-90)">H2−Ab1</text><text x="0" y="0" font-size="11" fill="#222" text-anchor="end" transform="translate(577.8,548.0) rotate(-90)">Fabp5</text><text x="0" y="0" font-size="11" fill="#222" text-anchor="end" transform="translate(590.2,548.0) rotate(-90)">Scd1</text><text x="0" y="0" font-size="11" fill="#222" text-anchor="end" transform="translate(602.6,548.0) rotate(-90)">Lyz1</text><text x="0" y="0" font-size="11" fill="#222" text-anchor="end" transform="translate(615.0,548.0) rotate(-90)">Rnase4</text><text x="0" y="0" font-size="11" fill="#222" text-anchor="end" transform="translate(627.5,548.0) rotate(-90)">Chil1</text><text x="0" y="0" font-size="11" fill="#222" text-anchor="end" transform="translate(639.9,548.0) rotate(-90)">Lcn2</text><text x="649.8" y="459.2" font-size="11" fill="#222" text-anchor="start" >% of</text><text x="649.8" y="469.9" font-size="11" fill="#222" text-anchor="start" >cells</text><circle cx="655.8" cy="475.7" r="0.7" fill="#000"/><text x="664.3" y="479.7" font-size="11" fill="#222" text-anchor="start" >0</text><circle cx="655.8" cy="485.6" r="1.9" fill="#000"/><text x="664.3" y="489.6" font-size="11" fill="#222" text-anchor="start" >25</text><circle cx="655.8" cy="494.8" r="2.7" fill="#000"/><text x="664.3" y="498.8" font-size="11" fill="#222" text-anchor="start" >50</text><circle cx="655.8" cy="505.4" r="3.6" fill="#000"/><text x="664.3" y="509.4" font-size="11" fill="#222" text-anchor="start" >75</text><circle cx="655.8" cy="516.0" r="4.6" fill="#000"/><text x="664.3" y="520.0" font-size="11" fill="#222" text-anchor="start" >100</text><text x="649.8" y="540.9" font-size="11" fill="#222" text-anchor="start" >Scaled</text><text x="649.8" y="551.3" font-size="11" fill="#222" text-anchor="start" >Expr.</text><defs><linearGradient id="cbar" x1="0" y1="0" x2="0" y2="1"><stop offset="0.0" stop-color="#0000ff"/><stop offset="0.1" stop-color="#4c28fb"/><stop offset="0.2" stop-color="#6a40f7"/><stop offset="0.3" stop-color="#8055f3"/><stop offset="0.4" stop-color="#926aef"/><stop offset="0.5" stop-color="#a27dea"/><stop offset="0.6" stop-color="#af91e6"/><stop offset="0.7" stop-color="#bba4e0"/><stop offset="0.8" stop-color="#c6b8db"/><stop offset="0.9" stop-color="#d0ccd5"/><stop offset="1.0" stop-color="#d3d3d3"/></linearGradient></defs><rect x="649.8" y="557.6" width="7.8" height="44" fill="url(#cbar)"/><path d="M649.8,558.6 h1.6 M656,558.6 h1.6" stroke="#fff" stroke-width="0.6"/><text x="664.3" y="562.6" font-size="11" fill="#222" text-anchor="start" >2</text><path d="M649.8,570.4 h1.6 M656,570.4 h1.6" stroke="#fff" stroke-width="0.6"/><text x="664.3" y="574.4" font-size="11" fill="#222" text-anchor="start" >1</text><path d="M649.8,582.4 h1.6 M656,582.4 h1.6" stroke="#fff" stroke-width="0.6"/><text x="664.3" y="586.4" font-size="11" fill="#222" text-anchor="start" >0</text><path d="M649.8,594.4 h1.6 M656,594.4 h1.6" stroke="#fff" stroke-width="0.6"/><text x="659.8" y="598.4" font-size="11" fill="#222" text-anchor="start" >−1</text>
</svg>
</body></html>
